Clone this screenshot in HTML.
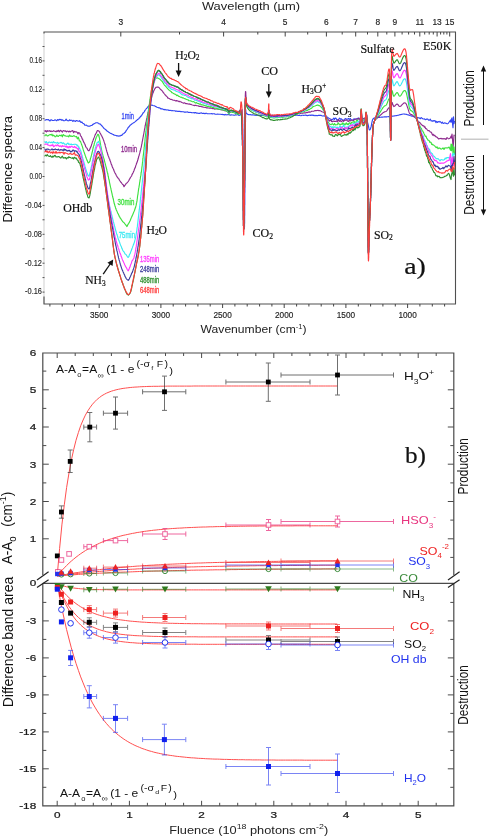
<!DOCTYPE html>
<html><head><meta charset="utf-8"><title>Figure</title>
<style>html,body{margin:0;padding:0;background:#fff;width:490px;height:837px;overflow:hidden}</style>
</head><body>
<svg width="490" height="837" viewBox="0 0 490 837" style="display:block;filter:blur(0.4px)">
<rect width="490" height="837" fill="#fff"/>
<g fill="none" stroke-width="1.15" stroke-linejoin="round">
<path d="M44 120L44.9 120.2L45.7 119.9L46.5 119.5L47.4 119.8L48.2 119.5L49.1 120.2L50 121L50.8 119.9L51.6 119.9L52.5 120.5L53.4 120.5L54.2 120.4L55 119.8L55.9 120.3L56.8 120.8L57.6 119.6L58.5 120.2L59.3 119.3L60.1 119.7L61 119.4L61.9 120.4L62.7 119.8L63.5 120.7L64.4 120.7L65.2 120.5L66.1 119.1L67 120.4L67.8 120.7L68.7 120.8L69.5 119.8L70.3 120.5L71.2 120.2L72 120.3L72.9 121.5L73.8 120.4L74.6 120.9L75.5 121.4L76.3 120.5L77.2 120.8L78 121.1L78.8 121.2L79.6 120.7L80.4 121.8L81.2 122.5L82 122.1L82.7 123.2L83.4 123.5L84.1 123.9L84.8 125.1L85.5 125.2L86.4 125.1L87.2 125.8L88.1 126.2L88.9 126.1L89.7 126.2L90.5 125.7L91.2 125.5L92 125.4L92.8 124.4L93.5 124.2L94.3 123.5L95 123.3L96 122.7L96.9 122.7L97.9 122.9L98.6 123.4L99.4 123.9L100.2 124L101 124.8L101.5 125.6L102 125.7L102.6 126.6L103.2 127.3L103.8 128.2L104.4 128.7L105 129.1L105.7 129.7L106.4 130.3L107.1 131.2L107.8 131.4L108.5 132L109.3 132.6L110 133L110.8 133.4L111.7 133.7L112.5 134.3L113.4 134.5L114.2 135.2L115 135.3L116 135.5L116.9 135.9L117.9 135.8L118.8 136.2L119.7 135.9L120.4 135.9L121.1 135.3L121.8 135.3L122.5 134.4L123.2 133.8L124 133.4L124.5 132.8L124.9 132.4L125.4 132.2L126 130.9L126.5 130.1L127 129.5L127.5 128.8L128 127.9L128.5 127.2L129 126.8L129.5 126.2L130.2 125.2L130.8 124.8L131.5 124.3L132.1 123.7L132.7 123.5L133.3 122.8L134 122.7L134.6 122.1L135.3 121.6L135.9 121L136.6 120.6L137.2 119.7L137.9 119.3L138.6 119L139.3 117.8L139.8 117.8L140.3 116.6L140.9 116.4L141.4 115.3L142 114.9L142.5 114L143.1 112.9L143.6 112.7L144.1 112L144.6 111.1L145 110.4L145.7 109.5L146.4 108.5L146.9 108.2L147.5 107.2L148 106.8L148.5 106.1L149.4 105.4L150.2 104.9L151 105.3L151.9 105L152.8 105.5L154 105.8L154.7 105.9L155.4 106.4L156.2 106.7L157 107.2L157.9 107.5L159 107.9L159.7 107.9L160.3 108.3L161 109L161.7 108.7L162.4 108.9L163.2 109.3L164.1 109.8L165.1 109.4L166.2 109.9L167.5 110L168.1 109.8L168.7 110.4L169.4 110.4L170.1 110.5L170.8 110.4L171.6 110.7L172.4 110.6L173.2 110.8L174 110.7L174.8 110.7L175.7 111.3L176.5 111L177.4 111.3L178.3 111.3L179.1 111.3L180 111.4L180.9 111.7L181.8 111.6L182.6 111.7L183.5 111.8L184.3 112.1L185.2 112.1L186 112.1L186.8 112L187.6 111.9L188.4 112.4L189.2 112.5L190 112.3L190.8 112.5L191.6 112.6L192.4 112.7L193.2 112.8L194 112.6L194.8 113.1L195.6 112.6L196.4 113.1L197.3 113L198.1 113.2L198.9 113.4L199.7 113.4L200.6 113L201.5 112.9L202.3 113.5L203.2 113.2L204.1 113.4L205 113.7L205.8 113.2L206.5 113.2L207.3 113.7L208.2 113.7L209 113.7L209.9 113.8L210.7 113.7L211.6 113.6L212.5 113.9L213.4 113.8L214.3 113.7L215.2 114.2L216 114.2L216.9 114.3L217.8 114.1L218.7 114.2L219.6 114.2L220.4 114.2L221.3 114.5L222.1 114.3L222.9 114.6L223.7 114.6L224.5 115L225.3 114.4L226 114.9L226.7 114.7L227.4 114.8L228 114.5L229.1 114.8L230.2 115.1L231.3 114.9L232.2 115L233.2 115L234 115.3L234.9 115.1L235.7 114.7L236.4 115L237.1 114.8L237.8 114.5L238.4 115.1L239 115.5L239.5 115.3L240 115.1L241.6 112.4L242.1 109.6L242.5 116L242.5 116.4L242.5 116.8L242.6 117.3L242.6 117.8L242.6 118.3L242.6 118.8L242.6 119.3L242.6 119.8L242.7 120.4L242.7 121L242.7 121.6L242.7 122.2L242.7 122.8L242.7 123.5L242.8 124.1L242.8 124.8L242.8 125.5L242.8 126.2L242.8 126.9L242.8 127.7L242.8 128.4L242.9 129.2L242.9 129.9L242.9 130.7L242.9 131.5L242.9 132.3L242.9 133.1L242.9 133.9L243 134.8L243 135.6L243 136.5L243 137.3L243 138.2L243 139.1L243 140L243.1 140.9L243.1 141.8L243.1 142.7L243.1 143.6L243.1 144.5L243.1 145.5L243.1 146.4L243.1 147.3L243.2 148.3L243.2 149.2L243.2 150.2L243.2 151.1L243.2 152.1L243.2 153L243.2 154L243.2 155L243.3 155.9L243.3 156.9L243.3 157.9L243.3 158.8L243.3 159.8L243.3 160.8L243.3 161.8L243.3 162.7L243.3 163.7L243.4 164.7L243.4 165.6L243.4 166.6L243.4 167.5L243.4 168.5L243.4 169.4L243.4 170.4L243.4 171.3L243.4 172.3L243.5 173.2L243.5 174.1L243.5 175.1L243.5 176L243.5 176.9L243.5 177.8L243.5 178.7L243.5 179.6L243.5 180.5L243.5 181.3L243.6 182.2L243.6 183.1L243.6 183.9L243.6 184.8L243.6 185.6L243.6 186.4L243.6 187.2L243.6 188L243.6 188.8L243.6 189.6L243.7 190.3L243.7 191.1L243.7 191.8L243.7 192.5L243.7 193.2L243.7 193.9L243.7 194.6L243.7 195.3L243.7 195.9L243.7 196.5L243.8 197.2L243.8 197.8L243.8 198.3L243.8 198.9L243.8 199.5L243.8 200L243.8 201.7L243.9 203.4L243.9 205.1L243.9 206.7L243.9 208.3L244 209.9L244 211.5L244 213L244 214.4L244.1 215.8L244.1 217.2L244.1 218.5L244.1 219.7L244.1 220.9L244.2 222L244.2 223L244.2 223.9L244.2 224.8L244.2 225.6L244.3 226.3L244.3 226.9L244.3 227.4L244.3 227.7L244.3 228L244.4 228.2L244.4 228.3L244.4 228.2L244.4 228L244.4 227.7L244.5 227.3L244.5 226.7L244.5 226L244.5 225.7L244.5 225.4L244.5 225.1L244.5 224.7L244.5 224.4L244.5 224L244.6 223.5L244.6 223.1L244.6 222.6L244.6 222.1L244.6 221.6L244.6 221.1L244.6 220.5L244.6 219.9L244.6 219.3L244.6 218.7L244.6 218.1L244.6 217.4L244.6 216.7L244.6 216L244.7 215.3L244.7 214.6L244.7 213.8L244.7 213.1L244.7 212.3L244.7 211.5L244.7 210.7L244.7 209.9L244.7 209.1L244.7 208.2L244.7 207.4L244.7 206.5L244.7 205.6L244.8 204.8L244.8 203.9L244.8 203L244.8 202L244.8 201.1L244.8 200.2L244.8 199.2L244.8 198.3L244.8 197.3L244.8 196.4L244.8 195.4L244.8 194.4L244.8 193.5L244.9 192.5L244.9 191.5L244.9 190.5L244.9 189.5L244.9 188.5L244.9 187.5L244.9 186.5L244.9 185.6L244.9 184.6L244.9 183.6L244.9 182.6L244.9 181.6L244.9 180.6L244.9 179.6L245 178.6L245 177.6L245 176.6L245 175.6L245 174.7L245 173.7L245 172.7L245 171.8L245 170.8L245 169.9L245 169L245 168L245 167.1L245.1 166.2L245.1 165.3L245.1 164.4L245.1 163.5L245.1 162.6L245.1 161.8L245.1 160.9L245.1 160.1L245.1 159.3L245.1 158.5L245.1 157.7L245.1 156.9L245.1 156.1L245.1 155.4L245.2 154.7L245.2 153.9L245.2 153.2L245.2 152.6L245.2 151.9L245.2 151.2L245.2 150.6L245.2 150L245.2 148.8L245.2 147.6L245.2 146.4L245.2 145.3L245.3 144.1L245.3 143L245.3 141.9L245.3 140.8L245.3 139.7L245.3 138.7L245.3 137.6L245.3 136.6L245.3 135.6L245.3 134.6L245.3 133.7L245.4 132.7L245.4 131.8L245.4 130.8L245.4 129.9L245.4 129.1L245.4 128.2L245.4 127.3L245.4 126.5L245.4 125.7L245.4 124.9L245.4 124.1L245.4 123.4L245.4 122.6L245.5 121.9L245.5 121.2L245.5 120.5L245.5 119.8L245.5 119.2L245.5 118.5L245.5 117.9L245.6 117.3L245.6 116.7L245.6 116.2L245.6 115.6L245.6 115.1L245.6 114.6L245.7 114.1L245.7 113.7L245.7 113.2L245.7 112.8L245.8 112.4L245.8 112L245.8 109.8L245.7 110.8L246.2 113.1L248 114.5L248.5 114.6L249.1 114.6L249.7 114.7L250.4 114.6L251.2 115L252 114.9L252.9 114.9L253.8 115L254.7 115.1L255.6 115.3L256.6 115.3L257.6 115.2L258.6 115L259.6 115.4L260.5 115.2L261.5 115.5L262.4 115.1L263.3 115.3L264.1 115.3L264.9 115.1L265.7 115.7L266.4 115.6L267 115.2L267.5 115.4L268 115.3L269.6 114L269.6 113.5L269.1 112.4L268.8 112L268.5 112.2L268 113.4L268 114.5L269.6 115.5L270 115.4L270.5 115.4L271.1 115.8L271.7 115.4L272.3 115.4L273 115.2L273.7 115.9L274.4 115.8L275.2 115.8L276 115.7L276.9 115.6L277.7 115.6L278.6 115.5L279.5 115.5L280.4 115.5L281.4 115.8L282.3 115.6L283.3 115.5L284.2 115.3L285.2 115.3L286.2 115.7L287.1 115.5L288.1 115.4L289 115.3L290 115.2L290.7 115.4L291.5 115.6L292.3 115.3L293.1 115.4L293.9 115.4L294.8 115.4L295.6 115.1L296.5 115.3L297.4 115.2L298.3 115.5L299.2 115.2L300.1 115.5L301 115.7L301.9 115.3L302.8 115.2L303.8 115.4L304.7 115.3L305.6 115.1L306.5 115.4L307.4 115.7L308.2 115.3L309.1 115.3L309.9 115.1L310.8 115.4L311.6 115.1L312.3 115.1L313.1 115.6L313.8 115.2L314.5 115.6L315.2 115.7L315.8 115.4L316.4 115.5L317 115.8L318.5 115.4L319.8 115.4L320.9 115.3L321.8 115.7L322.5 116L323.2 116L323.8 115.8L324.3 115.9L324.9 116.1L325.4 116.4L326 116.5L327 116.9L327.6 117.4L328.2 117.7L328.8 118.3L329.7 118.7L331 119.3L331.6 120.4L332.2 119.6L332.9 119.2L333.7 118.1L334.4 119.6L335.2 118L336.1 118.4L336.9 120L337.8 119.9L338.7 119.3L339.6 118.2L340.5 119.1L341.4 118.9L342.4 119.9L343.3 121L344.1 119.6L345 118.9L345.8 118.6L346.7 119.3L347.5 119.2L348.4 118.5L349.3 119.4L350.3 118.5L351.2 120L352.1 120L353 120L353.9 118.8L354.8 119.5L355.6 119L356.5 118.8L357.3 118.8L358 118.1L358.7 118L359.4 119.6L360 118.9L361.4 119.1L362.5 119L363.4 118.9L364.2 119L364.8 119L365.4 119.2L366 119.5L366.6 120L367 120.6L367.3 121.4L367.5 122.2L367.7 123.1L368 124L368.2 124.9L368.4 125.9L368.6 126.9L368.8 128L369 128.9L369.2 129.6L369.4 130L369.8 130L370.2 129.4L370.6 128.3L371 127L371.2 126.4L371.3 125.6L371.5 124.8L371.6 123.8L371.8 122.9L372 122L372.2 121.1L372.4 120.3L372.7 119.6L373 119L373.6 118.4L374.2 118L374.9 117.8L375.7 117.7L376.7 117.6L378 117.5L378.6 117.4L379.3 117.3L380 117.3L380.8 117.2L381.7 117.1L382.5 117.1L383.4 117L384.3 116.9L385.2 116.9L386.1 116.8L387 116.8L387.8 116.7L388.6 116.6L389.3 116.6L390 116.5L391.1 116.4L392.1 116.3L393 116.1L393.8 116L394.6 115.9L395.4 115.8L396.2 115.6L397 115.5L397.9 115.3L398.8 115.1L399.6 114.8L400.5 114.6L401.4 114.4L402.2 114.2L403.1 114L403.9 114L404.8 114.1L405.7 114.2L406.5 114.4L407.4 114.7L408.2 114.9L409.1 115.2L410 115.5L410.7 115.7L411.3 115.9L412 116.1L412.6 116.3L413.3 116.5L414 116.7L414.9 117L415.9 117.2L417 117.5L417.6 117.6L418.2 117.8L418.9 117.9L419.6 118.1L420.4 118.7L421.1 117.5L421.9 118.1L422.7 118.8L423.5 119L424.4 118.8L425.2 119.7L426.1 119.4L426.9 118.9L427.8 119.2L428.6 120.2L429.5 120.2L430.3 119.2L431.2 121L432 120.8L432.8 121.3L433.6 120.6L434.3 120.9L435.1 120.6L435.9 122.6L436.7 121.4L437.5 122.5L438.3 121.5L439.1 122.1L439.9 121.4L440.7 122.2L441.6 123.1L442.4 122.1L443.2 123.5L444 123.3L444.8 122.8L445.6 123.2L446.4 123.4L447.2 123.8L448 123.7" stroke="#3346f2"/>
<path d="M448 123.7L450.5 120L451 122.4L451.5 119.1L452 117.9L452.5 123.5L453 127.7L453.5 116.8L454 123.7L454.5 120.8" stroke="#3346f2"/>
<path d="M44 130.4L44.8 131.5L45.6 130.7L46.4 132L47.2 130.6L48 131.3L48.8 131L49.6 130.7L50.4 131.5L51.2 131.1L52 131.6L52.8 131.2L53.6 130.6L54.4 131.2L55.2 131.3L56 131.9L56.8 130.8L57.6 131.3L58.4 130.3L59.2 131.8L60 130.8L60.8 130.3L61.6 131.4L62.4 132.1L63.2 130.6L64 130.8L64.8 131.1L65.6 130.9L66.4 131.8L67.2 131.1L68 131.2L68.8 132L69.6 131.2L70.4 131.9L71.2 131.1L72 131L72.8 130.6L73.6 132.7L74.4 131.4L75.2 131.8L76 131.8L76.7 132.1L77.3 132.4L78 133.9L78.7 132.6L79.3 132.9L80 133.7L80.4 135.4L80.7 136L81.1 136.3L81.5 136.9L81.9 138L82.2 139.2L82.6 139L83 140.6L83.3 141L83.7 142.3L84 142.4L84.4 143.5L84.8 144.1L85.2 145L85.6 146.4L86 147.1L86.3 147.5L86.7 148L87 148.2L87.7 149.8L88.4 150.6L89 150.6L89.4 150.2L89.8 149.2L90.1 148.6L90.5 147.5L91 146.6L91.2 146.1L91.5 144.9L91.8 144L92 143.4L92.3 142.4L92.6 141.5L92.9 140.9L93.2 139.8L93.5 139.4L93.7 138.5L94 137.9L94.4 136.9L94.8 135.8L95.1 134.9L95.5 134.4L95.8 133.6L96.2 133.2L96.5 132.6L97.1 131L97.7 130.6L98.6 130.7L98.9 131.2L99.3 131.7L99.6 131.8L100 133L100.5 133.7L100.9 134.4L101.3 135.2L101.8 136.1L102.2 136.9L102.7 138L103.1 138.9L103.5 140L103.7 140.4L104 141.4L104.2 142L104.4 142.7L104.7 143.4L104.9 144.3L105.1 144.7L105.3 145.9L105.5 146.7L105.8 147.5L106 148.3L106.2 149L106.4 149.9L106.7 150.9L106.9 151.7L107.2 152.5L107.4 153L107.7 154.3L108 155.2L108.3 155.9L108.5 156.5L108.8 157L109.1 158.3L109.4 158.8L109.7 159.2L110 160.6L110.3 161.1L110.6 161.9L110.9 162.9L111.2 164.1L111.6 164.6L111.9 165.5L112.2 166.6L112.5 167.4L112.8 167.8L113.1 168.5L113.4 169L113.7 169.8L114 170.7L114.2 171.3L114.5 171.8L115 173L115.4 173.6L115.9 174.6L116.3 175.5L116.7 176.1L117.1 176.9L117.5 177.3L117.8 177.7L118.2 178.4L118.6 178.7L119 179.2L119.6 180.5L120.2 181.2L120.7 182.1L121.3 182.5L121.9 183.5L122.4 184.1L122.8 184.6L123.2 184.8L123.8 186.3L124 186.7L124.2 186.4L124.8 185.3L125.2 185L125.6 184.6L126.1 183.4L126.6 183.3L127.2 182.7L127.8 182L128.4 181.3L129 180.2L129.3 179.5L129.7 178.9L130 178.4L130.4 177.5L130.8 177L131.2 176.5L131.6 176L131.9 174.8L132.3 174.1L132.7 173.4L133.1 172.8L133.5 171.6L133.9 171L134.3 169.6L134.7 168.8L134.9 168.1L135.2 167.7L135.4 167.1L135.7 165.9L135.9 165.4L136.1 164.9L136.4 164L136.6 163.1L136.9 162.9L137.1 162.1L137.4 161.3L137.6 160.4L137.9 159.9L138.1 158.8L138.3 158.3L138.6 157L138.8 156.2L139.1 155.6L139.3 154.5L139.5 153.9L139.8 152.9L140 151.7L140.3 151L140.5 149.9L140.7 149.5L140.8 148.5L141 147.8L141.2 147.4L141.3 146.8L141.5 146L141.6 144.8L141.8 144.1L142 143.5L142.1 142.4L142.3 141.3L142.5 140.7L142.6 139.9L142.8 138.8L143 137.8L143.1 137L143.3 136.5L143.4 135.4L143.6 134.6L143.8 133.8L143.9 133L144.1 132L144.2 131.3L144.4 130.2L144.5 129.5L144.7 128.5L144.9 128.1L145 127.1L145.1 126.2L145.3 125.5L145.4 124.8L145.6 124.2L145.7 123L145.9 122.5L146 121.9L146.2 121.5L146.4 120.2L146.6 119.1L146.8 118.3L147 117.7L147.2 116.4L147.4 115.5L147.5 115L147.7 114L147.9 113.2L148.1 112.2L148.2 111.9L148.4 111.1L148.6 110.2L148.7 109.5L148.9 108.2L149.1 108.1L149.2 107.2L149.4 106.7L149.5 106.1L149.7 105.2L149.8 104.3L150 104.1L150.2 102.8L150.5 101.9L150.7 101L150.9 100.1L151.1 98.9L151.3 98.8L151.5 97.8L151.7 97.2L151.9 96.7L152.1 95.6L152.3 94.5L152.6 94.1L152.8 93.4L153 92.9L153.4 92L153.8 90.6L154.2 90.2L154.6 89L155 88.6L155.5 87.9L155.9 87.4L156.4 87.2L157.1 87L157.9 87.1L158.7 87.3L159.5 88.1L160.3 89.1L161 89.8L161.5 90.2L162 90.7L162.5 91.1L163 92.2L163.5 92.6L163.9 93.3L164.5 94L165 94.7L165.6 95.2L166.1 95.9L166.7 96.3L167.3 97L167.9 98.1L168.5 98.1L169.2 98.6L170 99.1L170.7 99.5L171.5 99.4L172.3 99.8L173.1 100.2L174 100.3L174.9 100.4L175.8 100.9L176.7 100.6L177.6 101L178.3 101.1L179.1 101.7L179.7 101.3L180.4 101.8L181.2 102L181.9 102.5L182.7 102.7L183.6 103.2L184.6 102.8L185.6 103.6L186.8 103.6L187.4 103.7L188.1 104.1L188.7 104L189.4 103.9L190.2 104.4L190.9 104.3L191.7 104.7L192.5 105L193.3 105.2L194.1 105.6L195 105.4L195.8 105.3L196.7 105.7L197.5 105.8L198.4 105.9L199.2 106.4L200.1 106.4L200.9 106.2L201.8 106.9L202.6 106.9L203.5 107.2L204.3 107.3L205.1 107.5L205.9 107.5L206.7 107.9L207.6 107.9L208.5 108L209.4 108.2L210.3 107.9L211.2 108.3L212.1 108.4L213 108.6L213.9 108.4L214.8 109.2L215.6 109L216.5 108.8L217.3 108.8L218.2 109.2L219 109.4L219.7 109.4L220.5 109.6L221.2 109.6L221.8 109.9L222.4 109.8L223 110L223.5 110.3L225.3 111L226.3 110.5L226.8 110.9L227.1 111.1L227.5 111.8L228.2 112.3L228.6 113.5L229 114.1L229.3 113.5L229.6 112.6L230.5 112L231.1 111.6L231.8 111.6L232.7 111.7L233.6 111.8L234.6 111.7L235.6 111.4L236.5 111.7L237.3 112L238 112L239 111.4L239.8 110.2L240.5 109.8L241 110.6L241.5 113.9L241.5 114.3L241.6 114.8L241.6 115.3L241.7 115.7L241.7 116.3L241.7 116.8L241.8 117.3L241.8 117.9L241.8 118.5L241.9 119.1L241.9 119.7L241.9 120.3L242 121L242 121.6L242 122.3L242 123L242.1 123.7L242.1 124.5L242.1 125.2L242.1 125.9L242.2 126.7L242.2 127.5L242.2 128.3L242.2 129.1L242.2 129.9L242.3 130.7L242.3 131.6L242.3 132.4L242.3 133.3L242.3 134.1L242.4 135L242.4 135.9L242.4 136.8L242.4 137.7L242.4 138.6L242.5 139.5L242.5 140.4L242.5 141.4L242.5 142.3L242.5 143.3L242.5 144.2L242.5 145.2L242.6 146.1L242.6 147.1L242.6 148.1L242.6 149.1L242.6 150L242.6 151L242.7 152L242.7 153L242.7 154L242.7 155L242.7 156L242.7 157L242.8 158L242.8 159L242.8 160L242.8 160.7L242.8 161.4L242.8 162.1L242.8 162.8L242.9 163.6L242.9 164.4L242.9 165.1L242.9 165.9L242.9 166.8L242.9 167.6L242.9 168.4L242.9 169.3L243 170.2L243 171.1L243 171.9L243 172.9L243 173.8L243 174.7L243 175.6L243 176.6L243 177.5L243 178.5L243.1 179.4L243.1 180.4L243.1 181.4L243.1 182.4L243.1 183.4L243.1 184.3L243.1 185.3L243.1 186.3L243.1 187.3L243.1 188.3L243.2 189.3L243.2 190.3L243.2 191.3L243.2 192.3L243.2 193.3L243.2 194.3L243.2 195.3L243.2 196.3L243.2 197.3L243.2 198.3L243.2 199.2L243.3 200.2L243.3 201.2L243.3 202.1L243.3 203.1L243.3 204L243.3 205L243.3 205.9L243.3 206.8L243.3 207.7L243.3 208.6L243.3 209.5L243.3 210.4L243.4 211.2L243.4 212.1L243.4 212.9L243.4 213.7L243.4 214.5L243.4 215.3L243.4 216.1L243.4 216.8L243.4 217.6L243.4 218.3L243.4 219L243.4 219.7L243.5 220.3L243.5 221L243.5 221.6L243.5 222.2L243.5 222.8L243.5 223.3L243.5 223.8L243.5 224.4L243.5 224.8L243.5 225.3L243.5 225.7L243.5 226.1L243.6 226.5L243.6 226.9L243.6 227.2L243.6 227.5L243.6 227.8L243.6 228L243.6 228.4L243.6 228.8L243.7 229L243.7 229.1L243.7 229L243.7 228.9L243.7 228.7L243.8 228.4L243.8 227.9L243.8 227.4L243.8 226.8L243.8 226.2L243.9 225.4L243.9 224.6L243.9 223.7L243.9 222.8L243.9 221.8L244 220.8L244 219.7L244 218.6L244 217.4L244 216.2L244 215L244.1 213.8L244.1 212.5L244.1 211.3L244.1 210L244.1 208.7L244.2 207.5L244.2 206.2L244.2 205L244.2 203.7L244.2 202.5L244.2 201.3L244.3 200.2L244.3 199.1L244.3 198L244.3 197.3L244.3 196.7L244.3 196L244.3 195.3L244.4 194.7L244.4 194L244.4 193.3L244.4 192.6L244.4 191.9L244.4 191.1L244.4 190.4L244.4 189.7L244.4 189L244.4 188.2L244.5 187.5L244.5 186.7L244.5 186L244.5 185.2L244.5 184.4L244.5 183.7L244.5 182.9L244.5 182.1L244.5 181.3L244.6 180.5L244.6 179.7L244.6 178.9L244.6 178.1L244.6 177.3L244.6 176.5L244.6 175.7L244.6 174.8L244.6 174L244.6 173.2L244.7 172.4L244.7 171.5L244.7 170.7L244.7 169.8L244.7 169L244.7 168.2L244.7 167.3L244.7 166.5L244.7 165.6L244.7 164.7L244.7 163.9L244.8 163L244.8 162.2L244.8 161.3L244.8 160.4L244.8 159.6L244.8 158.7L244.8 157.8L244.8 157L244.8 156.1L244.8 155.2L244.9 154.4L244.9 153.5L244.9 152.6L244.9 151.7L244.9 150.9L244.9 150L244.9 149.2L244.9 148.5L244.9 147.7L244.9 146.9L244.9 146.1L244.9 145.2L244.9 144.4L245 143.5L245 142.7L245 141.8L245 140.9L245 140L245 139.1L245 138.1L245 137.2L245 136.3L245 135.3L245 134.4L245 133.4L245 132.5L245 131.5L245 130.5L245 129.6L245 128.6L245 127.6L245 126.7L245 125.7L245.1 124.7L245.1 123.7L245.1 122.8L245.1 121.8L245.1 120.8L245.1 119.9L245.1 118.9L245.1 118L245.1 117L245.1 116.1L245.1 115.2L245.1 114.3L245.1 113.3L245.1 112.4L245.1 111.5L245.1 110.7L245.1 109.8L245.1 108.9L245.2 108.1L245.2 107.3L245.2 106.4L245.2 105.6L245.2 104.9L245.2 104.1L245.2 103.3L245.2 102.6L245.2 101.9L245.2 101.2L245.2 100.5L245.2 99.8L245.3 99.2L245.3 98.6L245.3 98L245.3 97.4L245.3 96.9L245.3 96.3L245.3 95.8L245.3 95.4L245.3 94.9L245.4 94.5L245.4 94.1L245.4 93.7L245.4 93.4L245.5 92.1L245.5 91.5L245.6 91.5L245.7 91.9L245.8 92.8L245.8 94L245.9 95.4L246 96.9L246.1 98.5L246.3 100.2L246.4 101.7L246.6 103L246.8 104.1L247 104.9L247.4 105.8L247.9 106.5L248.5 107L249.1 107.5L249.8 107.8L250.5 108.3L251.2 108.5L252 108.8L252.7 109.2L253.4 110L254.2 110.2L255 110.7L255.8 110.7L256.7 111.4L257.5 111.4L258.4 111.8L259.2 112.7L260 112.7L260.8 112.7L261.6 113.2L262.5 113.7L263.3 114.3L264.2 114.3L265 114.4L265.7 115L266.4 115.3L267 115.4L267.5 115.6L268.1 114.9L268.4 114L268.5 112.4L268.6 111.6L268.7 111L268.8 110.4L268.9 110.6L268.9 111.3L268.9 112.6L268.9 113.1L269 114.3L269.4 115.4L270 116L270.5 116L271.2 116.3L271.9 116.3L272.7 116.4L273.5 116.4L274.4 116.2L275.4 116.4L276.3 116.5L277.3 116.1L278.2 116.2L279.1 116.3L280 115.9L280.8 116.1L281.7 115.8L282.5 116.2L283.3 116.3L284.2 116.2L285 115.6L285.8 115.7L286.7 115.5L287.5 115.4L288.3 115.5L289.2 114.8L290 115.2L290.8 114.9L291.7 115L292.6 114.7L293.5 114.4L294.4 114.4L295.3 114.3L296.2 114.1L297 114L297.9 113.7L298.6 113.2L299.3 113.7L300 113.6L301.1 113.3L302 113.2L302.8 113.3L303.5 113L304.2 112.8L305 112.8L305.8 112.9L306.7 112.3L307.6 112.6L308.4 112.1L309.2 111.9L310 112.2L310.9 111.7L311.7 111.2L312.5 111.2L313.3 111.3L314 111.1L315.1 110.6L316.2 110.6L317.1 110.5L317.9 110.3L318.7 110.6L319.5 110.6L320.3 110.8L321.2 111.2L322 111.7L322.8 112L323.7 112.3L324.5 113.1L324.9 114L325.2 114.5L325.6 115.5L326 116.4L326.3 117L326.7 118.1L327 118.1L327.7 119.3L328.4 119.7L329 120.6L329.2 121.1L331 119.9L331.5 121.5L332.2 121.6L332.9 121.6L333.7 121L334.5 121.4L335.4 121.5L336.4 121L337.3 121.8L338.3 119.5L339.3 121.5L340.2 120.4L341.2 121.7L342.1 120.9L342.9 120.4L343.7 121.3L344.4 120.4L345 120.4L346.3 119.8L347.3 120.9L347.9 121.1L348.5 121.4L349.2 120.4L350 121.1L350.8 120.3L351.7 120L352.7 120.3L353.6 120.5L354.6 119.3L355.5 119.2L356.3 119.1L357 119.2L358.4 118.4L359.3 119.7L360 118.2L360.4 118.1L360.6 116.1L360.8 115.8L361 114.9L361.2 113.9L361.4 116L361.6 115.7L361.7 117.8L362 118.3L362.3 118.2L363.1 118.6L364.2 118.4L365 118L365.4 117.3L365.6 116.3L365.8 115.4L366 115L366.3 114.6L366.5 114.3L366.8 115.1L367 118L367 118.4L367 118.9L367 119.3L367.1 119.7L367.1 120.1L367.1 120.6L367.1 121L367.1 121.5L367.1 121.9L367.1 122.4L367.1 122.8L367.1 123.3L367.2 123.8L367.2 124.4L367.2 124.9L367.2 125.5L367.2 126L367.2 126.6L367.2 127.3L367.2 127.9L367.2 128.6L367.2 129.4L367.2 130.1L367.2 130.9L367.2 131.7L367.2 132.6L367.3 133.5L367.3 134.5L367.3 135.5L367.3 136.5L367.3 137.6L367.3 138.8L367.3 140L367.3 141.2L367.3 142.5L367.3 143.9L367.4 145.3L367.4 146.8L367.4 148.4L367.4 150L367.4 150.5L367.4 151.1L367.4 151.7L367.4 152.2L367.4 152.8L367.4 153.5L367.4 154.1L367.4 154.7L367.4 155.4L367.5 156.1L367.5 156.8L367.5 157.5L367.5 158.2L367.5 158.9L367.5 159.6L367.5 160.4L367.5 161.1L367.5 161.9L367.5 162.7L367.5 163.5L367.5 164.3L367.5 165.1L367.5 166L367.5 166.8L367.5 167.6L367.6 168.5L367.6 169.4L367.6 170.2L367.6 171.1L367.6 172L367.6 172.9L367.6 173.8L367.6 174.7L367.6 175.7L367.6 176.6L367.6 177.5L367.6 178.5L367.6 179.4L367.6 180.4L367.6 181.3L367.7 182.3L367.7 183.2L367.7 184.2L367.7 185.2L367.7 186.2L367.7 187.2L367.7 188.1L367.7 189.1L367.7 190.1L367.7 191.1L367.7 192.1L367.7 193.1L367.7 194.1L367.7 195.1L367.8 196.1L367.8 197.1L367.8 198.1L367.8 199.1L367.8 200.1L367.8 201.1L367.8 202.1L367.8 203.1L367.8 204.1L367.8 205L367.8 206L367.8 207L367.8 208L367.9 209L367.9 210L367.9 210.9L367.9 211.9L367.9 212.9L367.9 213.8L367.9 214.8L367.9 215.7L367.9 216.7L367.9 217.6L367.9 218.6L367.9 219.5L367.9 220.4L368 221.3L368 222.2L368 223.1L368 224L368 224.9L368 225.8L368 226.6L368 227.5L368 228.3L368 229.2L368 230L368 230.8L368.1 231.6L368.1 232.4L368.1 233.2L368.1 233.9L368.1 234.7L368.1 235.5L368.1 236.2L368.1 236.9L368.1 237.6L368.1 238.3L368.1 239L368.1 239.7L368.1 240.3L368.2 241L368.2 241.6L368.2 242.2L368.2 242.8L368.2 243.4L368.2 243.9L368.2 244.5L368.2 245L368.2 245.5L368.2 246L368.2 246.5L368.2 247L368.2 247.4L368.3 247.8L368.3 248.3L368.3 248.6L368.3 249L368.3 249.4L368.3 249.7L368.3 250L368.3 251.1L368.4 251.9L368.4 252.5L368.4 252.9L368.5 253.1L368.5 253L368.5 252.8L368.5 252.4L368.6 251.9L368.6 251.2L368.6 250.4L368.7 249.4L368.7 248.4L368.7 247.2L368.8 246L368.8 244.6L368.8 243.3L368.9 241.9L368.9 240.4L368.9 238.9L369 237.5L369 236L369 234.5L369.1 233.1L369.1 231.7L369.1 230.4L369.2 229.1L369.2 227.9L369.2 226.9L369.3 225.9L369.3 225L369.3 224.2L369.4 223.4L369.4 222.7L369.4 221.9L369.5 221.2L369.5 220.5L369.6 219.7L369.6 219L369.6 218.3L369.7 217.6L369.7 216.9L369.7 216.2L369.8 215.5L369.8 214.8L369.9 214.1L369.9 213.4L369.9 212.6L370 211.9L370 211.1L370.1 210.3L370.1 209.5L370.1 208.7L370.2 207.9L370.2 207L370.3 206.1L370.3 205.2L370.3 204.2L370.4 203.2L370.4 202.2L370.5 201.1L370.5 200L370.5 199.4L370.5 198.7L370.6 198L370.6 197.4L370.6 196.7L370.6 195.9L370.7 195.2L370.7 194.5L370.7 193.7L370.7 192.9L370.8 192.2L370.8 191.4L370.8 190.5L370.8 189.7L370.8 188.9L370.9 188.1L370.9 187.2L370.9 186.4L370.9 185.5L371 184.7L371 183.8L371 182.9L371 182L371.1 181.2L371.1 180.3L371.1 179.4L371.1 178.5L371.2 177.6L371.2 176.7L371.2 175.8L371.2 175L371.2 174.1L371.3 173.2L371.3 172.3L371.3 171.4L371.3 170.6L371.4 169.7L371.4 168.8L371.4 168L371.4 167.1L371.5 166.3L371.5 165.5L371.5 164.6L371.5 163.8L371.5 163L371.6 162.2L371.6 161.4L371.6 160.7L371.6 159.9L371.7 159.2L371.7 158.4L371.7 157.7L371.7 157L371.8 156.3L371.8 155.7L371.8 155L371.8 153.9L371.9 152.8L371.9 151.8L371.9 150.8L372 149.7L372 148.7L372.1 147.7L372.1 146.8L372.1 145.8L372.2 144.9L372.2 143.9L372.2 143L372.3 142.1L372.3 141.2L372.3 140.4L372.4 139.5L372.4 138.7L372.4 137.9L372.5 137.1L372.5 136.3L372.5 135.6L372.6 134.9L372.6 134.1L372.7 133.4L372.7 132.8L372.7 132.1L372.8 131.4L372.8 130.8L372.8 130.2L372.9 129.6L372.9 129.1L373 128.5L373 128L373.2 126.1L373.3 124.7L373.5 123.7L373.7 123L373.8 122.4L374 122L374.3 121.5L374.5 121L375 120.1L375.6 119.5L376.3 118.9L377.2 118.1L377.7 117.7L378.3 117.1L378.9 116.5L379.6 115.9L380.3 115.2L381 114.6L381.7 114L382.3 113.4L382.9 112.9L383.4 112.5L384.4 111.9L385.1 111.7L385.8 111.5L386.4 111.2L387 110.5L387.5 109.6L388 108.8L388.5 108.1L388.9 107.8L389.4 107.3L389.6 107.5L389.9 110.7L389.9 111.1L389.9 111.7L390 112.4L390 113.1L390 113.9L390 114.8L390.1 115.7L390.1 116.6L390.1 117.7L390.1 118.7L390.2 119.8L390.2 120.9L390.2 122L390.2 123.1L390.2 124.3L390.3 125.4L390.3 126.6L390.3 127.7L390.3 128.9L390.3 130L390.4 131L390.4 132.1L390.4 133.1L390.4 134.1L390.5 135L390.5 135.8L390.5 136.6L390.5 137.3L390.5 138L390.6 138.6L390.6 139.1L390.6 139.4L390.6 139.7L390.7 139.9L390.7 140L390.7 140L390.7 139.9L390.7 139.7L390.8 139.4L390.8 139.1L390.8 138.6L390.8 138.1L390.8 137.6L390.8 137L390.9 136.3L390.9 135.6L390.9 134.8L390.9 133.9L390.9 133.1L390.9 132.2L390.9 131.2L391 130.2L391 129.2L391 128.2L391 127.1L391 126.1L391 125L391.1 123.9L391.1 122.8L391.1 121.7L391.1 120.5L391.1 119.4L391.2 118.3L391.2 117.3L391.2 116.2L391.2 115.1L391.2 114.1L391.3 113.1L391.3 112.1L391.3 111.2L391.3 110.3L391.4 109.4L391.4 108.6L391.4 107.8L391.4 107.1L391.5 106.4L391.5 105.8L391.5 105.3L391.6 104.8L391.6 104.4L392.2 102.5L392.9 104.8L393.8 106.6L394.4 106.3L395.1 105.7L395.8 104.9L396.5 104.3L397.1 104L397.8 104.4L398.5 105.3L399.1 106.2L399.9 106.5L400.5 106.3L401.2 105.7L401.9 104.9L402.7 104.1L403.3 103.4L403.9 103L405.1 102.8L406 103.7L406.4 104.3L406.7 105.1L407.1 106.1L407.4 107.1L407.8 108.1L408.1 108.9L408.3 109.7L408.6 110.6L408.8 111.4L409.1 112.3L409.4 113L409.7 113.5L410.5 114.3L411.4 114.6L412.1 114.9L412.7 115.2L413.3 115.8L413.8 116.3L414.5 117L415.2 117.7L415.9 118.4L416.4 119L416.8 119.5L417.1 120L417.6 120.5L418.2 121.2L418.9 121.8L419.5 122.5L420.1 122.8L420.7 123.5L421.3 124.6L422 125L422.6 125.6L423.2 126L423.8 125.8L424.4 127.2L425 126.8L425.6 128.6L426.2 128.6L426.8 129.2L427.4 130L428 130.7L428.8 130.5L429.5 131L430.2 132L431 132.1L431.8 133.2L432.5 135.1L433.2 134.3L434 135.7L434.8 135.2L435.5 136.6L436.2 136.7L437 137.3L437.8 138L438.5 139L439.2 138.5L440 138.7L441 138.3L442 139L443 138.6L444 139.1L445 138.6L446 139.5L447 137.6L448 138.4L449 138.9" stroke="#8e2a8e"/>
<path d="M449 138.9L450.5 137.7L451 136.1L451.5 138L452 134.1L452.5 139.3L453 147.5L453.5 142.9L454 135L454.5 135.9" stroke="#8e2a8e"/>
<path d="M44 135L44.8 135.8L45.6 134.8L46.4 134.9L47.2 135.9L48 135.9L48.8 135.2L49.6 134.8L50.4 134.5L51.2 135.1L52 134.2L52.8 136L53.6 135.2L54.4 135.9L55.2 136.8L56 136.4L56.8 135L57.6 136.3L58.4 136.5L59.2 135.4L60 135.3L60.8 135.8L61.6 135L62.4 136.8L63.2 134.5L64 135.3L64.8 135.9L65.6 135.9L66.4 136.2L67.2 136.3L68 136L68.8 136.9L69.6 135L70.4 136.3L71.2 135.9L72 136.4L72.8 136.4L73.6 135.7L74.4 135.8L75.2 136.7L76 136.7L76.6 136.4L77.1 138.4L77.7 138.9L78.3 137.2L78.9 138.9L79.4 141L80 141L80.3 141L80.5 141.5L80.8 142.3L81.1 142.9L81.4 144L81.6 144.5L81.9 145.3L82.2 146L82.5 147.1L82.7 147.7L83 148.8L83.3 149.9L83.5 150.5L83.8 151.3L84 151.9L84.3 152.7L84.6 153.6L84.9 154.4L85.2 155.5L85.5 155.9L85.8 157.3L86 157.7L86.3 158.3L86.5 159L86.8 159.6L87 160.3L87.6 161.4L88.1 162.8L88.5 162.8L89 162.3L89.2 162.4L89.5 161.6L89.7 161.5L89.9 161L90.2 160L90.4 158.6L90.7 157.7L91 157.2L91.2 156.2L91.4 155.4L91.5 154.9L91.7 154.5L91.9 153.4L92.2 152.2L92.4 151.4L92.6 150.6L92.8 149.4L93 148.4L93.2 147.8L93.4 146.7L93.6 146.2L93.8 145.5L94 145.4L94.3 143.5L94.6 142.7L94.9 141.7L95.2 140.9L95.4 140.2L95.7 139.1L96 138.3L96.2 137.4L96.5 137L97.2 135.6L97.8 134.3L98.6 134.7L98.7 135.3L98.9 135.9L99 136.6L99.2 136.9L99.3 137.8L99.5 138.1L99.6 139.1L99.8 140.7L100 140.7L100.1 142.1L100.3 143.1L100.5 144L100.6 144.8L100.8 145.9L101 146.8L101.1 147.7L101.3 148.1L101.4 149.3L101.6 149.8L101.8 150.8L102 151.8L102.2 152.7L102.4 153.6L102.6 154.1L102.9 155.2L103.1 156L103.3 156.7L103.5 157.5L103.7 157.9L103.9 158.7L104.1 159.6L104.3 160L104.5 161L104.7 161.6L104.9 162.4L105.1 162.8L105.2 163.6L105.4 164.4L105.6 165.2L105.8 165.9L105.9 166.3L106.1 167.1L106.3 167.7L106.5 168.8L106.8 169.7L107 170.9L107.3 172.4L107.4 172.6L107.6 172.9L107.7 173.7L107.9 174.3L108 175.1L108.2 176.3L108.4 176.9L108.5 177.3L108.7 178.6L108.9 179.5L109.1 180L109.3 180.8L109.4 181.8L109.6 182.8L109.8 183.7L110 184.7L110.2 185.6L110.4 186.5L110.6 187.4L110.8 188.1L110.9 188.5L111.1 189.7L111.3 190.6L111.5 191.3L111.7 192.3L111.8 192.8L112 193.5L112.2 194.6L112.3 195.2L112.5 195.7L112.6 196.5L112.9 197.6L113.1 198.5L113.3 198.9L113.5 200.2L113.7 201.1L113.9 201.8L114.1 202.8L114.3 203.8L114.5 204.2L114.7 204.7L114.9 206L115.1 206.2L115.3 206.7L115.5 207.7L115.7 208.4L116 208.9L116.3 210L116.7 210.6L117 211.4L117.4 212.4L117.8 213.4L118.2 213.9L118.6 214.9L119 215.5L119.4 216.9L119.8 216.9L120.2 218L120.6 218.4L121 219L121.5 219.9L122.1 220.7L122.7 221.6L123.2 222.1L123.8 222.5L124.4 223.2L124.9 223.9L125.4 224.5L125.8 225.1L126.1 225.3L126.8 226.4L126.9 226.6L127.1 226.3L127.7 224.9L127.9 224.5L128.2 223.9L128.6 223.9L128.9 222.8L129.3 222.4L129.7 221.5L130.1 220.8L130.5 219.7L131 218.5L131.3 217.8L131.6 217.3L131.9 216.6L132.2 215.8L132.5 215.1L132.8 214.7L133.2 213.3L133.5 212.9L133.8 211.8L134.2 211.2L134.5 210.5L134.8 209.5L135.1 208.8L135.4 207.5L135.7 207.1L135.9 205.9L136.1 205.4L136.3 204.6L136.4 203.3L136.6 202.9L136.7 202.4L136.8 201.9L137 200.9L137.1 200.1L137.2 199L137.3 198.8L137.4 198L137.5 196.9L137.6 196L137.8 194.9L137.9 194.5L138 194.1L138.1 192.8L138.2 192L138.4 191L138.5 189.8L138.6 189.5L138.7 188.3L138.9 187.7L139 187.1L139.1 186.4L139.2 185.6L139.4 184.8L139.5 183.7L139.6 182.8L139.7 182.3L139.9 181.3L140 180.4L140.1 179.6L140.3 178.9L140.4 177.8L140.5 177.1L140.6 176.2L140.8 175.7L140.9 175L141 174.5L141.1 172.9L141.3 172.3L141.4 171.8L141.5 170.8L141.6 169.9L141.7 169.6L141.8 168.4L141.9 167.4L142 166.7L142.1 166.3L142.2 165.5L142.3 164.5L142.3 163.8L142.4 163.4L142.5 162.7L142.6 161.7L142.7 161.2L142.8 160.5L142.8 159.3L142.9 158.8L143 158.2L143.1 157.2L143.2 156L143.3 155.6L143.4 154.9L143.5 154.2L143.6 152.5L143.7 152.5L143.8 150.8L143.9 150.2L144 149.6L144.1 148.9L144.1 148L144.2 147L144.3 146.7L144.4 145.7L144.4 144.6L144.5 144.9L144.6 143.7L144.7 143.1L144.8 141.8L144.9 141.4L145 140.7L145 139.8L145.1 138.7L145.2 137.6L145.3 137L145.4 135.8L145.5 135L145.6 134.5L145.7 133.5L145.8 132.8L145.9 131.9L146 131.5L146.1 130.5L146.2 129.4L146.3 128.8L146.3 127.5L146.4 126.8L146.5 126.2L146.6 124.9L146.7 124.3L146.8 123.2L146.9 122.7L147 122.2L147.1 120.9L147.2 120.3L147.3 119.3L147.4 118.5L147.5 117.8L147.6 117.4L147.7 116.7L147.8 115.5L147.9 114.4L148.1 113.8L148.2 112.7L148.3 112L148.4 111L148.5 110.1L148.6 109.3L148.8 108.2L148.9 107.3L149 106.2L149.1 105.6L149.2 104.5L149.4 103.9L149.5 102.9L149.6 102.2L149.7 101.5L149.8 100.2L150 99.5L150.1 98.7L150.2 98.3L150.3 97.7L150.4 96.7L150.5 95.8L150.6 95.4L150.8 94.1L150.9 94L151 92.9L151.1 91.8L151.2 92.3L151.3 91.5L151.4 90.3L151.5 90L151.8 88.6L152 87.4L152.3 86L152.5 85.2L152.7 84.6L153 83.8L153.2 83.3L153.4 82.5L153.6 82.4L153.9 81.2L154.1 81L154.3 80.1L154.5 79.7L155.1 79.1L155.7 78L156.3 78.1L157 78L157.7 77.9L158.5 78.4L159.3 78.8L160.2 79.4L161 80.4L161.5 80.8L162 81.2L162.5 81.8L162.9 82.7L163.4 83.3L163.9 84.3L164.5 85.3L165 85.6L165.5 86.1L166 86.7L166.5 87.1L167 87.8L167.5 88.4L168.1 89.1L168.7 89.7L169.3 90.5L170 90.8L170.6 91.3L171.2 91.6L171.8 92.6L172.5 92.7L173.2 93.4L173.9 93.6L174.6 94.1L175.3 94.2L176.1 94.8L176.8 95.6L177.6 95.2L178.3 96L178.9 96.4L179.6 96.5L180.2 96.9L180.9 97.3L181.5 97.2L182.2 97.8L183 97.8L183.8 98.2L184.7 98.6L185.7 99.1L186.8 99.5L187.4 99.8L188 99.7L188.7 100.6L189.3 100.7L190 100.8L190.7 100.9L191.5 101.2L192.2 101.6L193 101.8L193.8 101.6L194.6 102.4L195.4 103.1L196.2 102.4L197 103.3L197.8 103.4L198.7 103.6L199.5 104.2L200.3 103.9L201.1 104.4L201.9 105L202.7 104.9L203.5 105.1L204.3 105.4L205.1 105.5L205.9 106.1L206.7 105.9L207.6 106.5L208.5 106.2L209.4 106.9L210.3 106.9L211.2 106.6L212.1 107.4L213 107.4L213.9 107.7L214.8 108.3L215.6 108L216.5 108.2L217.3 108.9L218.2 108.8L219 109.2L219.7 109.2L220.5 109.1L221.2 109.4L221.8 109.8L222.4 109.9L223 109.9L223.5 110L225.3 110.4L226.3 110.6L226.8 111.4L227.1 111.2L227.5 111.3L228.2 112.3L228.6 113.6L229 114.1L229.3 113.5L229.6 112.4L230.5 112L231.1 111.7L231.8 111.9L232.7 112.5L233.6 112.5L234.6 113L235.6 113.4L236.5 113.6L237.3 113.8L238 114.4L239 113.9L239.8 112.7L240.5 112.2L241 112.9L241.5 116L241.5 116.4L241.6 116.9L241.6 117.3L241.7 117.8L241.7 118.3L241.7 118.9L241.8 119.4L241.8 120L241.8 120.5L241.9 121.1L241.9 121.7L241.9 122.4L242 123L242 123.6L242 124.3L242.1 125L242.1 125.7L242.1 126.4L242.1 127.2L242.2 127.9L242.2 128.7L242.2 129.4L242.2 130.2L242.2 131L242.3 131.8L242.3 132.6L242.3 133.5L242.3 134.3L242.3 135.1L242.4 136L242.4 136.9L242.4 137.8L242.4 138.7L242.4 139.6L242.5 140.5L242.5 141.4L242.5 142.3L242.5 143.2L242.5 144.2L242.5 145.1L242.6 146.1L242.6 147.1L242.6 148L242.6 149L242.6 150L242.6 151L242.7 151.9L242.7 152.9L242.7 153.9L242.7 154.9L242.7 155.9L242.7 157L242.8 158L242.8 159L242.8 160L242.8 160.7L242.8 161.4L242.8 162.1L242.8 162.8L242.9 163.5L242.9 164.3L242.9 165.1L242.9 165.9L242.9 166.7L242.9 167.5L242.9 168.3L242.9 169.2L243 170.1L243 170.9L243 171.8L243 172.7L243 173.6L243 174.6L243 175.5L243 176.4L243 177.4L243 178.3L243.1 179.3L243.1 180.3L243.1 181.2L243.1 182.2L243.1 183.2L243.1 184.2L243.1 185.2L243.1 186.2L243.1 187.2L243.1 188.2L243.2 189.2L243.2 190.2L243.2 191.2L243.2 192.2L243.2 193.2L243.2 194.2L243.2 195.2L243.2 196.2L243.2 197.2L243.2 198.1L243.2 199.1L243.3 200.1L243.3 201.1L243.3 202L243.3 203L243.3 203.9L243.3 204.9L243.3 205.8L243.3 206.7L243.3 207.6L243.3 208.5L243.3 209.4L243.3 210.3L243.4 211.1L243.4 212L243.4 212.8L243.4 213.6L243.4 214.4L243.4 215.2L243.4 216L243.4 216.8L243.4 217.5L243.4 218.2L243.4 218.9L243.4 219.6L243.5 220.3L243.5 220.9L243.5 221.6L243.5 222.2L243.5 222.7L243.5 223.3L243.5 223.8L243.5 224.3L243.5 224.8L243.5 225.3L243.5 225.7L243.5 226.1L243.6 226.5L243.6 226.9L243.6 227.2L243.6 227.5L243.6 227.8L243.6 228L243.6 228.4L243.6 228.8L243.7 229L243.7 229.1L243.7 229L243.7 228.9L243.7 228.7L243.8 228.4L243.8 227.9L243.8 227.4L243.8 226.8L243.8 226.2L243.9 225.4L243.9 224.6L243.9 223.7L243.9 222.8L243.9 221.8L244 220.8L244 219.7L244 218.6L244 217.4L244 216.2L244 215L244.1 213.8L244.1 212.5L244.1 211.3L244.1 210L244.1 208.7L244.2 207.5L244.2 206.2L244.2 205L244.2 203.7L244.2 202.5L244.2 201.3L244.3 200.2L244.3 199.1L244.3 198L244.3 197.3L244.3 196.7L244.3 196L244.3 195.3L244.4 194.6L244.4 193.9L244.4 193.2L244.4 192.5L244.4 191.8L244.4 191.1L244.4 190.3L244.4 189.6L244.4 188.8L244.4 188.1L244.5 187.3L244.5 186.5L244.5 185.8L244.5 185L244.5 184.2L244.5 183.4L244.5 182.6L244.5 181.8L244.5 181L244.6 180.2L244.6 179.4L244.6 178.6L244.6 177.7L244.6 176.9L244.6 176.1L244.6 175.2L244.6 174.4L244.6 173.6L244.6 172.7L244.7 171.9L244.7 171.1L244.7 170.2L244.7 169.4L244.7 168.5L244.7 167.7L244.7 166.8L244.7 166L244.7 165.1L244.7 164.3L244.7 163.4L244.8 162.6L244.8 161.7L244.8 160.9L244.8 160L244.8 159.2L244.8 158.3L244.8 157.5L244.8 156.6L244.8 155.8L244.8 155L244.9 154.1L244.9 153.3L244.9 152.5L244.9 151.6L244.9 150.8L244.9 150L244.9 149.2L244.9 148.4L244.9 147.6L244.9 146.7L244.9 145.9L244.9 145L245 144.1L245 143.2L245 142.3L245 141.4L245 140.5L245 139.6L245 138.7L245 137.7L245 136.8L245 135.9L245 134.9L245 134L245 133L245 132.1L245 131.1L245 130.1L245 129.2L245.1 128.2L245.1 127.3L245.1 126.3L245.1 125.4L245.1 124.4L245.1 123.5L245.1 122.6L245.1 121.6L245.1 120.7L245.1 119.8L245.1 118.9L245.1 118L245.1 117.1L245.1 116.3L245.1 115.4L245.1 114.5L245.1 113.7L245.2 112.9L245.2 112.1L245.2 111.3L245.2 110.5L245.2 109.7L245.2 109L245.2 108.3L245.2 107.6L245.2 106.9L245.2 106.2L245.2 105.6L245.3 104.9L245.3 104.3L245.3 103.7L245.3 103.2L245.3 102.6L245.3 102.1L245.3 101.7L245.4 101.2L245.4 100.8L245.4 100.4L245.4 100L245.5 97.9L245.7 97.6L245.8 98.6L246 100.4L246.3 102.5L246.6 104.4L247 105.7L247.4 106.3L247.9 106.9L248.5 107.5L249.1 108.1L249.8 108.7L250.5 109.4L251.2 109.9L252 110.1L252.7 110.7L253.4 111L254.2 111.1L255 111.8L255.8 112.1L256.7 112.4L257.5 112.5L258.4 113.1L259.2 113.5L260 113.8L260.8 113.9L261.6 114.7L262.5 114.7L263.3 115.3L264.2 116L265 116L265.7 116.3L266.4 116.8L267 116.6L267.5 116.5L268 116.2L268.3 115.5L268.5 113.7L268.6 112.8L268.6 111.7L268.7 110.9L268.8 110.7L268.9 111L268.9 111.8L268.9 112.5L268.9 113.7L268.9 114.8L269.1 115.6L269.4 116.6L270 117.5L270.5 117.5L271.2 117.5L271.9 117.7L272.7 117.6L273.5 117.9L274.4 118L275.4 117.6L276.3 117.6L277.3 117.8L278.2 117.4L279.1 117.5L280 117.2L280.8 117.2L281.7 117.2L282.5 117.7L283.3 117.1L284.2 116.9L285 116.8L285.8 116.8L286.7 116.8L287.5 116.6L288.3 116.8L289.2 116.3L290 116.3L290.8 115.9L291.6 115.7L292.4 115.1L293.2 115.1L294.1 114.8L294.9 114.5L295.7 113.8L296.5 114.1L297.3 113.6L298 113.3L298.7 113.1L299.4 112.9L300 112.8L301.1 112.1L302 111.9L302.8 111.9L303.5 111.7L304.2 111.4L305 111.1L305.8 110.7L306.7 110.5L307.6 110.4L308.4 109.5L309.2 109.7L310 109.1L310.9 108.4L311.7 108.1L312.5 107.1L313.3 106.6L314 106.3L314.9 106L315.6 105.7L316.4 105.3L317.1 105.3L317.9 104.9L318.7 105.6L319.5 105.6L320.1 106.2L320.7 106.8L321.4 107.4L322 108.1L322.5 108.7L323 109.6L323.5 110.4L324 111.2L324.5 111.9L324.8 112.6L325 113.3L325.3 114.3L325.5 114.7L325.8 116.2L326 116.7L326.3 117.5L326.5 118.5L326.8 119.3L327 119.8L327.5 121.1L328 121.8L328.5 122.7L329 123.3L329.2 123.9L331 124.7L331.5 124.4L332.2 123.7L332.9 124.2L333.7 125L334.5 123.5L335.4 124.9L336.4 124.7L337.3 124.6L338.3 122.9L339.3 124.4L340.2 124.9L341.2 123.9L342.1 124.5L342.9 122.7L343.7 124.8L344.4 123.9L345 124.9L346.3 122.9L347.3 124.6L347.9 123.8L348.5 124.3L349.2 122.9L350 122.9L350.7 124.7L351.5 122.3L352.3 122.1L353.2 122.2L354.1 121.4L354.9 122.7L355.7 122.8L356.4 120.8L357 119.9L358.4 121.8L359.3 121.7L360 120.7L360.2 120.3L360.4 117.9L360.6 117.2L360.7 115.2L360.8 114L360.9 114.7L361.1 112.9L361.2 114.7L361.3 113.3L361.4 113.5L361.5 115.4L361.7 117.2L361.8 117.5L361.9 117.4L362.1 119.1L362.3 119.7L363.1 120.3L364.2 120.1L365 119.3L365.3 118.6L365.5 117.6L365.6 116.4L365.7 115.4L365.9 114.6L366 114.3L366.2 114.2L366.4 114.2L366.5 114.6L366.7 115.4L366.9 116.9L367 119.3L367 119.8L367 120.2L367.1 120.7L367.1 121.1L367.1 121.6L367.1 122L367.1 122.4L367.1 122.9L367.1 123.3L367.1 123.8L367.1 124.3L367.2 124.7L367.2 125.3L367.2 125.8L367.2 126.3L367.2 126.9L367.2 127.5L367.2 128.1L367.2 128.7L367.2 129.4L367.2 130.1L367.2 130.9L367.2 131.7L367.2 132.5L367.2 133.4L367.3 134.3L367.3 135.3L367.3 136.3L367.3 137.4L367.3 138.5L367.3 139.7L367.3 141L367.3 142.3L367.3 143.7L367.4 145.2L367.4 146.7L367.4 148.3L367.4 150L367.4 150.5L367.4 151.1L367.4 151.6L367.4 152.2L367.4 152.8L367.4 153.4L367.4 154.1L367.4 154.7L367.4 155.4L367.5 156L367.5 156.7L367.5 157.4L367.5 158.1L367.5 158.8L367.5 159.6L367.5 160.3L367.5 161.1L367.5 161.9L367.5 162.6L367.5 163.4L367.5 164.2L367.5 165.1L367.5 165.9L367.5 166.7L367.5 167.6L367.6 168.4L367.6 169.3L367.6 170.2L367.6 171L367.6 171.9L367.6 172.8L367.6 173.7L367.6 174.6L367.6 175.6L367.6 176.5L367.6 177.4L367.6 178.4L367.6 179.3L367.6 180.3L367.6 181.2L367.7 182.2L367.7 183.2L367.7 184.1L367.7 185.1L367.7 186.1L367.7 187.1L367.7 188L367.7 189L367.7 190L367.7 191L367.7 192L367.7 193L367.7 194L367.7 195L367.8 196L367.8 197L367.8 198L367.8 199L367.8 200L367.8 201L367.8 202L367.8 203L367.8 204L367.8 205L367.8 206L367.8 206.9L367.8 207.9L367.9 208.9L367.9 209.9L367.9 210.9L367.9 211.8L367.9 212.8L367.9 213.8L367.9 214.7L367.9 215.7L367.9 216.6L367.9 217.6L367.9 218.5L367.9 219.4L367.9 220.3L368 221.3L368 222.2L368 223.1L368 224L368 224.8L368 225.7L368 226.6L368 227.4L368 228.3L368 229.1L368 229.9L368 230.8L368.1 231.6L368.1 232.4L368.1 233.1L368.1 233.9L368.1 234.7L368.1 235.4L368.1 236.2L368.1 236.9L368.1 237.6L368.1 238.3L368.1 239L368.1 239.7L368.1 240.3L368.2 241L368.2 241.6L368.2 242.2L368.2 242.8L368.2 243.4L368.2 243.9L368.2 244.5L368.2 245L368.2 245.5L368.2 246L368.2 246.5L368.2 247L368.2 247.4L368.3 247.8L368.3 248.3L368.3 248.6L368.3 249L368.3 249.4L368.3 249.7L368.3 250L368.3 251.1L368.4 251.9L368.4 252.5L368.4 252.9L368.5 253.1L368.5 253L368.5 252.8L368.5 252.4L368.6 251.9L368.6 251.2L368.6 250.4L368.7 249.4L368.7 248.4L368.7 247.2L368.8 246L368.8 244.6L368.8 243.3L368.9 241.9L368.9 240.4L368.9 238.9L369 237.5L369 236L369 234.5L369.1 233.1L369.1 231.7L369.1 230.4L369.2 229.1L369.2 227.9L369.2 226.9L369.3 225.9L369.3 225L369.3 224.2L369.4 223.4L369.4 222.7L369.4 221.9L369.5 221.2L369.5 220.5L369.6 219.7L369.6 219L369.6 218.3L369.7 217.6L369.7 216.9L369.7 216.2L369.8 215.5L369.8 214.8L369.9 214.1L369.9 213.4L369.9 212.6L370 211.9L370 211.1L370.1 210.3L370.1 209.5L370.1 208.7L370.2 207.9L370.2 207L370.3 206.1L370.3 205.2L370.3 204.2L370.4 203.2L370.4 202.2L370.5 201.1L370.5 200L370.5 199.4L370.5 198.7L370.6 198L370.6 197.4L370.6 196.7L370.6 195.9L370.7 195.2L370.7 194.5L370.7 193.7L370.7 192.9L370.8 192.2L370.8 191.4L370.8 190.5L370.8 189.7L370.8 188.9L370.9 188.1L370.9 187.2L370.9 186.4L370.9 185.5L371 184.7L371 183.8L371 182.9L371 182L371.1 181.2L371.1 180.3L371.1 179.4L371.1 178.5L371.2 177.6L371.2 176.7L371.2 175.8L371.2 175L371.2 174.1L371.3 173.2L371.3 172.3L371.3 171.4L371.3 170.6L371.4 169.7L371.4 168.8L371.4 168L371.4 167.1L371.5 166.3L371.5 165.5L371.5 164.6L371.5 163.8L371.5 163L371.6 162.2L371.6 161.4L371.6 160.7L371.6 159.9L371.7 159.2L371.7 158.4L371.7 157.7L371.7 157L371.8 156.3L371.8 155.7L371.8 155L371.8 153.9L371.9 152.8L371.9 151.8L371.9 150.8L372 149.7L372 148.7L372.1 147.7L372.1 146.8L372.1 145.8L372.2 144.9L372.2 143.9L372.2 143L372.3 142.1L372.3 141.2L372.3 140.4L372.4 139.5L372.4 138.7L372.4 137.9L372.5 137.1L372.5 136.3L372.5 135.6L372.6 134.9L372.6 134.1L372.7 133.4L372.7 132.8L372.7 132.1L372.8 131.4L372.8 130.8L372.8 130.2L372.9 129.6L372.9 129.1L373 128.5L373 128L373.2 126.1L373.3 124.8L373.5 123.8L373.7 123.1L373.8 122.5L374 122.1L374.3 121.6L374.5 121L374.8 120.2L375.2 119.6L375.6 119.1L376 118.5L376.5 117.8L377.2 116.8L377.5 116.2L377.9 115.6L378.4 115L378.8 114.2L379.3 113.4L379.8 112.7L380.3 111.9L380.8 111.1L381.3 110.3L381.8 109.5L382.2 108.8L382.7 108.2L383 107.6L383.4 107.2L384.4 106.1L385.1 105.7L385.8 105.5L386.4 104.8L386.8 104.1L387.2 103.1L387.6 102L388 100.9L388.3 100L388.6 99.3L388.9 99L389.2 98.8L389.4 98.7L389.5 98.8L389.6 99.6L389.8 101.2L389.9 103.9L389.9 104.4L389.9 105L390 105.6L390 106.3L390 107L390 107.8L390 108.7L390.1 109.6L390.1 110.5L390.1 111.5L390.1 112.5L390.1 113.5L390.1 114.5L390.2 115.6L390.2 116.7L390.2 117.8L390.2 119L390.2 120.1L390.2 121.2L390.3 122.4L390.3 123.5L390.3 124.6L390.3 125.8L390.3 126.9L390.3 128L390.4 129L390.4 130.1L390.4 131.1L390.4 132L390.4 133L390.5 133.9L390.5 134.7L390.5 135.5L390.5 136.3L390.5 137L390.5 137.6L390.6 138.2L390.6 138.7L390.6 139.1L390.6 139.5L390.6 139.7L390.6 139.9L390.7 140.1L390.7 140.1L390.7 140L390.7 139.9L390.7 139.7L390.7 139.4L390.8 139.1L390.8 138.8L390.8 138.4L390.8 137.9L390.8 137.4L390.8 136.8L390.8 136.2L390.8 135.5L390.9 134.9L390.9 134.1L390.9 133.3L390.9 132.5L390.9 131.7L390.9 130.8L390.9 129.9L390.9 129L391 128L391 127L391 126L391 125L391 124L391 122.9L391 121.9L391 120.8L391 119.7L391.1 118.6L391.1 117.5L391.1 116.4L391.1 115.3L391.1 114.2L391.1 113.1L391.1 112L391.2 111L391.2 109.9L391.2 108.8L391.2 107.8L391.2 106.7L391.2 105.7L391.3 104.7L391.3 103.8L391.3 102.8L391.3 101.9L391.3 101L391.3 100.1L391.4 99.3L391.4 98.5L391.4 97.7L391.4 97L391.5 96.3L391.5 95.7L391.5 95.1L391.5 94.5L391.5 94L391.6 93.5L391.6 93.1L392 90.6L392.6 92L393.1 94.8L393.8 96.3L394.3 96L394.8 95.3L395.4 94.4L396 93.5L396.6 92.8L397.1 92.6L397.7 93L398.2 93.9L398.7 95.1L399.3 96L399.9 96.2L400.4 96L400.9 95.4L401.4 94.6L401.9 93.7L402.5 92.8L403 91.9L403.5 91.2L403.9 90.8L404.8 90.5L405.4 90.9L406 92L406.2 92.5L406.4 93.2L406.6 94L406.8 94.8L407 95.7L407.2 96.7L407.4 97.6L407.6 98.6L407.8 99.6L408 100.4L408.1 101.2L408.3 102.2L408.5 103.1L408.6 104.1L408.8 105L409 105.9L409.1 106.8L409.3 107.6L409.5 108.3L409.7 108.9L410.3 110L410.9 110.6L411.6 110.9L412.1 111.2L412.7 111.8L413.3 112.7L413.7 113.3L414.1 114.1L414.6 115L415.1 115.9L415.6 116.8L416.1 117.6L416.4 118.2L416.8 119.1L417.1 120L417.4 120.6L417.7 121.2L418 122L418.4 122.8L418.8 123.6L419.1 124.4L419.5 125.2L419.9 126L420.3 127L420.7 128.3L421.1 128.2L421.6 128.8L422 130.6L422.4 130.9L422.8 131L423.3 132.1L423.7 132.7L424.1 134L424.6 134.6L425 135.8L425.5 136.4L426 136L426.5 137.8L427 138.7L427.5 139.2L428 140.2L428.6 140.2L429.2 140.7L429.8 142.4L430.4 142.1L431 142.2L431.6 144.4L432.2 144.1L432.8 144.9L433.4 144.9L434 145.4L434.8 146L435.5 146.9L436.2 147.7L437 146.8L438 148.7L439 147.9L440 148.2L441 149.1L442 148.8L443 147.9L444 149.4L445 147.7L446 148L447 147.7L448 148L449 146.8" stroke="#3ee03e"/>
<path d="M449 146.8L450.5 150.3L451 144.2L451.5 150.7L452 144.1L452.5 145.5L453 153.4L453.5 147.9L454 147.1L454.5 154.6" stroke="#3ee03e"/>
<path d="M44 142.3L44.8 141.7L45.6 142.7L46.4 141.6L47.2 143L48 143.1L48.8 142.1L49.6 142.1L50.4 142.6L51.2 142.6L52 142.1L52.8 143L53.6 141.5L54.4 142.6L55.2 142.6L56 142.8L56.8 143.2L57.6 142.3L58.4 143.4L59.2 143L60 142.8L60.8 142.4L61.6 142.6L62.4 143.6L63.2 142.8L64 143.5L64.8 144.2L65.6 144.2L66.4 144.6L67.2 143.5L68 143.1L68.8 144.4L69.6 144L70.4 144.6L71.2 144L72 144.7L72.8 144.5L73.6 144.4L74.4 144.2L75.2 144.2L76 144.4L76.6 144.8L77.1 145.7L77.7 145.2L78.3 147.2L78.9 146.8L79.4 148.5L80 148.9L80.2 150.1L80.5 150.2L80.7 150.6L81 151.5L81.2 152.4L81.5 153.9L81.7 154.2L81.9 155.3L82.2 155.7L82.4 156.9L82.7 157.9L82.9 159.1L83.1 159.3L83.4 160.5L83.6 161.2L83.8 161.6L84 162.6L84.3 163.5L84.5 163.9L84.8 165.5L85 166.4L85.3 167L85.5 167.6L85.7 169.1L86 169.6L86.2 170.5L86.4 171.3L86.6 171.5L86.8 172.4L87 172.7L87.6 174.3L88.1 175.4L88.5 176L89 176.2L89.2 175.6L89.4 175L89.6 174.4L89.8 173.8L90 172.6L90.3 171.7L90.5 170.7L90.7 169.5L91 168.4L91.1 167.6L91.3 167.6L91.4 166.6L91.6 165.6L91.8 164.7L91.9 164.4L92.1 163L92.3 162.1L92.5 161.2L92.6 160.3L92.8 159.7L93 158.5L93.2 158.1L93.3 156.5L93.5 156.1L93.7 154.9L93.8 154.9L94 153.7L94.2 152.7L94.5 151.9L94.7 151L95 149.4L95.2 148.7L95.4 147.6L95.6 147.2L95.9 146.4L96.1 145.6L96.3 144.9L96.5 144.4L97 142.9L97.6 142.2L98.1 141.9L98.6 141.3L98.8 142.1L99 142.4L99.3 143.2L99.5 143.5L99.7 144.4L100 145.1L100.2 146.5L100.5 147.4L100.7 148.6L101 150.1L101.1 150.5L101.2 150.9L101.3 151.9L101.4 152.5L101.6 153.1L101.7 154L101.8 154.7L101.9 155L102 155.8L102.1 157L102.3 157.7L102.4 158.1L102.5 158.8L102.6 159.7L102.7 160.6L102.9 161.3L103 162.5L103.1 163.1L103.3 164L103.4 165.4L103.5 166L103.7 167L103.8 168.2L104 169.2L104.1 169.9L104.2 170.7L104.3 171.2L104.4 172.4L104.5 172.9L104.6 173.3L104.7 174.3L104.8 175.2L104.9 175.9L105 177L105.1 177.7L105.2 178.1L105.3 179L105.4 179.5L105.5 180.7L105.6 181.5L105.7 182.8L105.8 183.1L105.9 183.5L106 184.7L106.2 185.7L106.3 186.3L106.4 187.2L106.5 188.1L106.6 189.1L106.7 189.9L106.9 190.6L107 191.8L107.1 192.4L107.3 193.2L107.4 193.9L107.5 194.9L107.7 196L107.8 196.4L107.9 197.5L108.1 198.5L108.2 199.1L108.4 200L108.6 200.6L108.7 201.9L108.9 202.6L109 203.3L109.2 203.7L109.4 204.6L109.6 205.9L109.7 206.8L109.9 207.4L110.1 208.4L110.3 208.9L110.5 209.8L110.7 210.7L110.9 211.6L111.1 212L111.3 213.4L111.5 214.3L111.7 214.6L111.9 215.4L112.1 216.6L112.3 217.2L112.5 217.6L112.7 219.1L112.9 219.7L113.1 220.4L113.3 221.7L113.5 222.1L113.7 222.7L113.9 223.6L114.1 224.1L114.3 224.9L114.5 225.9L114.7 226.4L114.9 227.1L115.1 228.3L115.2 228.8L115.4 229.4L115.6 230L115.9 231L116.2 232.2L116.4 232.8L116.7 234.2L117 234.5L117.3 235.5L117.6 236.2L117.8 237.3L118.1 238.3L118.4 239.3L118.6 239.7L118.9 240.6L119.2 241.3L119.5 241.9L119.7 242.6L120 243.5L120.2 243.9L120.5 244.9L120.8 245.5L121 246L121.3 246.6L121.5 247.1L121.8 248.3L122 248.2L122.5 249.9L123.1 250.8L123.6 251.5L124.2 252.1L124.7 253.3L125.3 254.1L125.8 254.2L126.2 254.8L126.6 255.6L127 255.9L127.3 256.6L128 257.2L128.1 257.5L128.4 257.1L128.9 256.6L129.1 255.6L129.4 254.7L129.6 254.5L129.9 253.8L130.3 253.4L130.6 252.2L130.9 251.4L131.3 250.6L131.6 249.8L132 248.5L132.2 248.1L132.5 247.4L132.7 246.6L132.9 246.1L133.2 245.4L133.4 244.6L133.7 244.4L133.9 243.2L134.2 243L134.4 242.2L134.7 241.1L134.9 240.1L135.2 239.2L135.4 238.3L135.7 237.3L135.9 236L136 235.5L136.1 234.6L136.2 234.1L136.3 233.1L136.4 232.9L136.5 232L136.6 231.2L136.8 230.8L136.9 230L137 228.5L137.1 228.3L137.2 227.2L137.3 226.9L137.4 226.3L137.5 224.9L137.6 224.2L137.7 223.3L137.8 222.6L137.9 221.8L138 221L138.1 219.7L138.2 219.3L138.3 218L138.4 217.3L138.5 216.7L138.6 215.7L138.7 214.5L138.8 213.7L138.9 212.9L139 212.1L139.1 211.5L139.2 210.2L139.3 209.7L139.4 208.9L139.5 208.1L139.6 207.3L139.7 206.7L139.8 205.7L139.9 204.9L140 204L140.1 203.5L140.2 201.9L140.2 201.7L140.3 200.6L140.4 199.7L140.5 198.7L140.6 197.7L140.7 197.2L140.8 196.3L140.9 195.7L141 194.5L141.1 194.2L141.1 193.1L141.2 192.2L141.3 191.3L141.4 190.5L141.5 189.6L141.6 188.9L141.7 188.2L141.7 187.4L141.8 186.4L141.9 185.8L142 184.9L142.1 184.4L142.1 184L142.2 183L142.3 182.1L142.4 181.1L142.4 180.4L142.5 179.7L142.6 179.2L142.7 178L142.8 177.3L142.9 176.4L142.9 175.7L143 175.3L143.1 174.1L143.2 173.5L143.3 172.7L143.3 172.3L143.4 171.3L143.5 170.6L143.5 169.8L143.6 169.1L143.7 168.8L143.7 168.5L143.8 167L143.9 166.7L144 165.7L144.1 164.6L144.1 163.9L144.2 163L144.3 161.9L144.4 161.5L144.5 159.6L144.6 159.4L144.6 158.7L144.7 157.9L144.7 157.3L144.8 156.8L144.9 155.9L144.9 155.2L145 154.5L145.1 153.1L145.1 153.1L145.2 152.4L145.3 151.3L145.3 150.5L145.4 149.2L145.5 148.6L145.5 147.7L145.6 146.8L145.7 146.3L145.7 145.1L145.8 144.3L145.9 143.1L145.9 142.6L146 141.8L146.1 140.7L146.2 139.8L146.2 139.5L146.3 138L146.4 137.1L146.5 136.3L146.5 135.9L146.6 135.2L146.7 134L146.7 132.9L146.8 132.1L146.9 131.6L147 130.3L147 130L147.1 129.2L147.2 128.1L147.3 127.4L147.3 126.7L147.4 126.1L147.5 124.8L147.6 124.3L147.7 123.1L147.8 122.2L147.9 121.5L148 120.5L148 119.5L148.1 118.5L148.2 117.7L148.3 117.3L148.4 116.5L148.5 115.4L148.6 114.6L148.7 113.4L148.8 112.7L148.9 111.9L149 110.8L149.1 109.9L149.2 109.3L149.3 108.4L149.4 107.5L149.5 106.9L149.6 106L149.7 105.5L149.8 104.5L149.9 103.6L150 103L150.1 102.2L150.2 101.3L150.3 100.6L150.4 100.2L150.5 99.4L150.6 98.9L150.7 97.6L150.8 97.2L150.9 96.5L151 96L151.2 94.8L151.4 93.7L151.6 92.9L151.8 91.8L152 90.6L152.2 90.2L152.4 89.2L152.6 88L152.8 87.5L153 86.4L153.2 86L153.4 84.9L153.6 84.1L153.8 83.5L154 82.8L154.2 82.3L154.4 81.7L154.6 81.1L154.8 80.4L155 79.3L155.5 78.7L156 77.2L156.5 76.7L157 76.2L157.4 75.6L157.9 75.1L158.3 74.9L159 74.9L159.6 75.3L160.2 76.1L161 77L161.4 78L161.9 78.4L162.4 79.3L162.9 79.8L163.4 80.6L163.9 81.3L164.4 82.2L165 83L165.5 83.4L166 83.9L166.5 84.5L167 85.6L167.5 85.8L168.1 86.4L168.7 87.3L169.3 87.8L170 88.2L170.6 88.4L171.3 89.4L172 89.4L172.8 89.8L173.5 89.9L174.3 90L175.1 90.4L175.9 91.1L176.8 91.5L177.6 91.8L178.3 91.9L178.9 92.2L179.6 92.8L180.2 92.9L180.9 93.7L181.5 94.2L182.2 94.9L183 94.9L183.8 95L184.7 95.4L185.7 95.3L186.8 96.4L187.4 96.7L188 97.2L188.7 97.4L189.3 97.7L190 97.9L190.7 98.3L191.5 98.8L192.2 98.6L193 99L193.8 99.1L194.6 100.1L195.4 100.3L196.2 100.5L197 100.5L197.8 101.1L198.7 101.3L199.5 101.7L200.3 101.9L201.1 102.4L201.9 102.5L202.7 103L203.5 103.2L204.3 103.4L205.1 103.7L205.9 103.9L206.7 104.4L207.6 104.5L208.5 104.8L209.4 105L210.3 105L211.2 105.8L212.1 105.6L213 106.2L213.9 106.4L214.8 106.3L215.6 106.6L216.5 107L217.3 107.1L218.2 107.3L219 107.9L219.7 107.9L220.5 108.2L221.2 108.2L221.8 108.6L222.4 108.5L223 108.8L223.5 109.1L225.3 109.5L226.3 109.7L226.8 109.8L227.1 110.2L227.5 110.6L228.2 111.4L228.6 112.3L229 113.1L229.3 113L229.6 111.5L230.5 111.1L231.1 111.1L231.8 110.7L232.7 111.4L233.6 111.5L234.6 112.2L235.6 112.1L236.5 112.3L237.3 112.7L238 113L239 112.6L239.8 111.7L240.5 111.1L241 111.8L241.5 115L241.5 115.4L241.6 115.9L241.6 116.3L241.7 116.8L241.7 117.3L241.7 117.9L241.8 118.4L241.8 119L241.8 119.5L241.9 120.1L241.9 120.8L241.9 121.4L242 122L242 122.7L242 123.4L242 124.1L242.1 124.8L242.1 125.5L242.1 126.2L242.1 127L242.2 127.7L242.2 128.5L242.2 129.3L242.2 130.1L242.3 130.9L242.3 131.7L242.3 132.5L242.3 133.4L242.3 134.2L242.4 135.1L242.4 136L242.4 136.8L242.4 137.7L242.4 138.6L242.4 139.6L242.5 140.5L242.5 141.4L242.5 142.3L242.5 143.3L242.5 144.2L242.5 145.2L242.6 146.1L242.6 147.1L242.6 148.1L242.6 149L242.6 150L242.6 151L242.7 152L242.7 153L242.7 154L242.7 155L242.7 156L242.7 157L242.8 158L242.8 159L242.8 160L242.8 160.7L242.8 161.4L242.8 162.1L242.8 162.8L242.9 163.6L242.9 164.3L242.9 165.1L242.9 165.9L242.9 166.7L242.9 167.5L242.9 168.4L242.9 169.2L243 170.1L243 171L243 171.9L243 172.8L243 173.7L243 174.6L243 175.6L243 176.5L243 177.4L243 178.4L243.1 179.4L243.1 180.3L243.1 181.3L243.1 182.3L243.1 183.3L243.1 184.3L243.1 185.3L243.1 186.3L243.1 187.2L243.1 188.2L243.2 189.2L243.2 190.2L243.2 191.2L243.2 192.2L243.2 193.2L243.2 194.2L243.2 195.2L243.2 196.2L243.2 197.2L243.2 198.2L243.2 199.2L243.3 200.1L243.3 201.1L243.3 202.1L243.3 203L243.3 204L243.3 204.9L243.3 205.8L243.3 206.8L243.3 207.7L243.3 208.6L243.3 209.4L243.3 210.3L243.4 211.2L243.4 212L243.4 212.9L243.4 213.7L243.4 214.5L243.4 215.3L243.4 216L243.4 216.8L243.4 217.5L243.4 218.3L243.4 219L243.4 219.6L243.5 220.3L243.5 220.9L243.5 221.6L243.5 222.2L243.5 222.7L243.5 223.3L243.5 223.8L243.5 224.3L243.5 224.8L243.5 225.3L243.5 225.7L243.5 226.1L243.6 226.5L243.6 226.9L243.6 227.2L243.6 227.5L243.6 227.8L243.6 228L243.6 228.4L243.6 228.8L243.7 229L243.7 229.1L243.7 229L243.7 228.9L243.7 228.7L243.8 228.4L243.8 227.9L243.8 227.4L243.8 226.8L243.8 226.2L243.9 225.4L243.9 224.6L243.9 223.7L243.9 222.8L243.9 221.8L244 220.8L244 219.7L244 218.6L244 217.4L244 216.2L244 215L244.1 213.8L244.1 212.5L244.1 211.3L244.1 210L244.1 208.7L244.2 207.5L244.2 206.2L244.2 205L244.2 203.7L244.2 202.5L244.2 201.3L244.3 200.2L244.3 199.1L244.3 198L244.3 197.3L244.3 196.7L244.3 196L244.3 195.3L244.4 194.6L244.4 193.9L244.4 193.2L244.4 192.5L244.4 191.8L244.4 191.1L244.4 190.3L244.4 189.6L244.4 188.8L244.4 188.1L244.5 187.3L244.5 186.5L244.5 185.8L244.5 185L244.5 184.2L244.5 183.4L244.5 182.6L244.5 181.8L244.5 181L244.6 180.2L244.6 179.4L244.6 178.6L244.6 177.7L244.6 176.9L244.6 176.1L244.6 175.2L244.6 174.4L244.6 173.6L244.6 172.7L244.7 171.9L244.7 171.1L244.7 170.2L244.7 169.4L244.7 168.5L244.7 167.7L244.7 166.8L244.7 166L244.7 165.1L244.7 164.3L244.7 163.4L244.8 162.6L244.8 161.7L244.8 160.9L244.8 160L244.8 159.2L244.8 158.3L244.8 157.5L244.8 156.6L244.8 155.8L244.8 155L244.9 154.1L244.9 153.3L244.9 152.5L244.9 151.6L244.9 150.8L244.9 150L244.9 149.2L244.9 148.4L244.9 147.6L244.9 146.7L244.9 145.9L244.9 145L245 144.1L245 143.2L245 142.3L245 141.4L245 140.5L245 139.6L245 138.7L245 137.8L245 136.8L245 135.9L245 134.9L245 134L245 133L245 132.1L245 131.1L245 130.2L245 129.2L245.1 128.3L245.1 127.3L245.1 126.3L245.1 125.4L245.1 124.5L245.1 123.5L245.1 122.6L245.1 121.7L245.1 120.7L245.1 119.8L245.1 118.9L245.1 118L245.1 117.2L245.1 116.3L245.1 115.4L245.1 114.6L245.1 113.7L245.2 112.9L245.2 112.1L245.2 111.3L245.2 110.5L245.2 109.8L245.2 109L245.2 108.3L245.2 107.6L245.2 106.9L245.2 106.2L245.2 105.6L245.3 104.9L245.3 104.3L245.3 103.8L245.3 103.2L245.3 102.7L245.3 102.2L245.3 101.7L245.4 101.2L245.4 100.8L245.4 100.4L245.4 100L245.6 97.7L245.7 97.7L245.9 99.3L246.2 101.6L246.5 103.8L247 105.3L247.4 105.9L247.9 106.5L248.5 107.1L249.1 107.6L249.8 108.2L250.5 108.4L251.2 109.2L252 109.9L252.7 110.5L253.4 110.6L254.2 110.9L255 111.4L255.8 111.8L256.7 112.2L257.5 112.4L258.4 112.5L259.2 112.9L260 113.2L260.8 113.6L261.6 114L262.5 114.2L263.3 114.3L264.2 115L265 115.1L265.7 115.8L266.4 116L267 115.7L267.5 116.1L268.1 115.6L268.4 114.4L268.5 113.4L268.6 112.2L268.7 110.7L268.8 110.8L268.9 111L268.9 111.7L268.9 112.9L268.9 113.7L269 114.9L269.4 115.8L270 116.4L270.5 116.8L271.2 116.7L271.9 116.9L272.7 117.3L273.5 117.2L274.4 117.2L275.4 116.7L276.3 116.9L277.3 116.9L278.2 116.9L279.1 116.7L280 117L280.8 116.7L281.7 116.7L282.5 116.6L283.3 116.7L284.2 116.4L285 116.6L285.8 116.4L286.7 116.2L287.5 116.1L288.3 116L289.2 115.9L290 115.7L290.8 115.4L291.6 115.3L292.4 114.9L293.2 114.9L294.1 114.3L294.9 113.6L295.7 114L296.5 113.5L297.3 112.9L298 112.9L298.7 112.5L299.4 112.8L300 112.3L301.1 111.4L302 111.5L302.8 111L303.5 111.2L304.2 110.3L305 109.6L305.7 109.7L306.5 109.2L307.2 108.7L307.9 107.9L308.6 107.9L309.3 107.7L310 106.5L310.7 106.5L311.4 105.6L312.1 105.5L312.8 104.5L313.4 103.9L314 103.6L314.9 102.9L315.6 102.2L316.4 102.1L317.1 101.6L317.9 101.3L318.7 102.4L319.5 102.5L320 102.9L320.5 103.7L321 104.1L321.5 104.9L322 105.9L322.4 106.5L322.7 107.3L323.1 108.1L323.4 108.5L323.8 109.5L324.1 110.4L324.5 111.1L324.7 112L324.9 112.5L325.1 113.7L325.4 114.4L325.6 115.2L325.8 115.8L326 117L326.2 117.7L326.4 118.8L326.6 119.5L326.8 120L327 121L327.4 122.2L327.8 122.9L328.2 124.1L328.6 124.4L329 125L329.2 125.9L329.4 126.2L331 126.5L331.5 127.8L332.2 127.8L332.9 126.6L333.7 128L334.5 126.8L335.4 127.1L336.4 127.5L337.3 127.1L338.3 128.6L339.3 127L340.2 126L341.2 127.8L342.1 126.5L342.9 126.6L343.7 124.7L344.4 127.4L345 127.3L346.3 127.1L347.3 127.1L347.9 127.4L348.5 126L349.2 126.4L350 124.9L350.7 124.9L351.5 125.6L352.3 124.8L353.2 123.3L354.1 124.1L354.9 123.4L355.7 122.6L356.4 123.2L357 122.4L358.1 121.3L358.9 121.6L359.5 123.4L360 120.3L360.2 120.9L360.3 120.4L360.5 119.4L360.6 117L360.7 116.5L360.8 115.7L360.8 115.1L360.9 113.2L361 112.1L361.1 113.1L361.2 113L361.3 112.7L361.4 112.5L361.5 114.1L361.6 114.9L361.7 116.6L361.7 116.3L361.9 118.4L362 119.3L362.1 120.2L362.3 120.8L363.1 121.5L364.2 121.2L365 120.3L365.2 119.7L365.4 118.8L365.5 117.7L365.6 116.6L365.7 115.5L365.8 114.6L365.9 114L366 113.8L366.1 113.8L366.3 113.9L366.4 114.2L366.5 114.8L366.7 115.6L366.8 116.7L366.9 118.3L367 120.3L367 120.8L367 121.2L367.1 121.7L367.1 122.1L367.1 122.6L367.1 123L367.1 123.4L367.1 123.9L367.1 124.3L367.1 124.8L367.1 125.2L367.2 125.7L367.2 126.2L367.2 126.7L367.2 127.2L367.2 127.8L367.2 128.4L367.2 129L367.2 129.6L367.2 130.3L367.2 131L367.2 131.8L367.2 132.6L367.2 133.4L367.3 134.3L367.3 135.3L367.3 136.3L367.3 137.4L367.3 138.5L367.3 139.7L367.3 140.9L367.3 142.2L367.3 143.6L367.4 145.1L367.4 146.7L367.4 148.3L367.4 150L367.4 150.5L367.4 151.1L367.4 151.6L367.4 152.2L367.4 152.8L367.4 153.4L367.4 154L367.4 154.7L367.4 155.3L367.5 156L367.5 156.7L367.5 157.4L367.5 158.1L367.5 158.8L367.5 159.5L367.5 160.3L367.5 161L367.5 161.8L367.5 162.6L367.5 163.4L367.5 164.2L367.5 165L367.5 165.8L367.5 166.7L367.5 167.5L367.6 168.4L367.6 169.2L367.6 170.1L367.6 171L367.6 171.9L367.6 172.8L367.6 173.7L367.6 174.6L367.6 175.5L367.6 176.4L367.6 177.4L367.6 178.3L367.6 179.2L367.6 180.2L367.6 181.2L367.7 182.1L367.7 183.1L367.7 184L367.7 185L367.7 186L367.7 187L367.7 188L367.7 189L367.7 189.9L367.7 190.9L367.7 191.9L367.7 192.9L367.7 193.9L367.7 194.9L367.8 195.9L367.8 196.9L367.8 197.9L367.8 198.9L367.8 199.9L367.8 200.9L367.8 201.9L367.8 202.9L367.8 203.9L367.8 204.9L367.8 205.9L367.8 206.9L367.8 207.9L367.9 208.9L367.9 209.8L367.9 210.8L367.9 211.8L367.9 212.8L367.9 213.7L367.9 214.7L367.9 215.6L367.9 216.6L367.9 217.5L367.9 218.5L367.9 219.4L367.9 220.3L368 221.2L368 222.1L368 223L368 223.9L368 224.8L368 225.7L368 226.5L368 227.4L368 228.2L368 229.1L368 229.9L368 230.7L368.1 231.5L368.1 232.3L368.1 233.1L368.1 233.9L368.1 234.7L368.1 235.4L368.1 236.2L368.1 236.9L368.1 237.6L368.1 238.3L368.1 239L368.1 239.6L368.1 240.3L368.2 240.9L368.2 241.6L368.2 242.2L368.2 242.8L368.2 243.4L368.2 243.9L368.2 244.5L368.2 245L368.2 245.5L368.2 246L368.2 246.5L368.2 247L368.2 247.4L368.3 247.8L368.3 248.3L368.3 248.6L368.3 249L368.3 249.4L368.3 249.7L368.3 250L368.3 251.1L368.4 251.9L368.4 252.5L368.4 252.9L368.5 253.1L368.5 253L368.5 252.8L368.5 252.4L368.6 251.9L368.6 251.2L368.6 250.4L368.7 249.4L368.7 248.4L368.7 247.2L368.8 246L368.8 244.6L368.8 243.3L368.9 241.9L368.9 240.4L368.9 238.9L369 237.5L369 236L369 234.5L369.1 233.1L369.1 231.7L369.1 230.4L369.2 229.1L369.2 227.9L369.2 226.9L369.3 225.9L369.3 225L369.3 224.2L369.4 223.4L369.4 222.7L369.4 221.9L369.5 221.2L369.5 220.5L369.6 219.7L369.6 219L369.6 218.3L369.7 217.6L369.7 216.9L369.7 216.2L369.8 215.5L369.8 214.8L369.9 214.1L369.9 213.4L369.9 212.6L370 211.9L370 211.1L370.1 210.3L370.1 209.5L370.1 208.7L370.2 207.9L370.2 207L370.3 206.1L370.3 205.2L370.3 204.2L370.4 203.2L370.4 202.2L370.5 201.1L370.5 200L370.5 199.4L370.5 198.7L370.6 198L370.6 197.4L370.6 196.7L370.6 195.9L370.7 195.2L370.7 194.5L370.7 193.7L370.7 192.9L370.8 192.2L370.8 191.4L370.8 190.5L370.8 189.7L370.8 188.9L370.9 188.1L370.9 187.2L370.9 186.4L370.9 185.5L371 184.7L371 183.8L371 182.9L371 182L371.1 181.2L371.1 180.3L371.1 179.4L371.1 178.5L371.2 177.6L371.2 176.7L371.2 175.8L371.2 175L371.2 174.1L371.3 173.2L371.3 172.3L371.3 171.4L371.3 170.6L371.4 169.7L371.4 168.8L371.4 168L371.4 167.1L371.5 166.3L371.5 165.5L371.5 164.6L371.5 163.8L371.5 163L371.6 162.2L371.6 161.4L371.6 160.7L371.6 159.9L371.7 159.2L371.7 158.4L371.7 157.7L371.7 157L371.8 156.3L371.8 155.7L371.8 155L371.8 153.9L371.9 152.8L371.9 151.8L371.9 150.8L372 149.7L372 148.7L372.1 147.7L372.1 146.8L372.1 145.8L372.2 144.9L372.2 143.9L372.2 143L372.3 142.1L372.3 141.2L372.3 140.4L372.4 139.5L372.4 138.7L372.4 137.9L372.5 137.1L372.5 136.3L372.5 135.6L372.6 134.9L372.6 134.1L372.7 133.4L372.7 132.8L372.7 132.1L372.8 131.4L372.8 130.8L372.8 130.2L372.9 129.6L372.9 129.1L373 128.5L373 128L373.2 126.2L373.3 124.8L373.5 123.8L373.7 123.2L373.8 122.6L374 122.2L374.3 121.7L374.5 121L374.8 120.2L375.1 119.6L375.4 119L375.7 118.3L376.1 117.6L376.6 116.7L377.2 115.5L377.5 114.9L377.8 114.3L378.1 113.6L378.4 112.9L378.8 112.1L379.1 111.2L379.5 110.4L379.9 109.5L380.3 108.6L380.7 107.8L381.1 106.9L381.4 106.1L381.8 105.3L382.2 104.5L382.5 103.8L382.8 103.1L383.1 102.6L383.4 102L384.2 100.8L384.9 100.2L385.4 100L385.9 99.6L386.4 98.8L386.7 98.1L387 97.2L387.2 96.2L387.5 95.1L387.8 94.1L388 93L388.3 92.1L388.5 91.4L388.7 90.9L388.9 90.6L389.1 90.5L389.3 90.5L389.4 90.6L389.5 90.9L389.6 91.7L389.7 93L389.8 94.9L389.9 97.6L389.9 98.1L389.9 98.6L390 99.2L390 99.9L390 100.6L390 101.4L390 102.2L390 103L390 103.9L390.1 104.8L390.1 105.8L390.1 106.7L390.1 107.8L390.1 108.8L390.1 109.9L390.2 110.9L390.2 112L390.2 113.2L390.2 114.3L390.2 115.4L390.2 116.6L390.2 117.7L390.3 118.8L390.3 120L390.3 121.1L390.3 122.2L390.3 123.4L390.3 124.5L390.3 125.6L390.4 126.6L390.4 127.7L390.4 128.7L390.4 129.7L390.4 130.7L390.4 131.6L390.4 132.5L390.5 133.4L390.5 134.2L390.5 135L390.5 135.8L390.5 136.5L390.5 137.1L390.5 137.7L390.6 138.2L390.6 138.7L390.6 139.1L390.6 139.4L390.6 139.7L390.6 139.9L390.7 140.1L390.7 140.1L390.7 140.1L390.7 140L390.7 139.9L390.7 139.7L390.7 139.5L390.7 139.2L390.8 138.8L390.8 138.5L390.8 138.1L390.8 137.6L390.8 137.1L390.8 136.6L390.8 136L390.8 135.4L390.8 134.7L390.9 134.1L390.9 133.3L390.9 132.6L390.9 131.8L390.9 131L390.9 130.2L390.9 129.3L390.9 128.4L390.9 127.5L390.9 126.6L390.9 125.7L391 124.7L391 123.7L391 122.7L391 121.7L391 120.6L391 119.6L391 118.5L391 117.5L391 116.4L391 115.3L391.1 114.2L391.1 113.1L391.1 112L391.1 110.9L391.1 109.8L391.1 108.7L391.1 107.6L391.1 106.5L391.1 105.5L391.2 104.4L391.2 103.3L391.2 102.2L391.2 101.2L391.2 100.1L391.2 99.1L391.2 98.1L391.2 97.1L391.3 96.1L391.3 95.1L391.3 94.2L391.3 93.3L391.3 92.4L391.3 91.5L391.4 90.6L391.4 89.8L391.4 89L391.4 88.3L391.4 87.5L391.4 86.8L391.5 86.1L391.5 85.5L391.5 84.9L391.5 84.3L391.5 83.8L391.6 83.3L391.6 82.9L391.6 82.5L391.9 79.4L392.3 79.8L392.8 82.1L393.3 84.7L393.8 85.9L394.3 85.5L394.8 84.7L395.4 83.7L396 82.7L396.6 81.9L397.1 81.6L397.6 82L398 82.9L398.5 83.9L398.9 85L399.4 85.8L399.9 85.9L400.3 85.6L400.7 85L401.2 84.2L401.7 83.2L402.2 82.2L402.7 81.2L403.1 80.3L403.5 79.6L403.9 79.2L404.8 78.8L405.4 79.3L406 80.8L406.1 81.3L406.3 81.9L406.4 82.6L406.6 83.4L406.7 84.1L406.8 85L407 85.9L407.1 86.8L407.2 87.7L407.4 88.6L407.5 89.6L407.7 90.5L407.8 91.4L407.9 92.2L408 93L408.1 93.9L408.3 94.8L408.4 95.7L408.5 96.6L408.6 97.5L408.7 98.4L408.8 99.3L408.9 100.2L409.1 101.1L409.2 101.9L409.3 102.6L409.4 103.3L409.6 103.9L409.7 104.5L410.2 105.8L410.7 106.6L411.2 107L411.7 107.3L412.1 107.8L412.7 108.5L413.3 109.8L413.5 110.4L413.8 111.1L414.2 111.9L414.5 112.7L414.9 113.7L415.2 114.6L415.6 115.4L415.9 116.2L416.2 117L416.4 117.6L416.7 118.6L416.8 119L417.1 120L417.3 120.6L417.5 121.3L417.8 122L418 122.9L418.3 123.7L418.6 124.6L418.9 125.5L419.2 126.3L419.5 127.1L419.8 127.9L420 128.1L420.3 129.5L420.6 130.2L420.8 130.7L421.1 131.8L421.4 131.7L421.7 133.1L422 134.1L422.3 134.8L422.6 136L423 135.7L423.3 136.4L423.6 138.1L424 139L424.3 140.6L424.7 140.6L425 140.6L425.4 142.3L425.8 142.3L426.1 142.8L426.5 145.6L426.9 145.2L427.2 146.1L427.6 146.8L428 148.1L428.4 148.1L428.9 149.4L429.3 149L429.7 149.5L430.1 151.6L430.6 152.3L431 152.5L431.5 153.1L432 153.7L432.5 153.9L433 155.7L433.5 155.8L434 156.3L434.8 157L435.5 158L436.2 158.4L437 159L438 158.5L439 159.7L440 160.8L441 159.6L442 159.8L443 160.1L443.8 160L444.5 159.5L445.2 158L446 158.8L446.8 157.6L447.5 157.5L448.2 157.9L449 157.2" stroke="#3be8f2"/>
<path d="M449 157.2L450.5 160L451 168.2L451.5 159.9L452 159.7L452.5 154L453 154.9L453.5 153.4L454 155.3L454.5 153.3" stroke="#3be8f2"/>
<path d="M44 144.2L44.8 144.5L45.6 144.1L46.4 144L47.2 144.1L48 145.2L48.8 145.1L49.6 145.7L50.4 145.8L51.2 145L52 145.7L52.8 144.5L53.6 146.8L54.4 146.3L55.2 145.5L56 145L56.8 146L57.6 144.7L58.4 145.4L59.2 146.4L60 146.1L60.8 145.8L61.6 146.8L62.4 145.6L63.2 146.5L64 146.1L64.8 146L65.6 146.8L66.4 146L67.2 147.8L68 146.4L68.8 148L69.6 146.3L70.4 147.4L71.2 146.3L72 146.3L72.8 147.2L73.6 147.5L74.4 146.3L75.2 147.8L76 147L76.6 148L77.1 148.5L77.7 149.2L78.3 148.3L78.9 151.2L79.4 151.5L80 151.9L80.2 152.5L80.4 153.2L80.7 154.4L80.9 154.9L81.1 155.4L81.4 156.4L81.6 157.7L81.8 158.1L82.1 158.9L82.3 160.2L82.5 160.9L82.7 161.6L83 162.3L83.2 162.9L83.4 163.8L83.6 164.8L83.8 165.6L84 166.4L84.3 167.4L84.5 168.3L84.8 169.2L85 169.8L85.3 170.4L85.5 171.7L85.7 172.4L86 173.3L86.2 174.1L86.4 174.6L86.6 175.3L86.8 176.2L87 176.8L87.6 178.2L88.1 179.6L88.5 180.1L89 179.7L89.2 179.7L89.4 179.6L89.6 178.3L89.8 178L90 177.2L90.3 176.2L90.5 174.5L90.7 174L91 172.3L91.1 171.6L91.3 170.9L91.4 170.4L91.6 169.5L91.7 168.6L91.9 168.2L92.1 166.8L92.2 165.9L92.4 165.5L92.6 164.6L92.7 163.8L92.9 162.4L93.1 162.1L93.2 161.1L93.4 160.6L93.5 159L93.7 158.6L93.9 157.8L94 156.8L94.2 156L94.5 155.5L94.7 154.1L94.9 153.2L95.1 152.7L95.3 151.9L95.5 151.1L95.7 150L95.9 149.5L96.1 149.1L96.3 148.1L96.5 147.5L97 146.5L97.5 145.5L98 144.3L98.6 144.3L98.8 144.9L99.1 145.5L99.3 146.3L99.6 147.2L99.9 147.8L100.1 148.6L100.4 149.7L100.7 150.5L101 151.8L101.2 152.7L101.5 154.5L101.6 154.8L101.8 155.1L101.9 155.7L102.1 156.4L102.2 156.9L102.4 157.7L102.5 158.4L102.6 159.4L102.8 159.9L102.9 160.5L103.1 161.2L103.2 162L103.4 163.1L103.5 163.9L103.7 165.1L103.8 165.7L104 167L104.2 167.9L104.3 168.9L104.5 169.6L104.6 170.4L104.7 171.4L104.8 172.2L104.9 172.7L105 173.5L105.1 173.9L105.1 174.6L105.2 175.3L105.3 176.4L105.4 177L105.5 177.7L105.6 178.4L105.7 179.4L105.8 180.1L105.9 180.7L106 182L106.1 182.6L106.2 183.3L106.3 184.5L106.4 185.2L106.5 185.8L106.6 186.8L106.7 187.4L106.8 188.3L106.9 188.9L107 190.4L107.1 190.7L107.2 192.1L107.4 192.7L107.5 193.6L107.6 194.6L107.7 195.6L107.9 196.5L108 197.7L108.1 198.3L108.3 199.3L108.4 199.9L108.5 200.9L108.6 201.5L108.8 202.2L108.9 203L109 203.8L109.1 204.6L109.3 205.5L109.4 206.1L109.5 206.9L109.7 208L109.8 208.3L110 209.4L110.1 210.7L110.2 210.7L110.4 211.9L110.5 213L110.7 213.4L110.8 215.1L111 215L111.1 216.6L111.3 217.5L111.4 218.2L111.6 218.9L111.7 219.8L111.9 220.4L112 221.6L112.2 222.1L112.4 223.1L112.5 224.2L112.7 224.6L112.8 225.5L113 226.4L113.1 226.9L113.3 228.2L113.5 228.9L113.6 229.3L113.8 230.3L113.9 230.9L114.1 231.7L114.2 232.6L114.4 233.1L114.5 234.2L114.7 234.5L114.8 235.5L115 236L115.2 237.2L115.5 237.9L115.7 238.8L116 239.7L116.2 240.9L116.5 241.9L116.7 243L116.9 243.8L117.2 244.4L117.5 245.2L117.7 246.1L118 246.8L118.2 247.9L118.5 248.6L118.7 249L119 249.8L119.2 251L119.5 251.5L119.7 252.1L119.9 253.1L120.2 253.4L120.4 254.1L120.7 254.7L120.9 255.1L121.1 256.3L121.3 256.5L121.6 257.2L121.8 257.8L122 258.6L122.4 259.6L122.8 260.6L123.2 261.2L123.7 262.5L124.1 263.1L124.5 264.2L124.8 265L125.2 265.6L125.6 266.7L125.9 267L126.3 267.6L126.6 268.1L126.8 268.5L127.1 269.2L127.3 269.6L128 270.5L128.1 270.8L128.4 270.7L128.9 269.6L129.1 269L129.4 268L129.7 267.2L130 267L130.3 265.8L130.7 264.6L131 264L131.4 263L131.7 261.9L132 261L132.4 260.4L132.7 260.2L133 259.6L133.3 259L133.7 258.5L134 257.7L134.3 256.1L134.7 254.9L134.8 254.3L134.9 253.6L135.1 253.2L135.2 252.6L135.3 251.9L135.4 251L135.5 250.5L135.7 250.3L135.8 248.9L135.9 248L136 247.6L136.2 246.9L136.3 246L136.4 244.8L136.6 244.4L136.7 243.2L136.8 242.2L136.9 241.4L137.1 240.6L137.2 239.8L137.3 238.9L137.5 237.8L137.6 237.1L137.7 235.9L137.9 235.1L138 233.7L138.1 233L138.2 232.8L138.3 231.6L138.4 231.1L138.5 230.4L138.6 229.6L138.7 228.9L138.8 228.5L138.9 226.9L139 226.9L139.1 226.4L139.2 225.2L139.3 224.4L139.4 223.7L139.5 223.2L139.6 221.8L139.7 221.2L139.8 220.3L139.9 219.7L140 218.8L140.1 218L140.2 217L140.3 216.3L140.4 215.3L140.5 214.4L140.6 213.7L140.7 212.8L140.8 211.8L140.9 211.5L141 210.2L141.1 209.1L141.2 208.7L141.3 207.5L141.4 206.9L141.5 205.9L141.6 205.1L141.7 204.3L141.8 203.4L141.8 202.8L141.9 202.4L142 200.8L142.1 200.5L142.2 199.8L142.3 198.7L142.3 197.8L142.4 197.8L142.5 196.5L142.6 196.2L142.7 195.1L142.7 194.2L142.8 193.4L142.9 192.7L143 192L143.1 191L143.1 190.1L143.2 189.3L143.3 188.7L143.4 187.8L143.5 186.6L143.5 185.9L143.6 185.2L143.7 184.2L143.8 183.4L143.9 182.5L143.9 181.8L144 181.1L144.1 180.4L144.2 179.3L144.2 178.9L144.3 177.6L144.4 177.4L144.5 176.1L144.5 175.2L144.6 174.1L144.7 172.8L144.8 172.5L144.9 171.7L144.9 171.2L145 169.7L145.1 169.6L145.1 168.4L145.2 167.8L145.3 166.4L145.3 166.1L145.4 165.2L145.5 164.6L145.5 163.7L145.6 162.7L145.7 162.3L145.7 161.4L145.8 160.6L145.8 159.9L145.9 159.1L146 158L146 156.9L146.1 156.1L146.2 155.8L146.2 154.9L146.3 154L146.3 153L146.4 152.3L146.5 151.5L146.5 150.6L146.6 149.7L146.6 149.4L146.7 148.2L146.8 147.2L146.8 146.3L146.9 145.6L147 145L147 144.2L147.1 143.2L147.1 142.5L147.2 141.6L147.3 140.6L147.3 140.3L147.4 139.3L147.5 138.9L147.5 137.4L147.6 136.7L147.7 136.1L147.7 135.1L147.8 134.1L147.9 133.4L147.9 132.8L148 132.1L148.1 131.2L148.1 130.5L148.2 129.7L148.3 128.7L148.4 127.8L148.4 126.9L148.5 126.2L148.6 125.4L148.7 124.4L148.7 123.6L148.8 122.6L148.9 121.5L149 120.7L149.1 120.2L149.1 119.2L149.2 118.6L149.3 117.4L149.4 116.7L149.4 115.9L149.5 115L149.6 113.8L149.7 113.1L149.8 112.3L149.8 111.2L149.9 110.7L150 110L150.1 108.8L150.2 108.5L150.2 107.3L150.3 106.5L150.4 105.7L150.5 104.8L150.6 104.3L150.6 103.4L150.7 103L150.8 102.1L150.9 101.3L151 100.5L151 99.6L151.1 99.1L151.2 98.3L151.3 98L151.3 97.2L151.4 96.9L151.5 96.1L151.7 94.9L151.8 93.6L152 92.5L152.2 91.5L152.3 90.6L152.5 89.3L152.7 88.6L152.8 88.1L153 86.8L153.2 85.9L153.3 85.1L153.5 84.2L153.7 84L153.8 83.1L154 82.5L154.2 82.2L154.3 81.7L154.5 80.5L154.7 80.3L154.8 79.7L155 79.1L155.4 77.8L155.9 76.6L156.3 76L156.7 75.1L157.1 74.5L157.5 74.2L157.9 73.8L158.3 73.5L159 73.4L159.6 74.2L160.2 74.8L161 75.7L161.4 76.1L161.9 76.8L162.4 77.4L162.9 78.3L163.4 79.1L163.9 79.4L164.4 80.6L165 81.4L165.5 81.9L166 82.3L166.5 83.4L167 83.6L167.5 84.1L168.1 84.7L168.7 85.4L169.3 86.2L170 86.7L170.6 86.9L171.3 87L172 87.4L172.8 87.7L173.5 88.2L174.3 88.1L175.1 88.8L175.9 89.3L176.8 89.5L177.6 90L178.2 90L178.8 90.3L179.4 90.8L180 91.5L180.6 91.8L181.2 91.9L181.9 92.6L182.5 92.7L183.2 93.5L184 93.7L184.9 94L185.8 94.7L186.8 94.8L187.4 95.1L188 95.3L188.7 95.9L189.3 96.2L190 96.5L190.7 96.7L191.5 97.4L192.2 97.4L193 97.7L193.8 98.4L194.6 98.8L195.4 98.9L196.2 98.9L197 99.4L197.8 100L198.7 100.3L199.5 100.9L200.3 100.7L201.1 101.4L201.9 101.5L202.7 102.2L203.5 102.2L204.3 102.7L205.1 102.7L205.9 102.8L206.7 103.1L207.5 103.5L208.3 103.7L209.2 104.4L210 104.7L210.9 104.8L211.8 104.8L212.6 105.3L213.5 105.4L214.3 106.1L215.2 106.1L216 106.4L216.8 106.4L217.7 106.4L218.4 106.8L219.2 107L219.9 107.5L220.6 107.6L221.3 107.7L221.9 107.9L222.5 108.5L223 108.2L223.5 108.3L225.3 109L226.3 109.2L226.8 109.4L227.1 109.8L227.5 110.3L228.2 110.6L228.6 112L229 112.5L229.3 112L229.6 111L230.5 110.4L231.1 110.8L231.8 110.7L232.7 111L233.6 111.3L234.6 111.7L235.6 112L236.5 112.6L237.3 112.7L238 113L239 112.7L239.8 111.6L240.5 111.1L241 111.9L241.5 115L241.5 115.4L241.6 115.9L241.6 116.3L241.7 116.8L241.7 117.3L241.7 117.9L241.8 118.4L241.8 119L241.8 119.5L241.9 120.1L241.9 120.8L241.9 121.4L242 122L242 122.7L242 123.4L242 124.1L242.1 124.8L242.1 125.5L242.1 126.2L242.1 127L242.2 127.7L242.2 128.5L242.2 129.3L242.2 130.1L242.3 130.9L242.3 131.7L242.3 132.5L242.3 133.4L242.3 134.2L242.4 135.1L242.4 136L242.4 136.8L242.4 137.7L242.4 138.6L242.4 139.6L242.5 140.5L242.5 141.4L242.5 142.3L242.5 143.3L242.5 144.2L242.5 145.2L242.6 146.1L242.6 147.1L242.6 148.1L242.6 149L242.6 150L242.6 151L242.7 152L242.7 153L242.7 154L242.7 155L242.7 156L242.7 157L242.8 158L242.8 159L242.8 160L242.8 160.7L242.8 161.4L242.8 162.1L242.8 162.8L242.9 163.6L242.9 164.3L242.9 165.1L242.9 165.9L242.9 166.7L242.9 167.5L242.9 168.4L242.9 169.2L243 170.1L243 171L243 171.9L243 172.8L243 173.7L243 174.6L243 175.6L243 176.5L243 177.4L243 178.4L243.1 179.4L243.1 180.3L243.1 181.3L243.1 182.3L243.1 183.3L243.1 184.3L243.1 185.3L243.1 186.3L243.1 187.2L243.1 188.2L243.2 189.2L243.2 190.2L243.2 191.2L243.2 192.2L243.2 193.2L243.2 194.2L243.2 195.2L243.2 196.2L243.2 197.2L243.2 198.2L243.2 199.2L243.3 200.1L243.3 201.1L243.3 202.1L243.3 203L243.3 204L243.3 204.9L243.3 205.8L243.3 206.8L243.3 207.7L243.3 208.6L243.3 209.4L243.3 210.3L243.4 211.2L243.4 212L243.4 212.9L243.4 213.7L243.4 214.5L243.4 215.3L243.4 216L243.4 216.8L243.4 217.5L243.4 218.3L243.4 219L243.4 219.6L243.5 220.3L243.5 220.9L243.5 221.6L243.5 222.2L243.5 222.7L243.5 223.3L243.5 223.8L243.5 224.3L243.5 224.8L243.5 225.3L243.5 225.7L243.5 226.1L243.6 226.5L243.6 226.9L243.6 227.2L243.6 227.5L243.6 227.8L243.6 228L243.6 228.4L243.6 228.8L243.7 229L243.7 229.1L243.7 229L243.7 228.9L243.7 228.7L243.8 228.4L243.8 227.9L243.8 227.4L243.8 226.8L243.8 226.2L243.9 225.4L243.9 224.6L243.9 223.7L243.9 222.8L243.9 221.8L244 220.8L244 219.7L244 218.6L244 217.4L244 216.2L244 215L244.1 213.8L244.1 212.5L244.1 211.3L244.1 210L244.1 208.7L244.2 207.5L244.2 206.2L244.2 205L244.2 203.7L244.2 202.5L244.2 201.3L244.3 200.2L244.3 199.1L244.3 198L244.3 197.3L244.3 196.7L244.3 196L244.3 195.3L244.4 194.6L244.4 193.9L244.4 193.2L244.4 192.5L244.4 191.8L244.4 191.1L244.4 190.3L244.4 189.6L244.4 188.8L244.4 188.1L244.5 187.3L244.5 186.5L244.5 185.8L244.5 185L244.5 184.2L244.5 183.4L244.5 182.6L244.5 181.8L244.5 181L244.6 180.2L244.6 179.4L244.6 178.6L244.6 177.7L244.6 176.9L244.6 176.1L244.6 175.2L244.6 174.4L244.6 173.6L244.6 172.7L244.7 171.9L244.7 171.1L244.7 170.2L244.7 169.4L244.7 168.5L244.7 167.7L244.7 166.8L244.7 166L244.7 165.1L244.7 164.3L244.7 163.4L244.8 162.6L244.8 161.7L244.8 160.9L244.8 160L244.8 159.2L244.8 158.3L244.8 157.5L244.8 156.6L244.8 155.8L244.8 155L244.9 154.1L244.9 153.3L244.9 152.5L244.9 151.6L244.9 150.8L244.9 150L244.9 149.2L244.9 148.4L244.9 147.6L244.9 146.7L244.9 145.9L244.9 145L245 144.1L245 143.2L245 142.4L245 141.4L245 140.5L245 139.6L245 138.7L245 137.8L245 136.8L245 135.9L245 134.9L245 134L245 133L245 132.1L245 131.1L245 130.2L245 129.2L245.1 128.3L245.1 127.3L245.1 126.4L245.1 125.4L245.1 124.5L245.1 123.5L245.1 122.6L245.1 121.7L245.1 120.8L245.1 119.9L245.1 119L245.1 118.1L245.1 117.2L245.1 116.3L245.1 115.5L245.1 114.6L245.1 113.8L245.2 112.9L245.2 112.1L245.2 111.3L245.2 110.6L245.2 109.8L245.2 109L245.2 108.3L245.2 107.6L245.2 106.9L245.2 106.2L245.2 105.6L245.3 105L245.3 104.4L245.3 103.8L245.3 103.2L245.3 102.7L245.3 102.2L245.3 101.7L245.4 101.2L245.4 100.8L245.4 100.4L245.4 100L245.6 97.7L245.7 97.6L245.9 99.1L246.2 101.3L246.5 103.5L247 105L247.4 105.5L247.9 106.1L248.5 106.6L249.1 107.1L249.8 107.6L250.5 108L251.2 108.4L252 109.1L252.7 109.3L253.4 109.6L254.2 110.3L255 110.7L255.8 110.6L256.7 111.6L257.5 111.6L258.4 111.9L259.2 112.5L260 112.6L260.8 112.8L261.6 113.8L262.5 113.5L263.3 114.1L264.2 114.7L265 114.7L265.7 115.1L266.4 115.4L267 115.9L267.5 115.2L268.1 114.9L268.4 114L268.5 112.7L268.6 111.3L268.7 110.7L268.8 110.3L268.9 110.7L268.9 111.5L268.9 112.5L268.9 113.5L269 114.5L269.4 115.2L270 116L270.5 116.3L271.2 116.3L271.9 116.5L272.7 116.4L273.5 116.8L274.4 117L275.4 116.4L276.3 116.5L277.3 116.3L278.2 116.6L279.1 116.3L280 116.2L280.8 116.1L281.7 116.1L282.5 115.9L283.3 116.1L284.2 115.8L285 116L285.8 115.8L286.7 115.9L287.5 115.5L288.3 115.6L289.2 115.1L290 115.2L290.8 114.9L291.6 114.7L292.4 114.5L293.2 114.4L294.1 113.6L294.9 113.8L295.7 113.2L296.5 113.4L297.3 112.5L298 112.5L298.7 112.1L299.4 112.5L300 111.7L301.1 111.6L302 111.1L302.8 110.5L303.5 110.4L304.2 110.3L305 109.6L305.7 109.4L306.5 108.7L307.2 108.3L307.9 107.7L308.6 107.3L309.3 107.1L310 106.2L310.7 105.6L311.4 104.7L312.1 104L312.8 103.8L313.4 102.7L314 102.2L314.9 101.7L315.6 101.1L316.4 101.1L317.1 100L317.9 100.6L318.7 101L319.5 101.2L320 101.9L320.5 102.7L321 103.8L321.5 104.1L322 104.9L322.4 106.1L322.7 106.9L323.1 107.3L323.4 107.7L323.8 109.3L324.1 109.9L324.5 111.3L324.7 111.7L324.9 112.4L325.1 113.2L325.3 114.4L325.5 115.3L325.7 115.5L325.9 116.6L326.1 118.1L326.3 118.5L326.5 119.2L326.6 120.2L326.8 120.9L327 121.6L327.4 122.7L327.7 123.7L328 124.5L328.4 125.4L328.7 125.8L329 126.5L329.2 127.4L329.4 128.3L331 128.4L331.5 128.8L332.2 128.8L332.9 129.3L333.7 128.9L334.5 129.8L335.4 129.5L336.4 128.6L337.3 128.3L338.3 129.2L339.3 129L340.2 128.5L341.2 127.5L342.1 127.3L342.9 128.8L343.7 129L344.4 129L345 127.5L346.3 129L347.3 127.7L347.9 128.1L348.5 127.9L349.2 126.7L350 126.5L350.7 125.2L351.5 125.6L352.3 124.6L353.2 125.8L354.1 125.1L354.9 125.3L355.7 124.6L356.4 123.5L357 123.9L358.1 123.1L358.9 123.8L359.5 123.4L360 121.5L360.2 121.6L360.3 120.9L360.4 119.7L360.5 119.6L360.6 119.1L360.7 116.5L360.8 115.4L360.8 113L360.9 113.6L361 112.5L361 110.7L361.1 112L361.2 112L361.3 111.2L361.4 111.9L361.4 112.2L361.5 114.3L361.6 113.8L361.7 115.8L361.7 118.5L361.8 118.3L361.9 119.7L362 120.3L362.2 121.1L362.3 121.6L363.1 122.4L364.2 122.1L365 121L365.2 120.3L365.3 119.5L365.5 118.4L365.6 117.2L365.6 116.1L365.7 115.1L365.8 114.2L365.9 113.6L366 113.4L366.1 113.5L366.2 113.7L366.4 114L366.5 114.5L366.6 115.3L366.7 116.3L366.8 117.5L366.9 119.1L367 121L367 121.5L367 121.9L367.1 122.4L367.1 122.9L367.1 123.3L367.1 123.7L367.1 124.2L367.1 124.6L367.1 125L367.1 125.5L367.2 126L367.2 126.4L367.2 126.9L367.2 127.4L367.2 127.9L367.2 128.5L367.2 129.1L367.2 129.7L367.2 130.4L367.2 131L367.2 131.8L367.2 132.6L367.2 133.4L367.3 134.3L367.3 135.2L367.3 136.2L367.3 137.2L367.3 138.4L367.3 139.5L367.3 140.8L367.3 142.1L367.3 143.5L367.4 145L367.4 146.6L367.4 148.3L367.4 150L367.4 150.5L367.4 151.1L367.4 151.6L367.4 152.2L367.4 152.8L367.4 153.4L367.4 154L367.4 154.7L367.4 155.3L367.5 156L367.5 156.6L367.5 157.3L367.5 158L367.5 158.8L367.5 159.5L367.5 160.2L367.5 161L367.5 161.8L367.5 162.5L367.5 163.3L367.5 164.1L367.5 165L367.5 165.8L367.5 166.6L367.5 167.5L367.6 168.3L367.6 169.2L367.6 170L367.6 170.9L367.6 171.8L367.6 172.7L367.6 173.6L367.6 174.5L367.6 175.5L367.6 176.4L367.6 177.3L367.6 178.3L367.6 179.2L367.6 180.1L367.6 181.1L367.7 182.1L367.7 183L367.7 184L367.7 185L367.7 186L367.7 186.9L367.7 187.9L367.7 188.9L367.7 189.9L367.7 190.9L367.7 191.9L367.7 192.9L367.7 193.9L367.7 194.9L367.8 195.9L367.8 196.9L367.8 197.9L367.8 198.9L367.8 199.9L367.8 200.9L367.8 201.9L367.8 202.9L367.8 203.9L367.8 204.9L367.8 205.9L367.8 206.9L367.8 207.8L367.9 208.8L367.9 209.8L367.9 210.8L367.9 211.7L367.9 212.7L367.9 213.7L367.9 214.6L367.9 215.6L367.9 216.5L367.9 217.5L367.9 218.4L367.9 219.4L367.9 220.3L368 221.2L368 222.1L368 223L368 223.9L368 224.8L368 225.7L368 226.5L368 227.4L368 228.2L368 229.1L368 229.9L368 230.7L368.1 231.5L368.1 232.3L368.1 233.1L368.1 233.9L368.1 234.6L368.1 235.4L368.1 236.1L368.1 236.9L368.1 237.6L368.1 238.3L368.1 239L368.1 239.6L368.1 240.3L368.2 240.9L368.2 241.6L368.2 242.2L368.2 242.8L368.2 243.4L368.2 243.9L368.2 244.5L368.2 245L368.2 245.5L368.2 246L368.2 246.5L368.2 247L368.2 247.4L368.3 247.8L368.3 248.2L368.3 248.6L368.3 249L368.3 249.4L368.3 249.7L368.3 250L368.3 251.1L368.4 251.9L368.4 252.5L368.4 252.9L368.5 253.1L368.5 253L368.5 252.8L368.5 252.4L368.6 251.9L368.6 251.2L368.6 250.4L368.7 249.4L368.7 248.4L368.7 247.2L368.8 246L368.8 244.6L368.8 243.3L368.9 241.9L368.9 240.4L368.9 238.9L369 237.5L369 236L369 234.5L369.1 233.1L369.1 231.7L369.1 230.4L369.2 229.1L369.2 227.9L369.2 226.9L369.3 225.9L369.3 225L369.3 224.2L369.4 223.4L369.4 222.7L369.4 221.9L369.5 221.2L369.5 220.5L369.6 219.7L369.6 219L369.6 218.3L369.7 217.6L369.7 216.9L369.7 216.2L369.8 215.5L369.8 214.8L369.9 214.1L369.9 213.4L369.9 212.6L370 211.9L370 211.1L370.1 210.3L370.1 209.5L370.1 208.7L370.2 207.9L370.2 207L370.3 206.1L370.3 205.2L370.3 204.2L370.4 203.2L370.4 202.2L370.5 201.1L370.5 200L370.5 199.4L370.5 198.7L370.6 198L370.6 197.4L370.6 196.7L370.6 195.9L370.7 195.2L370.7 194.5L370.7 193.7L370.7 192.9L370.8 192.2L370.8 191.4L370.8 190.5L370.8 189.7L370.8 188.9L370.9 188.1L370.9 187.2L370.9 186.4L370.9 185.5L371 184.7L371 183.8L371 182.9L371 182L371.1 181.2L371.1 180.3L371.1 179.4L371.1 178.5L371.2 177.6L371.2 176.7L371.2 175.8L371.2 175L371.2 174.1L371.3 173.2L371.3 172.3L371.3 171.4L371.3 170.6L371.4 169.7L371.4 168.8L371.4 168L371.4 167.1L371.5 166.3L371.5 165.5L371.5 164.6L371.5 163.8L371.5 163L371.6 162.2L371.6 161.4L371.6 160.7L371.6 159.9L371.7 159.2L371.7 158.4L371.7 157.7L371.7 157L371.8 156.3L371.8 155.7L371.8 155L371.8 153.9L371.9 152.8L371.9 151.8L371.9 150.8L372 149.7L372 148.7L372.1 147.7L372.1 146.8L372.1 145.8L372.2 144.9L372.2 143.9L372.2 143L372.3 142.1L372.3 141.2L372.3 140.4L372.4 139.5L372.4 138.7L372.4 137.9L372.5 137.1L372.5 136.3L372.5 135.6L372.6 134.9L372.6 134.1L372.7 133.4L372.7 132.8L372.7 132.1L372.8 131.4L372.8 130.8L372.8 130.2L372.9 129.6L372.9 129.1L373 128.5L373 128L373.2 126.2L373.3 124.8L373.5 123.9L373.7 123.2L373.8 122.7L374 122.2L374.3 121.7L374.5 121L374.8 120.2L375 119.6L375.3 119L375.6 118.4L375.9 117.7L376.3 116.9L376.7 115.8L377.2 114.6L377.4 114L377.7 113.3L377.9 112.6L378.2 111.9L378.5 111.1L378.8 110.3L379.1 109.4L379.5 108.5L379.8 107.6L380.1 106.7L380.4 105.8L380.8 104.9L381.1 104L381.4 103.1L381.8 102.3L382.1 101.5L382.4 100.7L382.7 100L382.9 99.4L383.2 98.8L383.4 98.3L384.1 97L384.7 96.3L385.1 95.9L385.6 95.6L386 95.2L386.4 94.3L386.6 93.6L386.9 92.8L387.1 91.8L387.3 90.8L387.6 89.7L387.8 88.6L388 87.6L388.2 86.6L388.4 85.8L388.6 85.1L388.7 84.6L388.9 84.4L389.1 84.4L389.2 84.3L389.3 84.4L389.4 84.6L389.5 85.1L389.6 85.8L389.7 86.9L389.7 88.4L389.8 90.3L389.9 92.8L389.9 93.3L389.9 93.9L389.9 94.5L390 95.2L390 95.9L390 96.6L390 97.4L390 98.3L390 99.1L390 100.1L390.1 101L390.1 102L390.1 103L390.1 104L390.1 105.1L390.1 106.1L390.1 107.2L390.2 108.3L390.2 109.5L390.2 110.6L390.2 111.8L390.2 112.9L390.2 114.1L390.2 115.2L390.3 116.4L390.3 117.6L390.3 118.7L390.3 119.9L390.3 121L390.3 122.2L390.3 123.3L390.3 124.4L390.4 125.5L390.4 126.5L390.4 127.6L390.4 128.6L390.4 129.6L390.4 130.6L390.4 131.5L390.5 132.4L390.5 133.2L390.5 134.1L390.5 134.8L390.5 135.6L390.5 136.3L390.5 136.9L390.5 137.5L390.6 138L390.6 138.5L390.6 138.9L390.6 139.3L390.6 139.6L390.6 139.9L390.6 140L390.7 140.1L390.7 140.2L390.7 140.1L390.7 140L390.7 139.9L390.7 139.7L390.7 139.5L390.7 139.2L390.8 138.9L390.8 138.6L390.8 138.2L390.8 137.8L390.8 137.3L390.8 136.8L390.8 136.3L390.8 135.7L390.8 135.1L390.8 134.5L390.8 133.8L390.9 133.2L390.9 132.4L390.9 131.7L390.9 130.9L390.9 130.1L390.9 129.3L390.9 128.5L390.9 127.6L390.9 126.7L390.9 125.8L390.9 124.9L390.9 124L391 123L391 122.1L391 121.1L391 120.1L391 119L391 118L391 117L391 115.9L391 114.9L391 113.8L391 112.7L391 111.6L391.1 110.6L391.1 109.5L391.1 108.4L391.1 107.3L391.1 106.2L391.1 105.1L391.1 104L391.1 102.9L391.1 101.8L391.1 100.8L391.2 99.7L391.2 98.6L391.2 97.6L391.2 96.5L391.2 95.5L391.2 94.4L391.2 93.4L391.2 92.4L391.2 91.4L391.3 90.4L391.3 89.4L391.3 88.5L391.3 87.6L391.3 86.6L391.3 85.7L391.3 84.9L391.4 84L391.4 83.2L391.4 82.4L391.4 81.6L391.4 80.9L391.4 80.1L391.4 79.4L391.5 78.8L391.5 78.1L391.5 77.5L391.5 76.9L391.5 76.4L391.5 75.9L391.6 75.4L391.6 75L391.6 74.6L392 70.7L392.6 72.3L393.1 75.9L393.8 77.8L394.3 77.4L394.8 76.6L395.4 75.6L396 74.6L396.6 73.9L397.1 73.6L397.6 73.9L398 74.8L398.5 76L398.9 77.1L399.4 77.8L399.9 78L400.3 77.7L400.7 77.1L401.1 76.3L401.5 75.4L401.9 74.4L402.4 73.4L402.8 72.5L403.2 71.7L403.6 71L403.9 70.6L404.8 70.2L405.4 70.8L406 72.6L406.1 73.1L406.2 73.6L406.4 74.3L406.5 75L406.6 75.7L406.7 76.5L406.8 77.3L406.9 78.1L407 79L407.1 79.9L407.2 80.8L407.4 81.7L407.5 82.7L407.6 83.6L407.7 84.5L407.8 85.4L407.9 86.2L408 87L408.1 87.9L408.2 88.8L408.3 89.7L408.4 90.6L408.5 91.5L408.6 92.5L408.7 93.4L408.8 94.3L408.9 95.3L409 96.1L409.1 97L409.2 97.8L409.3 98.6L409.4 99.4L409.5 100L409.6 100.7L409.7 101.2L410.2 102.8L410.7 103.7L411.2 104.3L411.7 104.7L412.1 105.2L412.5 105.9L412.8 106.4L413.3 107.7L413.5 108.2L413.7 108.9L414 109.7L414.3 110.5L414.6 111.4L414.9 112.3L415.2 113.2L415.5 114.1L415.7 115L416 115.8L416.2 116.5L416.4 117L416.7 118.3L416.8 118.9L417.1 120L417.3 120.6L417.5 121.2L417.7 122L417.9 122.8L418.2 123.6L418.5 124.4L418.7 125.3L419 126.1L419.2 127L419.5 127.7L419.8 128.6L420 129.3L420.3 129.6L420.6 131L420.8 132L421.1 132.1L421.4 133.6L421.7 134.9L422 135.6L422.3 135L422.6 136.1L422.9 136.6L423.2 138.7L423.5 139.3L423.8 140.1L424.1 140.1L424.4 140.8L424.7 142.1L425 142.9L425.3 143.2L425.7 144.5L426 145.5L426.3 146L426.7 146.1L427 146.3L427.3 148L427.7 148.9L428 149.3L428.4 150.1L428.9 150.8L429.3 152.3L429.7 152.7L430.1 153.5L430.6 153.7L431 154.6L431.5 155.8L432 155.9L432.5 156.5L433 157.7L433.5 159.1L434 159.2L434.6 160.5L435.2 160.3L435.8 160.8L436.4 160.7L437 161.5L437.8 163L438.5 162.8L439.2 163.2L440 163.4L441 163.1L442 163L443 163.1L443.8 163.1L444.5 162.7L445.2 162.3L446 161.8L446.8 161L447.5 160.9L448.2 160.3L449 160.9" stroke="#ff3cff"/>
<path d="M449 160.9L450.5 153.6L451 160.2L451.5 169.3L452 159.7L452.5 157L453 160.9L453.5 165.4L454 160.4L454.5 163.1" stroke="#ff3cff"/>
<path d="M44 149.2L44.8 148.9L45.6 151.1L46.4 149.3L47.2 149L48 149.1L48.8 149.6L49.6 149.7L50.4 150L51.2 149.7L52 148.8L52.8 150L53.6 149.5L54.4 149.6L55.2 148.9L56 149.5L56.8 149.5L57.6 150L58.4 149.2L59.2 150.1L60 150.2L60.8 149.5L61.6 149.9L62.4 149.8L63.2 150.9L64 148.9L64.8 150.3L65.6 149.5L66.4 150.3L67.2 151.1L68 150.3L68.8 150.8L69.6 150.3L70.4 152L71.2 151.4L72 151.6L72.8 150.1L73.6 150.1L74.4 151.4L75.2 150.7L76 151L76.5 151.8L77 151.2L77.5 152.9L78 153L78.5 154L79 154.2L79.5 155.9L80 156.7L80.2 157.7L80.4 158.3L80.6 158.9L80.8 159.7L81 159.6L81.2 161.3L81.4 161.9L81.6 162.8L81.9 163.6L82.1 164.2L82.3 165.4L82.5 166.6L82.7 167.7L82.9 168.1L83.1 168.9L83.3 170.3L83.5 170.6L83.6 172.1L83.8 172.4L84 172.9L84.2 174.3L84.5 175.4L84.7 175.6L84.9 177.3L85.1 177.7L85.3 179L85.5 179.4L85.7 180L85.9 181.3L86.1 182.2L86.3 183.2L86.5 183.8L86.7 184.2L86.8 184.6L87 185.1L87.5 186.6L87.9 187.7L88.2 188.7L88.6 188.5L89 189L89.2 188.7L89.4 188.9L89.6 187.9L89.8 186.8L89.9 186.3L90.1 184.9L90.3 184L90.5 182.6L90.8 182.3L91 180.9L91.1 179.8L91.3 179.4L91.4 179L91.5 178.1L91.7 177.3L91.8 176.1L92 175.3L92.2 174.6L92.3 174L92.5 172.6L92.6 171.7L92.8 171.4L92.9 170L93.1 169.6L93.3 168.5L93.4 167.9L93.6 167.3L93.7 166.3L93.9 165.6L94 164.5L94.2 163.5L94.4 162.9L94.6 162.2L94.8 161.3L95 160.6L95.2 159.3L95.4 158.5L95.6 157.9L95.8 157L96 156.3L96.1 155.4L96.3 155.4L96.5 154.3L97 153.3L97.5 151.7L98 151.8L98.6 151.3L98.9 152.1L99.3 152L99.6 153L100 154.1L100.4 154.6L100.8 155.8L101.2 156.8L101.5 157.5L101.7 158.7L101.8 159.3L102 159.5L102.2 160.4L102.3 160.8L102.5 161.3L102.6 162.2L102.8 162.7L102.9 164.1L103.1 164.1L103.3 165.5L103.4 166.6L103.6 167.1L103.8 168.3L104 170.1L104.1 170.5L104.2 171.3L104.3 172L104.3 172.4L104.4 172.9L104.5 173.2L104.6 174.5L104.7 175L104.8 175.9L104.9 176.6L104.9 177.1L105 178.4L105.1 179.1L105.2 179.8L105.3 180.2L105.4 181.2L105.5 182L105.6 182.9L105.7 183.6L105.8 184.7L105.9 185.5L106 186.4L106.1 187.1L106.2 188.4L106.3 189.1L106.4 189.4L106.5 190.7L106.7 191.7L106.8 192.8L106.9 193.5L107 194.4L107.1 195.3L107.3 196.4L107.4 197.1L107.5 198L107.7 198.9L107.8 200.1L107.9 200.6L108 201.1L108.1 202.3L108.3 202.8L108.4 203.8L108.5 204.6L108.6 205.5L108.7 206.3L108.9 206.7L109 207.6L109.1 208.2L109.3 209.6L109.4 210.2L109.6 211.3L109.7 211.7L109.8 212.2L110 213.8L110.1 214.4L110.3 215.2L110.4 216.1L110.5 217L110.7 217.9L110.8 218.3L111 219.7L111.1 220.2L111.3 221.1L111.4 222.4L111.6 223.1L111.7 223.7L111.9 224.2L112 225.4L112.2 226.3L112.3 227L112.5 227.6L112.6 228.5L112.8 229.2L112.9 230.3L113 231.2L113.2 232L113.3 232.5L113.5 233.4L113.6 234.2L113.7 234.7L113.9 235.5L114 236.7L114.1 237L114.3 237.8L114.4 238.2L114.6 239.3L114.8 240L115 241.3L115.2 242.5L115.4 243.6L115.6 244.4L115.7 245.2L115.9 245.9L116.1 246.7L116.3 247.7L116.5 248.7L116.7 249.2L116.8 250.4L117 250.8L117.2 251.5L117.4 252.4L117.6 253.1L117.7 253.9L117.9 255.1L118.1 255.6L118.3 256.4L118.4 257.3L118.6 258L118.8 258.4L119 259.4L119.1 259.9L119.3 260.5L119.5 261.2L119.7 261.5L119.8 262.2L120 263L120.3 264.2L120.6 265L120.9 266.1L121.3 267.2L121.6 268.2L121.9 269L122.2 269.9L122.5 270.3L122.8 271.1L123.1 271.9L123.4 272.5L123.7 273.1L124 274.1L124.2 274.3L124.5 274.8L124.8 275.6L125 276.4L125.6 277.3L126.2 278.6L126.7 279.1L127.2 279.6L127.6 279.9L128.1 280.1L128.5 280.3L128.9 279.2L129.3 279.2L129.7 277.8L130.1 277.1L130.5 276.3L131 275.1L131.3 274.5L131.5 273.5L131.8 273.3L132.1 272.5L132.3 272.5L132.6 271.3L132.9 270.7L133.2 269.6L133.5 268.9L133.8 267.8L134.1 267.2L134.4 265.8L134.7 264.7L134.8 263.9L135 263.3L135.1 263.1L135.2 262L135.4 261.2L135.5 261L135.6 260L135.8 259.4L135.9 259L136.1 257.9L136.2 257.5L136.3 256.5L136.5 256.1L136.6 255.3L136.8 254.1L136.9 253.4L137.1 252.4L137.2 251.8L137.3 251.2L137.5 249.8L137.6 249.4L137.8 248.1L137.9 247.3L138.1 246.2L138.2 246.1L138.3 244.7L138.5 243.8L138.6 242.7L138.7 242.1L138.9 240.5L139 240L139.1 239.8L139.2 238.5L139.3 237.9L139.4 237.3L139.5 236.3L139.6 235.7L139.6 235.2L139.7 234.3L139.8 233.6L139.9 232.6L140 232L140.1 231.2L140.2 230.7L140.3 229.7L140.4 228.7L140.5 227.5L140.6 227.3L140.6 226.5L140.7 225.3L140.8 224.3L140.9 223.6L141 223.2L141.1 222L141.2 221.3L141.3 220.6L141.3 219.9L141.4 218.8L141.5 218L141.6 217.1L141.7 216.7L141.8 215.7L141.9 214.7L141.9 213.6L142 212.9L142.1 212.3L142.2 211.2L142.3 210.7L142.3 209.8L142.4 209L142.5 208.3L142.6 207.4L142.7 206.4L142.7 205.7L142.8 205.5L142.9 203.9L143 203.3L143 202.8L143.1 201.7L143.2 200.8L143.3 199.9L143.3 199.5L143.4 198.8L143.5 198.1L143.5 197L143.6 196.4L143.7 195.3L143.7 194.7L143.8 193.8L143.9 193.2L143.9 192.5L144 191.8L144 190.7L144.1 190.3L144.2 189.2L144.2 188.3L144.3 187.7L144.4 186.7L144.4 186.2L144.5 185.5L144.5 184.6L144.6 184L144.7 183L144.7 182.3L144.8 181.2L144.8 180.6L144.9 179.6L145 178.9L145 178.1L145.1 177.3L145.2 176.1L145.2 175.3L145.3 174.6L145.4 173.9L145.4 173L145.5 172.2L145.6 171.5L145.6 170.6L145.7 169.8L145.7 168.8L145.8 168.1L145.8 167.4L145.9 166.8L145.9 166L146 165.2L146.1 164.3L146.1 163.7L146.2 162.8L146.2 162L146.3 161.2L146.3 160.2L146.4 159.3L146.5 158.7L146.5 157.9L146.6 156.9L146.6 156.1L146.7 155.8L146.7 154.3L146.8 153.6L146.9 152.8L146.9 151.7L147 151.1L147 150.6L147.1 149.6L147.2 148.6L147.2 147.8L147.3 146.8L147.3 146.2L147.4 145.1L147.4 144.2L147.5 143.5L147.6 142.8L147.6 141.9L147.7 141.1L147.7 139.7L147.8 139.6L147.9 139L147.9 138L148 136.8L148 135.9L148.1 135.4L148.2 134.3L148.2 133.9L148.3 132.9L148.3 132.4L148.4 131.8L148.4 130.3L148.5 130.1L148.6 129L148.6 127.9L148.7 127.2L148.8 126.3L148.9 125.7L148.9 124.3L149 123.9L149.1 123.2L149.1 122L149.2 121.1L149.3 120.1L149.3 119L149.4 118.5L149.5 117.6L149.6 116.8L149.6 116.3L149.7 115.1L149.8 114.2L149.8 113.5L149.9 112.1L150 111.3L150 110.7L150.1 109.8L150.2 109.2L150.2 108.2L150.3 107.8L150.4 107L150.5 106.1L150.5 105.1L150.6 104.5L150.7 103.8L150.8 102.7L150.8 102.2L150.9 101.6L151 100.7L151 100.3L151.1 99.5L151.2 98.5L151.3 98L151.3 97.1L151.4 96.8L151.5 95.8L151.6 95.1L151.8 93.9L151.9 93L152.1 91.8L152.2 90.6L152.3 90.2L152.5 88.9L152.6 88.4L152.8 87.3L152.9 86.5L153.1 85.9L153.2 84.8L153.4 84.3L153.5 83L153.7 82.7L153.8 81.8L154 81.1L154.1 80.5L154.3 79.9L154.4 79.6L154.6 78.3L154.7 78.1L154.9 77.4L155 77.2L155.4 75.5L155.9 74.4L156.3 73.3L156.7 72.7L157.1 72.1L157.5 71.4L157.9 71.1L158.3 70.5L159 70.8L159.6 71.4L160.2 72L161 73.4L161.4 73.3L161.9 74L162.4 74.8L162.9 75.7L163.4 76.6L163.9 77.4L164.4 78.1L165 79L165.6 79.4L166.1 79.9L166.7 80.6L167.3 82L167.9 81.7L168.5 82.8L169.2 83.7L170 84.1L170.6 84.2L171.3 84.7L172 85.2L172.8 85.5L173.5 85.4L174.3 86L175.1 86.2L175.9 86.7L176.8 87.1L177.6 87.1L178.2 87.3L178.8 88L179.4 88.6L180 88.8L180.6 89.1L181.2 89.9L181.9 89.6L182.5 90.5L183.2 90.6L184 91.2L184.9 91.7L185.8 92.5L186.8 92.5L187.4 92.9L188 93L188.6 93.7L189.2 93.8L189.9 94.3L190.6 94.3L191.3 94.8L192 95.4L192.7 95.5L193.5 96L194.2 96.3L195 96.5L195.8 96.6L196.5 97.5L197.3 97.7L198.1 98.2L198.9 97.9L199.7 98.3L200.5 98.6L201.3 99.2L202.1 99.9L202.8 100.1L203.6 100.4L204.4 100.7L205.1 101.2L205.9 101.3L206.7 101.7L207.5 102L208.3 101.9L209.2 102.6L210 103.3L210.9 103.3L211.8 103.7L212.6 103.9L213.5 104.3L214.3 105L215.2 105L216 105.2L216.8 105.1L217.7 105.9L218.4 105.9L219.2 106.3L219.9 107.1L220.6 107.3L221.3 107L221.9 107.8L222.5 108L223 108L223.5 108.4L225.3 108.6L226.3 109L226.8 109.1L227.1 109.3L227.5 110L228.2 110.5L228.6 111.5L229 112.1L229.3 111.8L229.6 110.7L230.5 110.5L231.1 110.2L231.8 110.3L232.7 110.7L233.6 111.1L234.6 111.3L235.6 111.9L236.5 112.6L237.3 112.4L238 112.8L239 112.8L239.8 111.4L240.5 110.9L241 111.6L241.5 114.8L241.5 115.2L241.6 115.7L241.6 116.2L241.7 116.6L241.7 117.2L241.7 117.7L241.8 118.2L241.8 118.8L241.8 119.4L241.9 120L241.9 120.6L241.9 121.2L242 121.9L242 122.5L242 123.2L242 123.9L242.1 124.6L242.1 125.3L242.1 126.1L242.1 126.8L242.2 127.6L242.2 128.4L242.2 129.2L242.2 130L242.3 130.8L242.3 131.6L242.3 132.4L242.3 133.3L242.3 134.1L242.4 135L242.4 135.9L242.4 136.8L242.4 137.7L242.4 138.6L242.4 139.5L242.5 140.4L242.5 141.3L242.5 142.3L242.5 143.2L242.5 144.2L242.5 145.1L242.6 146.1L242.6 147.1L242.6 148L242.6 149L242.6 150L242.6 151L242.7 152L242.7 153L242.7 154L242.7 155L242.7 156L242.7 157L242.8 158L242.8 159L242.8 160L242.8 160.7L242.8 161.4L242.8 162.1L242.8 162.8L242.9 163.6L242.9 164.3L242.9 165.1L242.9 165.9L242.9 166.7L242.9 167.6L242.9 168.4L242.9 169.3L243 170.1L243 171L243 171.9L243 172.8L243 173.7L243 174.6L243 175.6L243 176.5L243 177.5L243 178.4L243.1 179.4L243.1 180.3L243.1 181.3L243.1 182.3L243.1 183.3L243.1 184.3L243.1 185.3L243.1 186.3L243.1 187.3L243.1 188.3L243.2 189.3L243.2 190.3L243.2 191.3L243.2 192.3L243.2 193.3L243.2 194.3L243.2 195.3L243.2 196.2L243.2 197.2L243.2 198.2L243.2 199.2L243.3 200.2L243.3 201.1L243.3 202.1L243.3 203L243.3 204L243.3 204.9L243.3 205.8L243.3 206.8L243.3 207.7L243.3 208.6L243.3 209.4L243.3 210.3L243.4 211.2L243.4 212L243.4 212.9L243.4 213.7L243.4 214.5L243.4 215.3L243.4 216L243.4 216.8L243.4 217.5L243.4 218.3L243.4 219L243.4 219.6L243.5 220.3L243.5 221L243.5 221.6L243.5 222.2L243.5 222.8L243.5 223.3L243.5 223.8L243.5 224.3L243.5 224.8L243.5 225.3L243.5 225.7L243.5 226.1L243.6 226.5L243.6 226.9L243.6 227.2L243.6 227.5L243.6 227.8L243.6 228L243.6 228.4L243.6 228.8L243.7 229L243.7 229.1L243.7 229L243.7 228.9L243.7 228.7L243.8 228.4L243.8 227.9L243.8 227.4L243.8 226.8L243.8 226.2L243.9 225.4L243.9 224.6L243.9 223.7L243.9 222.8L243.9 221.8L244 220.8L244 219.7L244 218.6L244 217.4L244 216.2L244 215L244.1 213.8L244.1 212.5L244.1 211.3L244.1 210L244.1 208.7L244.2 207.5L244.2 206.2L244.2 205L244.2 203.7L244.2 202.5L244.2 201.3L244.3 200.2L244.3 199.1L244.3 198L244.3 197.3L244.3 196.7L244.3 196L244.3 195.3L244.4 194.6L244.4 193.9L244.4 193.2L244.4 192.5L244.4 191.8L244.4 191.1L244.4 190.3L244.4 189.6L244.4 188.8L244.4 188.1L244.5 187.3L244.5 186.5L244.5 185.8L244.5 185L244.5 184.2L244.5 183.4L244.5 182.6L244.5 181.8L244.5 181L244.6 180.2L244.6 179.4L244.6 178.6L244.6 177.7L244.6 176.9L244.6 176.1L244.6 175.2L244.6 174.4L244.6 173.6L244.6 172.7L244.7 171.9L244.7 171.1L244.7 170.2L244.7 169.4L244.7 168.5L244.7 167.7L244.7 166.8L244.7 166L244.7 165.1L244.7 164.3L244.7 163.4L244.8 162.6L244.8 161.7L244.8 160.9L244.8 160L244.8 159.2L244.8 158.3L244.8 157.5L244.8 156.6L244.8 155.8L244.8 155L244.9 154.1L244.9 153.3L244.9 152.5L244.9 151.6L244.9 150.8L244.9 150L244.9 149.2L244.9 148.4L244.9 147.6L244.9 146.7L244.9 145.9L244.9 145L245 144.1L245 143.2L245 142.4L245 141.5L245 140.5L245 139.6L245 138.7L245 137.8L245 136.8L245 135.9L245 134.9L245 134L245 133L245 132.1L245 131.1L245 130.2L245 129.2L245.1 128.3L245.1 127.3L245.1 126.4L245.1 125.4L245.1 124.5L245.1 123.6L245.1 122.6L245.1 121.7L245.1 120.8L245.1 119.9L245.1 119L245.1 118.1L245.1 117.2L245.1 116.3L245.1 115.5L245.1 114.6L245.1 113.8L245.2 113L245.2 112.1L245.2 111.4L245.2 110.6L245.2 109.8L245.2 109.1L245.2 108.3L245.2 107.6L245.2 106.9L245.2 106.3L245.2 105.6L245.3 105L245.3 104.4L245.3 103.8L245.3 103.2L245.3 102.7L245.3 102.2L245.3 101.7L245.4 101.2L245.4 100.8L245.4 100.4L245.4 100L245.6 97.6L245.7 97.5L245.9 99L246.2 101.2L246.5 103.3L247 104.7L247.5 105.3L248.1 105.9L248.7 106.5L249.5 107.1L250.3 107.4L251.1 107.9L252 108.8L252.7 109.2L253.4 109.4L254.2 109.8L255 110.4L255.8 110.7L256.7 110.6L257.5 111.2L258.4 111.6L259.2 112L260 112.2L260.8 112.4L261.6 112.8L262.5 113L263.3 113.7L264.2 114L265 114.6L265.7 114.5L266.4 114.9L267 114.8L267.5 114.8L268.1 114.6L268.4 113.5L268.5 112.5L268.6 111L268.7 110.4L268.8 109.8L268.9 110.3L268.9 111L268.9 112.1L268.9 113.1L269 114.1L269.4 115.2L270 115.6L270.5 115.9L271.2 116.1L271.9 116L272.7 116L273.5 116.2L274.4 116L275.4 116.1L276.3 116.2L277.3 116.1L278.2 115.8L279.1 115.6L280 115.8L280.8 115.7L281.7 115.9L282.5 115.6L283.3 115.6L284.2 115.7L285 115.4L285.8 115.4L286.7 115.6L287.5 115.5L288.3 115.2L289.2 115L290 114.6L290.8 114.7L291.6 114.4L292.4 114.2L293.2 113.8L294.1 113.7L294.9 113.4L295.7 113.3L296.5 113.2L297.3 112.8L298 112.1L298.7 112L299.4 111.6L300 111.6L301 111.5L301.8 111.1L302.5 110.5L303.1 110.4L303.7 109.8L304.3 109.3L305 108.9L305.7 108.5L306.5 108.4L307.2 107.3L307.9 107.3L308.6 106.7L309.3 105.8L310 105.2L310.6 104.5L311.2 104L311.8 103.5L312.4 102.7L313 102.3L313.5 101.7L314 101.1L314.9 100.3L315.6 99.6L316.4 99.2L317.1 98.7L317.9 99L318.7 99.3L319.5 99.8L319.9 100.9L320.3 100.8L320.7 101.5L321.2 102.5L321.6 102.9L322 104L322.3 104.5L322.6 105.3L322.9 106.2L323.2 107L323.6 108L323.9 108.8L324.2 109.8L324.5 110.8L324.7 111.3L324.9 112.3L325 112.8L325.2 113.7L325.4 115L325.6 115.8L325.8 116.6L326 117.6L326.1 118.5L326.3 119L326.5 120.1L326.7 120.7L326.8 121.7L327 122.2L327.3 123.7L327.6 124.5L327.9 125.1L328.2 126L328.4 126.5L328.7 127.3L329 128L329.2 129L329.4 129.2L331 130.2L331.5 130.2L332.2 130.9L332.9 129.2L333.7 130.5L334.5 129.7L335.4 130.3L336.4 130.5L337.3 130.7L338.3 129.8L339.3 130.3L340.2 129.4L341.2 129.2L342.1 130.5L342.9 130L343.7 128.9L344.4 129.4L345 130L346.3 130.9L347.3 130.3L347.9 129.9L348.5 127.8L349.2 128.6L350 128.6L350.7 128.2L351.5 127.9L352.3 127L353.2 127.9L354.1 127.3L354.9 125.7L355.7 124.7L356.4 126.4L357 124.3L358.1 125.2L358.9 125.7L359.5 123.4L360 123.2L360.1 122.2L360.3 122.1L360.4 121.1L360.5 121.3L360.5 119.3L360.6 117.8L360.7 117.5L360.8 115.5L360.8 114.4L360.9 115.2L360.9 112.2L361 111.7L361.1 111.5L361.1 110.4L361.2 109.5L361.3 111.9L361.3 111L361.4 111.7L361.5 112.6L361.5 113.1L361.6 114.1L361.7 116L361.7 118.7L361.8 118.7L361.9 119.8L362 119.2L362.1 121.1L362.2 121.8L362.3 122.3L363.1 123.2L364.2 122.9L365 121.6L365.2 121L365.3 120.1L365.4 119.1L365.5 117.9L365.6 116.8L365.7 115.6L365.8 114.6L365.8 113.8L365.9 113.3L366 113.1L366.1 113.1L366.2 113.4L366.3 113.7L366.4 114.3L366.5 115L366.6 115.9L366.7 117L366.8 118.3L366.9 119.9L367 121.6L367 122.1L367 122.6L367.1 123.1L367.1 123.5L367.1 124L367.1 124.4L367.1 124.9L367.1 125.3L367.1 125.7L367.1 126.2L367.2 126.6L367.2 127.1L367.2 127.6L367.2 128.1L367.2 128.6L367.2 129.2L367.2 129.8L367.2 130.4L367.2 131.1L367.2 131.8L367.2 132.5L367.2 133.3L367.2 134.2L367.3 135.1L367.3 136.1L367.3 137.1L367.3 138.2L367.3 139.4L367.3 140.7L367.3 142L367.3 143.4L367.3 144.9L367.4 146.5L367.4 148.2L367.4 150L367.4 150.5L367.4 151.1L367.4 151.6L367.4 152.2L367.4 152.8L367.4 153.4L367.4 154L367.4 154.6L367.4 155.3L367.5 155.9L367.5 156.6L367.5 157.3L367.5 158L367.5 158.7L367.5 159.5L367.5 160.2L367.5 161L367.5 161.7L367.5 162.5L367.5 163.3L367.5 164.1L367.5 164.9L367.5 165.7L367.5 166.6L367.5 167.4L367.6 168.3L367.6 169.1L367.6 170L367.6 170.9L367.6 171.8L367.6 172.7L367.6 173.6L367.6 174.5L367.6 175.4L367.6 176.3L367.6 177.3L367.6 178.2L367.6 179.1L367.6 180.1L367.6 181.1L367.7 182L367.7 183L367.7 184L367.7 184.9L367.7 185.9L367.7 186.9L367.7 187.9L367.7 188.9L367.7 189.9L367.7 190.8L367.7 191.8L367.7 192.8L367.7 193.8L367.7 194.8L367.8 195.8L367.8 196.8L367.8 197.8L367.8 198.8L367.8 199.8L367.8 200.8L367.8 201.8L367.8 202.8L367.8 203.8L367.8 204.8L367.8 205.8L367.8 206.8L367.8 207.8L367.9 208.8L367.9 209.8L367.9 210.7L367.9 211.7L367.9 212.7L367.9 213.6L367.9 214.6L367.9 215.6L367.9 216.5L367.9 217.5L367.9 218.4L367.9 219.3L367.9 220.2L368 221.2L368 222.1L368 223L368 223.9L368 224.8L368 225.6L368 226.5L368 227.4L368 228.2L368 229.1L368 229.9L368 230.7L368.1 231.5L368.1 232.3L368.1 233.1L368.1 233.9L368.1 234.6L368.1 235.4L368.1 236.1L368.1 236.9L368.1 237.6L368.1 238.3L368.1 239L368.1 239.6L368.1 240.3L368.2 240.9L368.2 241.6L368.2 242.2L368.2 242.8L368.2 243.4L368.2 243.9L368.2 244.5L368.2 245L368.2 245.5L368.2 246L368.2 246.5L368.2 247L368.2 247.4L368.3 247.8L368.3 248.2L368.3 248.6L368.3 249L368.3 249.4L368.3 249.7L368.3 250L368.3 251.1L368.4 251.9L368.4 252.5L368.4 252.9L368.5 253.1L368.5 253L368.5 252.8L368.5 252.4L368.6 251.9L368.6 251.2L368.6 250.4L368.7 249.4L368.7 248.4L368.7 247.2L368.8 246L368.8 244.6L368.8 243.3L368.9 241.9L368.9 240.4L368.9 238.9L369 237.5L369 236L369 234.5L369.1 233.1L369.1 231.7L369.1 230.4L369.2 229.1L369.2 227.9L369.2 226.9L369.3 225.9L369.3 225L369.3 224.2L369.4 223.4L369.4 222.7L369.4 221.9L369.5 221.2L369.5 220.5L369.6 219.7L369.6 219L369.6 218.3L369.7 217.6L369.7 216.9L369.7 216.2L369.8 215.5L369.8 214.8L369.9 214.1L369.9 213.4L369.9 212.6L370 211.9L370 211.1L370.1 210.3L370.1 209.5L370.1 208.7L370.2 207.9L370.2 207L370.3 206.1L370.3 205.2L370.3 204.2L370.4 203.2L370.4 202.2L370.5 201.1L370.5 200L370.5 199.4L370.5 198.7L370.6 198L370.6 197.4L370.6 196.7L370.6 195.9L370.7 195.2L370.7 194.5L370.7 193.7L370.7 192.9L370.8 192.2L370.8 191.4L370.8 190.5L370.8 189.7L370.8 188.9L370.9 188.1L370.9 187.2L370.9 186.4L370.9 185.5L371 184.7L371 183.8L371 182.9L371 182L371.1 181.2L371.1 180.3L371.1 179.4L371.1 178.5L371.2 177.6L371.2 176.7L371.2 175.8L371.2 175L371.2 174.1L371.3 173.2L371.3 172.3L371.3 171.4L371.3 170.6L371.4 169.7L371.4 168.8L371.4 168L371.4 167.1L371.5 166.3L371.5 165.5L371.5 164.6L371.5 163.8L371.5 163L371.6 162.2L371.6 161.4L371.6 160.7L371.6 159.9L371.7 159.2L371.7 158.4L371.7 157.7L371.7 157L371.8 156.3L371.8 155.7L371.8 155L371.8 153.9L371.9 152.8L371.9 151.8L371.9 150.8L372 149.7L372 148.7L372.1 147.7L372.1 146.8L372.1 145.8L372.2 144.9L372.2 143.9L372.2 143L372.3 142.1L372.3 141.2L372.3 140.4L372.4 139.5L372.4 138.7L372.4 137.9L372.5 137.1L372.5 136.3L372.5 135.6L372.6 134.9L372.6 134.1L372.7 133.4L372.7 132.8L372.7 132.1L372.8 131.4L372.8 130.8L372.8 130.2L372.9 129.6L372.9 129.1L373 128.5L373 128L373.2 126.2L373.3 124.9L373.5 123.9L373.7 123.3L373.8 122.8L374 122.3L374.3 121.8L374.5 121L374.7 120.3L375 119.6L375.2 119L375.4 118.4L375.7 117.8L376 117L376.3 116.1L376.7 115L377.2 113.7L377.4 113.2L377.6 112.5L377.8 111.8L378.1 111.1L378.3 110.3L378.6 109.5L378.8 108.7L379.1 107.8L379.4 106.9L379.7 106L380 105.1L380.3 104.2L380.6 103.2L380.9 102.3L381.2 101.4L381.4 100.6L381.7 99.7L382 98.9L382.3 98.1L382.5 97.4L382.8 96.7L383 96L383.2 95.4L383.4 94.9L384.1 93.4L384.7 92.6L385.1 92.2L385.6 91.9L386 91.4L386.4 90.4L386.6 89.7L386.8 88.9L387 88L387.2 87L387.4 85.9L387.6 84.8L387.8 83.8L388 82.7L388.1 81.8L388.3 80.9L388.5 80.1L388.6 79.5L388.8 79.1L388.9 79L389 78.9L389.2 78.9L389.3 78.9L389.4 79.1L389.4 79.4L389.5 79.9L389.6 80.6L389.6 81.6L389.7 82.8L389.8 84.4L389.8 86.3L389.9 88.7L389.9 89.2L389.9 89.7L389.9 90.3L390 90.9L390 91.6L390 92.4L390 93.1L390 93.9L390 94.8L390 95.6L390 96.5L390.1 97.5L390.1 98.4L390.1 99.4L390.1 100.4L390.1 101.5L390.1 102.5L390.1 103.6L390.1 104.7L390.2 105.8L390.2 106.9L390.2 108L390.2 109.2L390.2 110.3L390.2 111.4L390.2 112.6L390.2 113.7L390.3 114.9L390.3 116L390.3 117.2L390.3 118.3L390.3 119.5L390.3 120.6L390.3 121.7L390.3 122.8L390.4 123.9L390.4 124.9L390.4 126L390.4 127L390.4 128L390.4 129L390.4 129.9L390.4 130.8L390.4 131.7L390.5 132.5L390.5 133.4L390.5 134.1L390.5 134.9L390.5 135.6L390.5 136.3L390.5 136.9L390.5 137.4L390.6 138L390.6 138.4L390.6 138.9L390.6 139.2L390.6 139.5L390.6 139.8L390.6 140L390.6 140.1L390.7 140.2L390.7 140.2L390.7 140.1L390.7 140L390.7 139.9L390.7 139.7L390.7 139.5L390.7 139.2L390.7 138.9L390.8 138.6L390.8 138.3L390.8 137.9L390.8 137.4L390.8 137L390.8 136.5L390.8 136L390.8 135.4L390.8 134.8L390.8 134.2L390.8 133.6L390.8 132.9L390.9 132.2L390.9 131.5L390.9 130.8L390.9 130L390.9 129.2L390.9 128.4L390.9 127.6L390.9 126.7L390.9 125.9L390.9 125L390.9 124.1L390.9 123.2L390.9 122.2L391 121.3L391 120.3L391 119.3L391 118.3L391 117.3L391 116.3L391 115.3L391 114.3L391 113.2L391 112.2L391 111.1L391 110L391 109L391.1 107.9L391.1 106.8L391.1 105.7L391.1 104.6L391.1 103.6L391.1 102.5L391.1 101.4L391.1 100.3L391.1 99.2L391.1 98.1L391.1 97.1L391.2 96L391.2 94.9L391.2 93.9L391.2 92.8L391.2 91.8L391.2 90.7L391.2 89.7L391.2 88.7L391.2 87.7L391.2 86.7L391.3 85.7L391.3 84.7L391.3 83.8L391.3 82.8L391.3 81.9L391.3 81L391.3 80.1L391.3 79.2L391.3 78.4L391.4 77.5L391.4 76.7L391.4 75.9L391.4 75.2L391.4 74.4L391.4 73.7L391.4 73L391.5 72.3L391.5 71.7L391.5 71.1L391.5 70.5L391.5 69.9L391.5 69.4L391.5 68.9L391.6 68.4L391.6 68L391.6 67.6L392 63.1L392.6 64.7L393.1 68.4L393.8 70.4L394.3 70L394.8 69.2L395.4 68.3L396 67.4L396.6 66.7L397.1 66.4L397.6 66.8L398 67.7L398.5 68.8L398.9 69.9L399.4 70.6L399.9 70.7L400.3 70.4L400.7 69.8L401.1 69L401.5 68L401.9 67L402.4 65.9L402.8 65L403.2 64.1L403.6 63.4L403.9 63L404.8 62.6L405.4 63.2L406 65.3L406.1 65.8L406.2 66.4L406.3 67L406.4 67.7L406.5 68.4L406.6 69.2L406.7 70L406.8 70.8L406.9 71.7L407 72.6L407.1 73.5L407.2 74.4L407.3 75.4L407.4 76.3L407.5 77.3L407.6 78.2L407.7 79.2L407.8 80.1L407.9 80.9L408 81.7L408 82.5L408.1 83.4L408.2 84.3L408.3 85.2L408.4 86.1L408.5 87.1L408.5 88L408.6 88.9L408.7 89.9L408.8 90.8L408.9 91.7L409 92.6L409.1 93.4L409.1 94.3L409.2 95.1L409.3 95.8L409.4 96.5L409.5 97.2L409.6 97.8L409.7 98.3L410.1 99.9L410.5 100.9L410.9 101.6L411.4 102L411.8 102.4L412.1 102.9L412.5 103.7L412.8 104.3L413.3 105.8L413.5 106.3L413.7 106.9L413.9 107.7L414.1 108.5L414.4 109.3L414.6 110.2L414.9 111.1L415.1 112L415.4 112.9L415.6 113.8L415.9 114.6L416.1 115.4L416.2 116L416.4 116.6L416.7 117.8L416.8 118.4L416.9 118.9L417.1 120L417.3 120.6L417.4 121.3L417.6 122L417.8 122.8L418.1 123.6L418.3 124.5L418.5 125.3L418.8 126.2L419 127.1L419.3 127.9L419.5 128.7L419.7 129.5L420 130.4L420.2 131.1L420.5 131.4L420.7 133.2L421 133.5L421.2 134.4L421.5 135.2L421.7 135.8L422 136.1L422.3 138L422.5 137.8L422.8 138.7L423.1 139.9L423.3 140.5L423.6 141.8L423.9 143L424.2 143.4L424.4 144.2L424.7 144.9L425 146.1L425.3 145.5L425.6 147.4L425.9 147.5L426.2 148.1L426.5 149.5L426.8 150.1L427.1 151.3L427.4 152.2L427.7 151.2L428 153L428.4 154.9L428.8 155.2L429.1 156.2L429.5 156.3L429.9 156.3L430.2 157.2L430.6 158.8L431 159.6L431.5 159.7L432 160.8L432.5 161.8L433 161.6L433.5 163L434 164.6L434.6 165.7L435.2 165.2L435.8 166.8L436.4 166.2L437 166.6L437.8 166.3L438.5 168.3L439.2 167.9L440 169.4L441 168.6L442 168.5L443 167.4L443.8 168.8L444.5 167.5L445.2 167.1L446 165.7L446.8 166.9L447.5 166.6L448.2 165.4L449 165.4" stroke="#3c3c9c"/>
<path d="M449 165.4L450.5 166.6L451 168.6L451.5 165.6L452 171.2L452.5 164.4L453 163.1L453.5 163.6L454 156.3L454.5 162.4" stroke="#3c3c9c"/>
<path d="M44 156.2L44.8 155.8L45.6 155.2L46.4 156L47.2 154.6L48 155.8L48.8 156.3L49.6 156.5L50.4 155.7L51.2 156.8L52 157.4L52.8 156.1L53.6 156.9L54.4 155.6L55.2 155.4L56 157L56.8 156.8L57.6 156.9L58.4 156.5L59.2 156.8L60 157.5L60.8 158.1L61.6 157L62.4 156.2L63.2 158.1L64 157.7L64.8 157.9L65.6 157.6L66.4 159L67.2 157.7L68 158.1L68.8 156.7L69.6 157.5L70.4 157.5L71.2 158L72 158.3L72.8 157.6L73.6 159L74.4 157.3L75.2 157.8L76 158.6L76.5 158.1L77 159.6L77.5 160.2L78 160.2L78.5 162.3L79 162.1L79.5 163.3L80 163.4L80.2 164.8L80.4 165.5L80.6 166.2L80.8 167.2L81 167.2L81.2 168.3L81.4 169L81.6 170.6L81.8 171L82 171.9L82.2 172.7L82.4 174.1L82.5 174.6L82.7 175.7L82.9 176L83.1 177.7L83.3 178.4L83.5 179.2L83.7 180.2L83.8 180.6L84 181.4L84.2 182.5L84.4 183.4L84.6 184.1L84.8 185.1L85 185.8L85.2 187L85.4 187.9L85.6 188.5L85.8 189.8L86 189.7L86.2 190.8L86.3 192L86.5 192.2L86.7 192.5L86.8 193.8L87 194.2L87.5 195.3L87.9 197.1L88.2 197.5L88.6 197.8L89 197.9L89.2 197.6L89.4 197L89.5 196.6L89.7 195.8L89.9 195.3L90 194.4L90.2 193.6L90.4 192.3L90.6 191L90.8 189.8L91 188.9L91.1 188.7L91.2 187.9L91.4 186.8L91.5 186.5L91.6 185.2L91.8 184.9L91.9 183.7L92 183.1L92.2 182.2L92.3 181.1L92.5 180.4L92.6 179.2L92.8 178.5L92.9 177.9L93 177.8L93.2 176.1L93.3 175.1L93.5 174.1L93.6 173.8L93.7 172.4L93.9 171.9L94 171.5L94.2 170.1L94.4 169.8L94.6 168.7L94.8 167.4L94.9 166.5L95.1 165.5L95.3 164.6L95.5 164.3L95.7 163.6L95.8 162.8L96 162.2L96.2 161.3L96.3 161L96.5 160L97 158.8L97.6 158L98.1 157.3L98.6 157L98.9 157.3L99.1 158.2L99.4 158.9L99.6 158.9L99.9 160L100.2 161.1L100.5 162.2L100.7 162.8L101 164.1L101.2 164.6L101.3 165.7L101.5 165.9L101.7 166.4L101.8 167L102 167.9L102.2 168.5L102.3 168.9L102.5 169.9L102.7 170.4L102.9 171.5L103.1 172.4L103.3 173.5L103.5 174.9L103.6 175.4L103.7 176.3L103.8 177L103.9 177.4L104 177.9L104.1 178.9L104.2 179.1L104.3 179.8L104.5 181L104.6 181.8L104.7 182.6L104.8 183.1L104.9 183.7L105 184.6L105.1 185.6L105.3 186.2L105.4 187L105.5 187.7L105.6 188.6L105.8 189.9L105.9 190.7L106 191.3L106.1 192.2L106.3 193.2L106.4 194.4L106.5 195L106.7 196.1L106.8 196.7L106.9 197.8L107.1 199.1L107.2 200.2L107.3 200.4L107.4 201.2L107.5 202.3L107.6 202.8L107.7 203.5L107.8 204.4L107.9 205.2L108 206.1L108.1 206.9L108.2 207.4L108.3 208.3L108.4 209.1L108.6 209.7L108.7 210.6L108.8 211.9L108.9 212.2L109 213.6L109.1 214.3L109.2 215.1L109.4 216.1L109.5 217L109.6 218L109.7 218.5L109.8 219.4L109.9 220.3L110 221.6L110.2 222.2L110.3 222.7L110.4 223.7L110.5 224.4L110.6 225.4L110.7 226.3L110.8 227.5L110.9 227.5L111 228.9L111.1 229.5L111.2 230.1L111.3 231L111.4 231.6L111.5 232.5L111.6 233.4L111.7 233.6L111.8 234.8L111.9 235.2L112 236.2L112.1 237L112.3 238.2L112.4 239L112.5 240.1L112.6 240.8L112.7 241.5L112.8 242.7L112.9 243.5L113 244.6L113.1 244.6L113.2 245.8L113.3 246.8L113.4 247.1L113.5 248L113.6 249.2L113.7 249.8L113.8 250L113.9 251.2L114 251.9L114.1 252.5L114.2 253.1L114.3 253.8L114.4 254.3L114.6 255.1L114.7 256.1L114.9 256.7L115 257.8L115.2 258.2L115.4 258.6L115.6 259.9L115.8 260.9L116 261.8L116.2 262.6L116.4 263.3L116.7 264.6L116.9 265L117.1 266.1L117.4 266.8L117.6 267.4L117.8 268.8L118.1 268.8L118.3 270L118.6 271L118.8 271.6L119 272.6L119.3 273.2L119.5 273.8L119.7 275.1L119.9 275.3L120.1 275.9L120.3 276.4L120.6 277.5L121 278.8L121.3 279.8L121.6 280.5L121.8 281.2L122.1 282.3L122.4 282.6L122.7 283.5L122.9 284.2L123.2 284.8L123.5 285.7L123.7 286.2L124 286.8L124.4 288.3L124.7 289L125.1 290L125.5 290.6L125.8 291.7L126.2 292.4L126.5 293.2L126.9 294.1L127.2 294.1L127.5 294.5L128.4 295.1L129.2 294.1L130 293.2L130.2 293L130.4 292.6L130.6 291.8L130.8 291.5L131 290.8L131.2 289.7L131.4 289.2L131.6 288.4L131.8 287.2L132 285.9L132.3 285.4L132.5 284L132.6 283.3L132.8 282.7L132.9 281.9L133.1 281.5L133.2 280.7L133.4 280L133.6 279.1L133.7 278L133.9 277.3L134 276.7L134.2 275.6L134.4 275.4L134.5 273.9L134.7 273L134.9 272.5L135.1 271.5L135.2 270.5L135.4 269.6L135.6 268.8L135.7 268L135.9 267.2L136 266.2L136.2 265.6L136.3 264.9L136.5 264.2L136.6 262.7L136.8 262.4L137 261.7L137.1 261.1L137.3 260.5L137.4 259.9L137.6 259.1L137.7 258.2L137.9 257.4L138 257L138.2 255.8L138.3 255.1L138.5 254.6L138.6 253.5L138.8 252.1L138.9 251.7L139.1 250.6L139.2 249.8L139.4 249L139.5 247.9L139.6 247.1L139.7 246.6L139.8 245.8L139.9 245L139.9 244.3L140 243.5L140.1 242.6L140.2 241.7L140.3 241L140.4 240L140.5 239.1L140.6 238.7L140.7 237.6L140.8 236.7L140.8 235.8L140.9 235L141 234.1L141.1 233.2L141.2 232.2L141.3 231.6L141.4 230.4L141.4 229.9L141.5 228.4L141.6 227.7L141.7 227.3L141.8 226.2L141.8 225.3L141.9 224.7L142 223.6L142.1 223L142.1 221.7L142.2 221.3L142.3 220.5L142.3 220.1L142.4 219.4L142.4 218.4L142.5 218.2L142.6 216.7L142.7 215.4L142.8 214.5L142.8 214.4L142.9 213.2L142.9 212.3L143 211.5L143 210.7L143.1 210.5L143.1 209.5L143.2 209.2L143.2 208.1L143.3 207L143.3 206.9L143.3 206L143.4 205.2L143.4 204.8L143.5 203.7L143.5 203.1L143.6 202L143.6 200.9L143.7 200.1L143.7 199.2L143.8 198.9L143.8 198.2L143.9 197.3L143.9 196.7L144 196L144 195.1L144.1 194.6L144.1 193.7L144.2 193.1L144.2 192.1L144.3 191.5L144.3 190.8L144.4 189.8L144.4 189.1L144.5 188.3L144.5 187.7L144.6 186.6L144.6 186.1L144.7 185.5L144.7 184.4L144.8 183.2L144.8 182.7L144.9 182L145 180.9L145 180.3L145.1 179.3L145.1 178.4L145.2 177.4L145.2 176.5L145.3 175.6L145.3 174.8L145.4 174L145.4 173L145.5 171.9L145.5 171.3L145.6 170.6L145.6 169.5L145.7 168.9L145.7 168.1L145.8 167.5L145.8 166.7L145.8 165.9L145.9 165L145.9 164.5L146 163.6L146 162.4L146.1 161.9L146.1 160.8L146.1 160.5L146.2 159.2L146.2 158.4L146.3 157.6L146.3 156.7L146.4 155.9L146.4 155.3L146.4 154.2L146.5 153.5L146.5 152.7L146.6 151.4L146.6 151.1L146.7 150L146.7 149.2L146.8 148L146.8 147.5L146.8 146.6L146.9 145.6L146.9 145.3L147 144.1L147 143.2L147.1 142.5L147.1 141.8L147.1 141.1L147.2 140.2L147.2 139.5L147.3 138.8L147.3 137.6L147.4 137L147.4 136.2L147.5 135.7L147.5 135.3L147.6 134.1L147.6 132.8L147.7 132L147.8 131.3L147.8 130.1L147.9 129.3L148 128.4L148 127.1L148.1 126.8L148.1 125.8L148.2 125L148.3 123.8L148.3 123.1L148.4 122.3L148.5 121.6L148.5 120.8L148.6 120L148.7 119.6L148.7 118.7L148.8 117.6L148.9 116.8L148.9 116.6L149 115.5L149 115.1L149.1 114.4L149.2 113.3L149.2 112.6L149.3 112L149.4 111.2L149.4 110.5L149.5 109.9L149.6 109.2L149.7 107.9L149.8 107.1L149.9 106.1L150 105.1L150.1 104.8L150.2 103.3L150.3 102.8L150.3 102.3L150.4 101.2L150.5 100.8L150.6 100.2L150.7 99.1L150.8 98.6L150.9 97.6L151 97.2L151.1 96.3L151.3 95.6L151.4 95.1L151.5 94.1L151.6 93.5L151.8 92.5L151.9 91.3L152 90.7L152.2 89.9L152.3 88.7L152.4 88.3L152.6 87.2L152.7 86.4L152.9 85.3L153 84.6L153.2 83.9L153.4 82.9L153.5 82.2L153.7 81L153.8 80.9L154 79.7L154.2 78.8L154.3 78.4L154.5 77.8L154.9 77L155.2 75.6L155.6 74.8L156 73.7L156.4 73.5L156.8 72.4L157.2 72.1L157.6 70.9L158 70.9L158.3 70.2L159 70.3L159.6 70.9L160.3 71.4L161 72.6L161.4 73.2L161.9 73.8L162.4 74.7L162.9 75.4L163.4 76.1L163.9 77.2L164.4 78.1L165 78.4L165.5 79.2L166 80L166.5 80.5L167 81.1L167.5 82L168.1 82.6L168.7 83.1L169.3 83.4L170 84.4L170.6 84.7L171.3 84.6L172 85L172.8 85.5L173.5 85.4L174.3 85.9L175.1 86.1L175.9 86.3L176.8 86.8L177.6 86.9L178.2 87.4L178.8 87.5L179.4 88.7L180 88.9L180.6 89.3L181.2 89.5L181.9 90L182.5 90.5L183.2 90.9L184 91.4L184.9 91.5L185.8 92.3L186.8 92.6L187.4 92.7L188 93L188.6 93.7L189.2 94.1L189.9 93.9L190.6 94.9L191.3 95.1L192 95.1L192.7 95.4L193.5 95.9L194.2 96.4L195 96.5L195.8 96.7L196.5 97.3L197.3 97.2L198.1 98L198.9 98.6L199.7 98.7L200.5 99.2L201.3 99.5L202.1 99.8L202.8 100.1L203.6 100.2L204.4 100.6L205.1 101L205.9 101.6L206.7 102L207.5 102.1L208.3 102.2L209.2 102.5L210 103L210.9 103.7L211.8 103.8L212.6 104.1L213.5 104.3L214.3 104.9L215.2 105.1L216 105.4L216.8 105.7L217.7 106.4L218.4 106.3L219.2 107L219.9 107.2L220.6 107.2L221.3 107.6L221.9 107.6L222.5 107.7L223 108.1L223.5 108.1L225.3 109.1L226.3 109.3L226.8 109.5L227.1 109.7L227.5 109.2L228.2 110.8L228.6 111.4L229 112.3L229.3 111.6L229.6 110.8L230.5 110.6L231.1 110L231.8 110.6L232.7 110.8L233.6 110.8L234.6 111.6L235.6 111.8L236.5 112.1L237.3 112.4L238 113.4L239 112.5L239.8 111.2L240.5 110.9L241 111.6L241.5 114.8L241.5 115.2L241.6 115.7L241.6 116.2L241.7 116.6L241.7 117.2L241.7 117.7L241.8 118.2L241.8 118.8L241.8 119.4L241.9 120L241.9 120.6L241.9 121.2L242 121.9L242 122.5L242 123.2L242 123.9L242.1 124.6L242.1 125.3L242.1 126.1L242.1 126.8L242.2 127.6L242.2 128.4L242.2 129.2L242.2 130L242.3 130.8L242.3 131.6L242.3 132.4L242.3 133.3L242.3 134.1L242.4 135L242.4 135.9L242.4 136.8L242.4 137.7L242.4 138.6L242.4 139.5L242.5 140.4L242.5 141.3L242.5 142.3L242.5 143.2L242.5 144.2L242.5 145.1L242.6 146.1L242.6 147.1L242.6 148L242.6 149L242.6 150L242.6 151L242.7 152L242.7 153L242.7 154L242.7 155L242.7 156L242.7 157L242.8 158L242.8 159L242.8 160L242.8 160.7L242.8 161.4L242.8 162.1L242.8 162.8L242.9 163.6L242.9 164.3L242.9 165.1L242.9 165.9L242.9 166.7L242.9 167.6L242.9 168.4L242.9 169.3L243 170.1L243 171L243 171.9L243 172.8L243 173.7L243 174.6L243 175.6L243 176.5L243 177.5L243 178.4L243.1 179.4L243.1 180.3L243.1 181.3L243.1 182.3L243.1 183.3L243.1 184.3L243.1 185.3L243.1 186.3L243.1 187.3L243.1 188.3L243.2 189.3L243.2 190.3L243.2 191.3L243.2 192.3L243.2 193.3L243.2 194.3L243.2 195.3L243.2 196.2L243.2 197.2L243.2 198.2L243.2 199.2L243.3 200.2L243.3 201.1L243.3 202.1L243.3 203L243.3 204L243.3 204.9L243.3 205.8L243.3 206.8L243.3 207.7L243.3 208.6L243.3 209.4L243.3 210.3L243.4 211.2L243.4 212L243.4 212.9L243.4 213.7L243.4 214.5L243.4 215.3L243.4 216L243.4 216.8L243.4 217.5L243.4 218.3L243.4 219L243.4 219.6L243.5 220.3L243.5 221L243.5 221.6L243.5 222.2L243.5 222.8L243.5 223.3L243.5 223.8L243.5 224.3L243.5 224.8L243.5 225.3L243.5 225.7L243.5 226.1L243.6 226.5L243.6 226.9L243.6 227.2L243.6 227.5L243.6 227.8L243.6 228L243.6 228.4L243.6 228.8L243.7 229L243.7 229.1L243.7 229L243.7 228.9L243.7 228.7L243.8 228.4L243.8 227.9L243.8 227.4L243.8 226.8L243.8 226.2L243.9 225.4L243.9 224.6L243.9 223.7L243.9 222.8L243.9 221.8L244 220.8L244 219.7L244 218.6L244 217.4L244 216.2L244 215L244.1 213.8L244.1 212.5L244.1 211.3L244.1 210L244.1 208.7L244.2 207.5L244.2 206.2L244.2 205L244.2 203.7L244.2 202.5L244.2 201.3L244.3 200.2L244.3 199.1L244.3 198L244.3 197.3L244.3 196.7L244.3 196L244.3 195.3L244.4 194.6L244.4 193.9L244.4 193.2L244.4 192.5L244.4 191.8L244.4 191.1L244.4 190.3L244.4 189.6L244.4 188.8L244.4 188.1L244.5 187.3L244.5 186.5L244.5 185.8L244.5 185L244.5 184.2L244.5 183.4L244.5 182.6L244.5 181.8L244.5 181L244.6 180.2L244.6 179.4L244.6 178.6L244.6 177.7L244.6 176.9L244.6 176.1L244.6 175.2L244.6 174.4L244.6 173.6L244.6 172.7L244.7 171.9L244.7 171.1L244.7 170.2L244.7 169.4L244.7 168.5L244.7 167.7L244.7 166.8L244.7 166L244.7 165.1L244.7 164.3L244.7 163.4L244.8 162.6L244.8 161.7L244.8 160.9L244.8 160L244.8 159.2L244.8 158.3L244.8 157.5L244.8 156.6L244.8 155.8L244.8 155L244.9 154.1L244.9 153.3L244.9 152.5L244.9 151.6L244.9 150.8L244.9 150L244.9 149.2L244.9 148.4L244.9 147.6L244.9 146.7L244.9 145.9L244.9 145L245 144.1L245 143.2L245 142.3L245 141.4L245 140.5L245 139.6L245 138.7L245 137.7L245 136.8L245 135.8L245 134.9L245 133.9L245 133L245 132L245 131.1L245 130.1L245 129.1L245.1 128.2L245.1 127.2L245.1 126.3L245.1 125.3L245.1 124.4L245.1 123.4L245.1 122.5L245.1 121.6L245.1 120.6L245.1 119.7L245.1 118.8L245.1 117.9L245.1 117L245.1 116.2L245.1 115.3L245.1 114.5L245.1 113.6L245.2 112.8L245.2 112L245.2 111.2L245.2 110.4L245.2 109.6L245.2 108.9L245.2 108.2L245.2 107.5L245.2 106.8L245.2 106.1L245.2 105.5L245.3 104.9L245.3 104.3L245.3 103.7L245.3 103.1L245.3 102.6L245.3 102.1L245.3 101.6L245.4 101.2L245.4 100.8L245.4 100.4L245.4 100L245.5 98.2L245.6 97.8L245.8 98.5L245.9 100L246.1 102L246.3 104L246.6 105.8L247 107L247.4 107.7L247.8 108.4L248.3 109L248.8 109.7L249.4 110.3L250 110.9L250.6 111.3L251.3 111.9L252 112.4L252.7 112.9L253.4 113.1L254.2 113.8L255 114L255.8 114.1L256.7 114.6L257.5 115L258.4 115.5L259.2 115.8L260 115.9L260.8 116.4L261.6 116.8L262.5 117.6L263.3 117.5L264.2 118.1L265 118.6L265.7 118.5L266.4 118.9L267 118.9L267.5 118.7L268 118.4L268.3 117.6L268.4 116.6L268.5 115.1L268.6 114L268.6 113.4L268.7 112L268.8 112L268.9 112.4L268.9 112.9L268.9 113.8L268.9 114.7L268.9 116L269 117.2L269.1 117.9L269.5 118.9L270 119.4L270.5 119.6L271.2 119.9L271.9 119.8L272.7 120.2L273.5 120.4L274.4 120.4L275.4 120.3L276.3 119.8L277.3 120.2L278.2 119.6L279.1 119.7L280 120L280.8 119.3L281.7 119.6L282.5 119.4L283.3 119.3L284.2 119L285 119.2L285.8 118.9L286.7 119L287.5 118.8L288.3 118.1L289.2 118L290 117.7L290.7 117.3L291.5 116.9L292.2 116.7L293 116.2L293.8 115.5L294.5 115.2L295.3 114.9L296.1 114L296.8 113.6L297.5 113.6L298.2 113.1L298.8 112.1L299.4 111.7L300 111.8L301 110.9L301.8 110.7L302.5 110.3L303.1 110.2L303.7 109.3L304.3 109L305 108.8L305.6 108.8L306.3 108.1L306.9 107.3L307.6 107.2L308.2 106.7L308.8 106L309.4 105.5L310 105.1L310.6 104.6L311.2 103.8L311.8 103.2L312.4 102.4L313 101.7L313.5 101L314 100.7L314.9 99.8L315.6 99.2L316.4 98.9L317.1 98.6L317.9 98.7L318.7 98.5L319.5 99.7L319.9 100L320.3 100.5L320.7 101.2L321.2 102.4L321.6 103.2L322 103.8L322.3 104.4L322.6 105.3L322.9 105.8L323.2 107L323.6 107.2L323.9 108L324.2 109.3L324.5 110.6L324.6 111.3L324.8 112.1L324.9 113.1L325.1 113.4L325.3 114.2L325.4 114.9L325.6 116.2L325.7 117.2L325.9 117.9L326 119.1L326.2 119.8L326.3 121L326.4 121.6L326.6 122.1L326.7 123L326.9 123.5L327 124.2L327.2 125.7L327.5 126.9L327.7 128.1L327.9 128.5L328.1 129.3L328.4 129.9L328.6 131L328.8 131.5L329 131.9L329.2 133.3L329.2 134.1L329.7 134.1L331 135.1L331.5 134.7L332.2 134.8L332.9 136.3L333.7 136.2L334.5 136.5L335.4 134.4L336.4 134.8L337.3 135.9L338.3 134.4L339.3 134.7L340.2 133.9L341.2 136.4L342.1 135.9L342.9 135.4L343.7 135.2L344.4 134.7L345 134.6L346.3 135.1L347.3 133.9L347.9 134.9L348.5 133.3L349.2 132.6L350 133.5L350.6 132.1L351.3 132.2L352.1 131L352.8 129.2L353.6 130.6L354.4 128.7L355.1 129.8L355.8 127.5L356.5 126.8L357 127.9L358.1 127.6L358.9 127.4L359.5 126.1L360 126.1L360.1 123.9L360.2 123.9L360.3 122.9L360.4 122.3L360.4 122.3L360.5 120.2L360.6 120L360.6 119L360.7 116.2L360.7 115.5L360.8 114.9L360.8 113.8L360.9 113.4L360.9 110.9L360.9 112L361 111.3L361 110.1L361.1 108.8L361.1 109.4L361.2 108.9L361.3 109.8L361.3 109.6L361.4 110.6L361.4 110.4L361.5 112.5L361.5 110.7L361.5 112.6L361.6 114.7L361.6 114.4L361.7 117L361.7 116.8L361.8 118.8L361.8 119.2L361.9 120.6L362 121.9L362 122.7L362.1 123.4L362.2 124L362.3 124.5L363.1 125.8L364.2 125.3L365 123.6L365.1 123L365.2 122.3L365.3 121.4L365.4 120.4L365.5 119.3L365.5 118.2L365.6 117L365.7 115.9L365.7 114.9L365.8 114L365.8 113.2L365.9 112.6L365.9 112.2L366 112L366.1 112.1L366.1 112.3L366.2 112.7L366.3 113.2L366.4 113.8L366.5 114.6L366.5 115.4L366.6 116.4L366.7 117.4L366.8 118.5L366.8 119.7L366.9 120.9L366.9 122.2L367 123.6L367 124.1L367 124.6L367.1 125.1L367.1 125.6L367.1 126L367.1 126.5L367.1 126.9L367.1 127.3L367.1 127.7L367.1 128.1L367.2 128.5L367.2 129L367.2 129.4L367.2 129.9L367.2 130.4L367.2 131L367.2 131.5L367.2 132.2L367.2 132.8L367.2 133.6L367.2 134.3L367.3 135.2L367.3 136.1L367.3 137.1L367.3 138.1L367.3 139.3L367.3 140.5L367.3 141.8L367.3 143.3L367.3 144.8L367.4 146.4L367.4 148.1L367.4 150L367.4 150.5L367.4 151L367.4 151.6L367.4 152.2L367.4 152.7L367.4 153.3L367.4 153.9L367.4 154.6L367.4 155.2L367.5 155.9L367.5 156.5L367.5 157.2L367.5 157.9L367.5 158.6L367.5 159.4L367.5 160.1L367.5 160.9L367.5 161.6L367.5 162.4L367.5 163.2L367.5 164L367.5 164.8L367.5 165.6L367.5 166.5L367.5 167.3L367.6 168.1L367.6 169L367.6 169.9L367.6 170.8L367.6 171.6L367.6 172.5L367.6 173.4L367.6 174.3L367.6 175.3L367.6 176.2L367.6 177.1L367.6 178.1L367.6 179L367.6 180L367.6 180.9L367.7 181.9L367.7 182.8L367.7 183.8L367.7 184.8L367.7 185.8L367.7 186.7L367.7 187.7L367.7 188.7L367.7 189.7L367.7 190.7L367.7 191.7L367.7 192.7L367.7 193.7L367.7 194.7L367.8 195.7L367.8 196.7L367.8 197.7L367.8 198.7L367.8 199.7L367.8 200.7L367.8 201.7L367.8 202.7L367.8 203.7L367.8 204.7L367.8 205.7L367.8 206.7L367.8 207.7L367.9 208.7L367.9 209.7L367.9 210.6L367.9 211.6L367.9 212.6L367.9 213.6L367.9 214.5L367.9 215.5L367.9 216.4L367.9 217.4L367.9 218.3L367.9 219.2L367.9 220.2L368 221.1L368 222L368 222.9L368 223.8L368 224.7L368 225.6L368 226.4L368 227.3L368 228.2L368 229L368 229.8L368 230.7L368.1 231.5L368.1 232.3L368.1 233.1L368.1 233.8L368.1 234.6L368.1 235.4L368.1 236.1L368.1 236.8L368.1 237.5L368.1 238.2L368.1 238.9L368.1 239.6L368.1 240.3L368.2 240.9L368.2 241.5L368.2 242.2L368.2 242.8L368.2 243.3L368.2 243.9L368.2 244.5L368.2 245L368.2 245.5L368.2 246L368.2 246.5L368.2 247L368.2 247.4L368.3 247.8L368.3 248.2L368.3 248.6L368.3 249L368.3 249.4L368.3 249.7L368.3 250L368.3 251.1L368.4 251.9L368.4 252.5L368.4 252.9L368.5 253.1L368.5 253L368.5 252.8L368.5 252.4L368.6 251.9L368.6 251.2L368.6 250.4L368.7 249.4L368.7 248.4L368.7 247.2L368.8 246L368.8 244.6L368.8 243.3L368.9 241.9L368.9 240.4L368.9 238.9L369 237.5L369 236L369 234.5L369.1 233.1L369.1 231.7L369.1 230.4L369.2 229.1L369.2 227.9L369.2 226.9L369.3 225.9L369.3 225L369.3 224.2L369.4 223.4L369.4 222.7L369.4 221.9L369.5 221.2L369.5 220.5L369.6 219.7L369.6 219L369.6 218.3L369.7 217.6L369.7 216.9L369.7 216.2L369.8 215.5L369.8 214.8L369.9 214.1L369.9 213.4L369.9 212.6L370 211.9L370 211.1L370.1 210.3L370.1 209.5L370.1 208.7L370.2 207.9L370.2 207L370.3 206.1L370.3 205.2L370.3 204.2L370.4 203.2L370.4 202.2L370.5 201.1L370.5 200L370.5 199.4L370.5 198.7L370.6 198L370.6 197.4L370.6 196.7L370.6 195.9L370.7 195.2L370.7 194.5L370.7 193.7L370.7 192.9L370.8 192.2L370.8 191.4L370.8 190.5L370.8 189.7L370.8 188.9L370.9 188.1L370.9 187.2L370.9 186.4L370.9 185.5L371 184.7L371 183.8L371 182.9L371 182L371.1 181.2L371.1 180.3L371.1 179.4L371.1 178.5L371.2 177.6L371.2 176.7L371.2 175.8L371.2 175L371.2 174.1L371.3 173.2L371.3 172.3L371.3 171.4L371.3 170.6L371.4 169.7L371.4 168.8L371.4 168L371.4 167.1L371.5 166.3L371.5 165.5L371.5 164.6L371.5 163.8L371.5 163L371.6 162.2L371.6 161.4L371.6 160.7L371.6 159.9L371.7 159.2L371.7 158.4L371.7 157.7L371.7 157L371.8 156.3L371.8 155.7L371.8 155L371.8 153.9L371.9 152.8L371.9 151.8L371.9 150.8L372 149.7L372 148.7L372.1 147.7L372.1 146.8L372.1 145.8L372.2 144.9L372.2 143.9L372.2 143L372.3 142.1L372.3 141.2L372.3 140.4L372.4 139.5L372.4 138.7L372.4 137.9L372.5 137.1L372.5 136.3L372.5 135.6L372.6 134.9L372.6 134.1L372.7 133.4L372.7 132.8L372.7 132.1L372.8 131.4L372.8 130.8L372.8 130.2L372.9 129.6L372.9 129.1L373 128.5L373 128L373.2 126.2L373.3 124.9L373.5 124L373.7 123.3L373.8 122.8L374 122.4L374.3 121.8L374.5 121L374.7 120.3L374.9 119.7L375.1 119.1L375.3 118.5L375.6 117.9L375.8 117.2L376.1 116.4L376.4 115.4L376.8 114.3L377.2 112.9L377.4 112.4L377.6 111.8L377.8 111.1L378 110.4L378.2 109.6L378.4 108.8L378.6 108L378.9 107.1L379.1 106.3L379.4 105.4L379.6 104.5L379.9 103.6L380.2 102.6L380.4 101.7L380.7 100.8L380.9 99.9L381.2 99L381.4 98.1L381.7 97.3L381.9 96.5L382.2 95.7L382.4 94.9L382.6 94.2L382.8 93.5L383 92.9L383.2 92.3L383.4 91.8L384 90.3L384.5 89.4L384.9 88.9L385.3 88.6L385.7 88.2L386 87.7L386.4 86.7L386.6 86L386.7 85.3L386.9 84.4L387.1 83.4L387.3 82.4L387.4 81.4L387.6 80.3L387.8 79.3L387.9 78.2L388.1 77.3L388.2 76.4L388.4 75.6L388.5 74.9L388.7 74.4L388.8 74L388.9 73.8L389 73.8L389.1 73.8L389.2 73.8L389.3 74L389.4 74.3L389.5 74.7L389.5 75.4L389.6 76.2L389.7 77.3L389.7 78.7L389.8 80.4L389.8 82.4L389.9 84.7L389.9 85.2L389.9 85.8L389.9 86.4L390 87L390 87.7L390 88.4L390 89.2L390 89.9L390 90.8L390 91.6L390 92.5L390 93.4L390.1 94.3L390.1 95.3L390.1 96.3L390.1 97.3L390.1 98.3L390.1 99.4L390.1 100.4L390.1 101.5L390.2 102.6L390.2 103.7L390.2 104.8L390.2 106L390.2 107.1L390.2 108.3L390.2 109.4L390.2 110.6L390.2 111.7L390.3 112.9L390.3 114L390.3 115.2L390.3 116.3L390.3 117.4L390.3 118.6L390.3 119.7L390.3 120.8L390.3 121.9L390.4 122.9L390.4 124L390.4 125L390.4 126L390.4 127L390.4 128L390.4 129L390.4 129.9L390.4 130.8L390.5 131.6L390.5 132.5L390.5 133.3L390.5 134L390.5 134.8L390.5 135.5L390.5 136.1L390.5 136.7L390.5 137.3L390.6 137.8L390.6 138.3L390.6 138.7L390.6 139.1L390.6 139.4L390.6 139.7L390.6 139.9L390.6 140.1L390.7 140.2L390.7 140.2L390.7 140.2L390.7 140.1L390.7 140L390.7 139.9L390.7 139.7L390.7 139.5L390.7 139.2L390.7 139L390.8 138.6L390.8 138.3L390.8 137.9L390.8 137.5L390.8 137.1L390.8 136.6L390.8 136.1L390.8 135.6L390.8 135.1L390.8 134.5L390.8 133.9L390.8 133.2L390.8 132.6L390.8 131.9L390.9 131.2L390.9 130.5L390.9 129.7L390.9 129L390.9 128.2L390.9 127.4L390.9 126.6L390.9 125.7L390.9 124.9L390.9 124L390.9 123.1L390.9 122.2L390.9 121.2L390.9 120.3L391 119.3L391 118.4L391 117.4L391 116.4L391 115.4L391 114.4L391 113.4L391 112.3L391 111.3L391 110.2L391 109.2L391 108.1L391 107.1L391 106L391.1 104.9L391.1 103.8L391.1 102.7L391.1 101.7L391.1 100.6L391.1 99.5L391.1 98.4L391.1 97.3L391.1 96.2L391.1 95.2L391.1 94.1L391.1 93L391.2 91.9L391.2 90.9L391.2 89.8L391.2 88.7L391.2 87.7L391.2 86.7L391.2 85.6L391.2 84.6L391.2 83.6L391.2 82.6L391.2 81.6L391.3 80.6L391.3 79.6L391.3 78.7L391.3 77.7L391.3 76.8L391.3 75.9L391.3 75L391.3 74.1L391.3 73.3L391.4 72.4L391.4 71.6L391.4 70.8L391.4 70L391.4 69.2L391.4 68.5L391.4 67.8L391.4 67.1L391.5 66.4L391.5 65.7L391.5 65.1L391.5 64.5L391.5 63.9L391.5 63.4L391.5 62.8L391.6 62.3L391.6 61.9L391.6 61.4L391.6 61L392.2 56L392.9 59.9L393.8 63.2L394.4 62.8L395.1 61.9L395.8 60.9L396.5 60.1L397.1 59.7L397.6 60.1L398 61L398.5 62L398.9 63L399.4 63.7L399.9 63.7L400.2 63.4L400.6 62.9L401 62.2L401.3 61.3L401.7 60.4L402.1 59.4L402.5 58.5L402.9 57.6L403.3 56.9L403.6 56.3L403.9 55.9L404.6 55.5L405.1 55.7L405.5 56.6L406 58.5L406.1 59L406.2 59.5L406.3 60.2L406.4 60.8L406.5 61.5L406.6 62.3L406.6 63.1L406.7 63.9L406.8 64.8L406.9 65.7L407 66.6L407.1 67.5L407.2 68.5L407.3 69.4L407.4 70.4L407.4 71.3L407.5 72.3L407.6 73.2L407.7 74.2L407.8 75.1L407.9 75.9L407.9 76.7L408 77.5L408.1 78.4L408.2 79.2L408.2 80.1L408.3 81L408.4 81.9L408.5 82.9L408.5 83.8L408.6 84.7L408.7 85.6L408.7 86.6L408.8 87.5L408.9 88.4L409 89.2L409.1 90.1L409.1 90.9L409.2 91.7L409.3 92.5L409.4 93.2L409.4 93.9L409.5 94.5L409.6 95.1L409.7 95.6L410 97.2L410.4 98.3L410.8 99L411.1 99.5L411.5 99.9L411.8 100.3L412.1 100.8L412.4 101.5L412.7 101.9L412.9 102.6L413.3 104L413.5 104.5L413.6 105.2L413.8 106L414.1 106.8L414.3 107.7L414.5 108.6L414.8 109.5L415 110.5L415.2 111.5L415.5 112.4L415.7 113.3L415.9 114.1L416.1 114.9L416.3 115.6L416.4 116.2L416.7 117.5L416.8 118.2L416.9 118.8L417.1 120L417.2 120.6L417.4 121.2L417.5 121.9L417.7 122.7L417.9 123.5L418.1 124.4L418.3 125.2L418.5 126.1L418.7 127L418.9 127.8L419.1 128.7L419.3 129.5L419.5 130.3L419.7 131.1L419.9 132L420.1 132.7L420.3 133.4L420.5 135.5L420.7 135.2L420.9 135.5L421.1 137.3L421.3 138L421.6 139L421.8 140.1L422 139.6L422.2 141.4L422.4 142.2L422.7 142.5L422.9 143.4L423.1 142.6L423.4 144.6L423.6 146.6L423.8 145.6L424.1 147.1L424.3 148.3L424.5 149.2L424.8 150.5L425 149.6L425.3 151.3L425.5 152.6L425.8 152.3L426.1 153.8L426.4 155.6L426.6 156.1L426.9 156.5L427.2 155.7L427.5 157.7L427.7 158.7L428 159.1L428.3 160.1L428.7 162.6L429 161.8L429.3 162.2L429.7 163.6L430 164.1L430.3 164.9L430.7 165.7L431 166.9L431.4 167.5L431.9 167.7L432.3 169L432.7 170.1L433.1 170.4L433.6 171.9L434 172.4L434.6 172.4L435.2 173.9L435.8 175.5L436.4 176L437 175.7L437.8 176.8L438.5 176.4L439.2 176.3L440 177.6L441 177.6L442 177.7L443 177.3L443.8 177.2L444.5 176.3L445.2 176.3L446 176L446.8 175.1L447.5 175.1L448.2 173.4L449 173.5" stroke="#2f8f2f"/>
<path d="M449 173.5L450.5 178.5L451 179.6L451.5 174.3L452 173.1L452.5 169L453 174.7L453.5 176.2L454 168.3L454.5 175.4" stroke="#2f8f2f"/>
<path d="M44 151.8L44.8 151.8L45.6 151L46.4 152L47.2 150.9L48 152.7L48.8 152L49.6 151.3L50.4 152.9L51.2 152.8L52 151.8L52.8 153.6L53.6 151.7L54.4 152.6L55.2 153.2L56 151.2L56.8 153.2L57.6 152.7L58.4 152.8L59.2 152.2L60 153.1L60.8 152.3L61.6 152.5L62.4 152.8L63.2 152.4L64 154.2L64.8 152.5L65.6 152.9L66.4 153.3L67.2 153.5L68 154.1L68.8 154.2L69.6 153.6L70.4 153.6L71.2 153.9L72 154.4L72.8 154.3L73.6 153.5L74.4 152.5L75.2 155.2L76 154.9L76.5 154.9L77 155.3L77.5 155.3L78 155.6L78.5 156.8L79 157.7L79.5 158.6L80 159.3L80.2 161L80.4 161.3L80.6 162.1L80.8 162.3L81 163.6L81.2 164.4L81.4 164.9L81.6 165.7L81.8 167.1L82 167.7L82.2 168.9L82.4 169.6L82.5 170.8L82.7 171.4L82.9 172L83.1 173.3L83.3 174.1L83.5 175.1L83.7 175.7L83.8 176.4L84 177.5L84.2 178.5L84.4 179.3L84.6 180.3L84.8 181.1L85 182L85.2 182.9L85.4 183.7L85.6 184.4L85.8 185.3L86 186.6L86.2 186.8L86.3 187.4L86.5 188.1L86.7 188.8L86.8 189.5L87 189.7L87.5 191L87.9 192.8L88.2 193.3L88.6 194.1L89 193.9L89.2 193.9L89.4 193.6L89.5 192.7L89.7 191.8L89.9 190.9L90 190.2L90.2 189.4L90.4 187.9L90.6 187.3L90.8 186.2L91 185.2L91.1 184.3L91.2 183.8L91.4 182.8L91.5 182.2L91.6 181.1L91.8 180.7L91.9 180.3L92 179.1L92.2 178.3L92.3 177.1L92.5 176.8L92.6 175.4L92.8 174.9L92.9 173.9L93 172.7L93.2 172.4L93.3 171.3L93.5 170.6L93.6 169.9L93.7 169L93.9 168.2L94 167.8L94.2 166.5L94.4 165.5L94.6 164.4L94.8 163.2L95 162.5L95.2 161.6L95.4 160.9L95.6 160.4L95.8 158.9L96 158.6L96.1 157.4L96.3 157L96.5 156.6L97 154.6L97.6 153.6L98.1 153.5L98.6 153.5L98.9 153.8L99.2 154.1L99.5 155.5L99.8 155.8L100.1 156.6L100.4 158.1L100.7 159L101 159.9L101.2 160.8L101.3 161.2L101.5 161.9L101.6 162.4L101.8 162.8L101.9 163.8L102.1 164.3L102.2 164.8L102.4 165.6L102.6 166.8L102.7 167.4L102.9 168.5L103.1 169.7L103.3 170.7L103.5 171.7L103.6 172.7L103.7 173.4L103.8 174L103.9 174.8L104 175.2L104.1 175.9L104.1 176.8L104.2 177.1L104.3 178.2L104.4 179L104.5 179.5L104.6 180.5L104.7 181.1L104.8 181.5L104.9 182.7L105 183.3L105.2 184.2L105.3 185L105.4 186L105.5 186.7L105.6 187.3L105.7 188.4L105.8 189.3L105.9 189.9L106 190.9L106.1 191.8L106.3 192.6L106.4 193.7L106.5 194.7L106.6 195.8L106.7 196.6L106.8 197.5L107 198.4L107.1 199.4L107.2 199.9L107.3 200.9L107.4 201.5L107.5 202.2L107.6 202.9L107.7 203.6L107.8 204.4L107.9 205L108 206.2L108.1 206.9L108.2 207.7L108.3 208.6L108.4 209.5L108.6 210.1L108.7 211L108.8 211.6L108.9 212.3L109 213.2L109.1 214.8L109.2 215L109.4 216.3L109.5 217.4L109.6 217.8L109.7 219.1L109.8 220L109.9 220.7L110 221.8L110.2 222.3L110.3 222.9L110.4 224L110.5 224.6L110.6 225.3L110.7 226.1L110.8 227.6L110.9 227.8L111 228.7L111.1 229.4L111.2 230.3L111.3 231L111.4 231.7L111.5 232.3L111.6 232.9L111.7 233.8L111.8 234.7L111.9 235.7L112 236.1L112.1 237.3L112.3 238.1L112.4 238.9L112.5 239.6L112.6 240.8L112.7 241.3L112.8 242.5L112.9 243.7L113 244.3L113.1 245.2L113.2 245.7L113.3 246.3L113.4 247.2L113.5 248L113.6 249L113.7 249.9L113.8 250.1L113.9 250.9L114 251.6L114.1 252.3L114.2 252.8L114.3 253.8L114.4 254.6L114.6 255.3L114.7 255.7L114.9 256.6L115 257.1L115.2 258.4L115.4 258.9L115.6 259.9L115.8 260.8L116 261.6L116.2 262.4L116.4 263.1L116.7 264.6L116.9 265.2L117.1 266.1L117.4 267.3L117.6 267.7L117.8 268.6L118.1 269.4L118.3 270.4L118.6 271L118.8 271.8L119 272.4L119.3 273.3L119.5 274.2L119.7 274.2L119.9 275.3L120.1 275.9L120.3 276.5L120.6 277.3L121 278.9L121.3 279.5L121.6 280.5L121.8 281.3L122.1 281.9L122.4 282.8L122.7 283.3L122.9 284.2L123.2 285L123.5 285.7L123.7 286.4L124 287L124.4 288.4L124.8 289L125.2 289.6L125.6 290.7L126 291.5L126.4 292.4L126.8 292.9L127.2 293.4L127.5 294.3L128.4 294.6L129.2 294.2L130 293L130.2 292.5L130.4 292.2L130.6 291.4L130.8 290.8L131 289.2L131.2 289L131.4 288.3L131.6 287.5L131.8 286.1L132 284.8L132.3 284.2L132.5 282.9L132.6 282L132.8 281.5L133 281.2L133.1 280.5L133.3 279.6L133.4 278.5L133.6 278.5L133.8 277L134 276.4L134.1 275.3L134.3 275L134.5 274L134.7 273.3L134.8 272.2L135 271.4L135.2 270.5L135.4 269.3L135.5 269L135.7 268.1L135.9 266.9L136 266.3L136.2 265.6L136.3 265.1L136.5 264.2L136.6 263.4L136.8 262.6L137 261.7L137.1 261.1L137.3 260.5L137.4 259.7L137.6 259L137.7 258.4L137.9 257.6L138 256.8L138.2 256.1L138.3 255.2L138.5 254.3L138.6 253.5L138.8 252.2L138.9 251.9L139.1 250.5L139.2 250L139.4 248.8L139.5 248L139.6 247.1L139.7 246.2L139.8 245.9L139.9 245L139.9 244.2L140 243.5L140.1 242.8L140.2 242L140.3 241.1L140.4 239.9L140.5 239.3L140.6 238.5L140.7 238L140.8 236.8L140.8 235.9L140.9 235.2L141 234.1L141.1 233.2L141.2 232.4L141.3 231.2L141.4 230.8L141.4 229.8L141.5 228.8L141.6 227.7L141.7 227.1L141.8 226.5L141.8 225.3L141.9 224.4L142 223.9L142.1 222.7L142.1 221.8L142.2 221.3L142.3 220.5L142.3 219.9L142.4 219.1L142.4 218.6L142.5 217.9L142.6 216.7L142.7 215.8L142.8 215.1L142.8 214.3L142.9 213.4L142.9 212.6L143 211L143 210.7L143.1 210.2L143.1 209.6L143.2 208.5L143.2 208.4L143.3 207.5L143.3 206.6L143.3 206.1L143.4 205.2L143.4 204.4L143.5 203.8L143.5 202.8L143.6 201.7L143.6 200.9L143.7 200L143.7 199.1L143.8 198.9L143.8 197.8L143.9 197.7L143.9 196.8L144 195.7L144 195.2L144.1 194.7L144.1 193.7L144.2 192.8L144.2 192.3L144.3 191.9L144.3 190.4L144.4 190.1L144.4 189.2L144.5 188.4L144.5 187.5L144.6 186.7L144.6 186.2L144.7 185.3L144.7 184.1L144.8 183.8L144.8 182.4L144.9 182L145 181L145 180.3L145.1 179.3L145.1 178.6L145.2 177.5L145.2 176.8L145.3 175.7L145.3 175.2L145.4 173.7L145.4 173.2L145.5 172.1L145.5 171.3L145.6 170.5L145.6 169.9L145.7 168.8L145.7 168L145.8 167.7L145.8 166.4L145.8 166.3L145.9 165.1L145.9 164.4L146 163.5L146 162.8L146.1 161.8L146.1 161L146.1 160.2L146.2 159.5L146.2 158.7L146.3 157.9L146.3 156.8L146.4 155.9L146.4 154.7L146.4 154.3L146.5 153.5L146.5 152.4L146.6 151.8L146.6 151L146.7 149.9L146.7 149.3L146.8 148.3L146.8 147L146.8 146.4L146.9 145.6L146.9 145L147 143.9L147 143.1L147.1 142.2L147.1 141.6L147.1 140.9L147.2 140.3L147.2 139.5L147.3 138.6L147.3 137.9L147.4 137.1L147.4 136.4L147.5 136L147.5 134.5L147.6 134L147.6 133.1L147.7 132.3L147.8 130.9L147.8 130.3L147.9 129.5L148 128.4L148 127.2L148.1 126.7L148.1 125.6L148.2 125.2L148.3 124.1L148.3 123.8L148.4 122.7L148.5 121.7L148.5 121L148.6 120.1L148.7 119.6L148.7 119.1L148.8 118L148.9 117.5L148.9 116.4L149 115.9L149 115.5L149.1 114.1L149.2 113.9L149.2 113.1L149.3 111.8L149.4 111.2L149.4 110.5L149.5 110.2L149.6 109L149.7 108.2L149.7 107.5L149.8 106.5L149.9 105.7L150 104.7L150 104.2L150.1 103L150.2 102.6L150.3 101.4L150.4 100.5L150.4 100L150.5 99.1L150.6 97.9L150.7 97.5L150.7 96.4L150.8 95.8L150.9 95.3L151 94.3L151.1 93.7L151.2 92.9L151.2 92.6L151.3 91.4L151.4 90.5L151.5 89.8L151.6 88.9L151.7 88.2L151.8 87.3L152 86.6L152.1 85.6L152.2 84.7L152.3 83.9L152.5 82.9L152.6 82.2L152.7 81.5L152.8 80.6L153 79.6L153.1 78.5L153.2 78L153.4 77.4L153.5 76.2L153.6 75.9L153.7 75.4L153.9 74.5L154 73.8L154.2 73.3L154.5 72.2L154.7 70.9L154.9 70.4L155.2 69.5L155.4 68.3L155.6 68.4L155.9 67L156.1 66.5L156.3 65.8L156.5 65.5L157.1 63.9L157.7 63.4L158.3 63.5L158.9 63.6L159.5 64.1L160.2 65.3L161 65.8L161.4 66.7L161.8 67.1L162.2 67.9L162.6 68.6L163.1 69.4L163.5 70.2L164 70.8L164.5 71.6L165 72.5L165.5 73.1L166 73.6L166.5 74.3L167 75L167.5 75.8L168.1 76.5L168.7 77.1L169.3 77.5L170 78.2L170.6 78.4L171.3 78.4L172 79.3L172.8 79.3L173.5 79.7L174.3 79.9L175.1 80.6L175.9 80.6L176.8 81.3L177.6 81.6L178.2 81.9L178.8 82.2L179.3 83.1L179.8 83.5L180.4 84.1L181 84.8L181.5 85.1L182.1 85.6L182.8 86.1L183.5 86.7L184.2 87.2L185 87.6L185.9 88.8L186.8 88.6L187.4 89.4L188 89.8L188.6 90.1L189.2 90.2L189.9 90.7L190.6 91L191.3 91.3L192 91.9L192.7 92.2L193.5 92.5L194.2 93.2L195 93.2L195.8 93.9L196.5 94.1L197.3 94.6L198.1 95L198.9 95.4L199.7 95.5L200.5 95.9L201.3 96.3L202.1 96.8L202.8 97.3L203.6 97.7L204.4 97.8L205.1 98.2L205.9 98.2L206.7 98.5L207.5 99.1L208.3 99.5L209.2 99.6L210 100L210.9 100.8L211.8 100.9L212.6 101L213.5 102.2L214.3 102.1L215.2 102.3L216 102.8L216.8 102.9L217.7 103.6L218.4 103.3L219.2 103.7L219.9 104.2L220.6 104.3L221.3 105L221.9 104.6L222.5 105L223 105.4L223.5 105.7L225.3 106.5L226.3 106.6L226.8 107.1L227.1 106.7L227.5 107.1L228.2 108.2L228.6 109L229 109.5L229.3 108.9L229.6 107.8L230.5 107.4L231 107.7L231.7 107.8L232.5 108.6L233.3 108.7L234.2 110L235.1 110.4L236 110.9L236.8 111.1L237.4 111.5L238 112.1L239.4 113.4L240 113L240.1 112.4L240.2 111.6L240.3 110.7L240.4 109.6L240.5 108.4L240.6 107.2L240.6 106L240.7 104.9L240.8 103.8L240.9 103L240.9 102.3L241 101.9L241.1 101.8L241.2 101.9L241.2 102.1L241.3 102.3L241.4 102.6L241.5 103L241.5 103.5L241.6 104.1L241.7 104.8L241.8 105.7L241.8 106.6L241.9 107.6L242 108.8L242 110.1L242.1 111.6L242.1 113.2L242.2 114.9L242.2 115.4L242.2 116L242.2 116.5L242.3 117.1L242.3 117.6L242.3 118.2L242.3 118.8L242.3 119.4L242.3 120L242.3 120.7L242.3 121.3L242.4 121.9L242.4 122.6L242.4 123.3L242.4 123.9L242.4 124.6L242.4 125.3L242.4 126L242.4 126.8L242.4 127.5L242.5 128.2L242.5 129L242.5 129.7L242.5 130.5L242.5 131.3L242.5 132.1L242.5 132.9L242.5 133.7L242.5 134.5L242.5 135.3L242.5 136.2L242.6 137L242.6 137.9L242.6 138.7L242.6 139.6L242.6 140.5L242.6 141.4L242.6 142.3L242.6 143.2L242.6 144.1L242.6 145L242.6 146L242.7 146.9L242.7 147.9L242.7 148.8L242.7 149.8L242.7 150.8L242.7 151.8L242.7 152.8L242.7 153.8L242.7 154.8L242.8 155.8L242.8 156.9L242.8 157.9L242.8 158.9L242.8 160L242.8 160.7L242.8 161.3L242.8 162L242.8 162.8L242.8 163.5L242.8 164.2L242.9 165L242.9 165.8L242.9 166.6L242.9 167.4L242.9 168.2L242.9 169.1L242.9 169.9L242.9 170.8L242.9 171.7L242.9 172.5L242.9 173.4L242.9 174.4L243 175.3L243 176.2L243 177.1L243 178.1L243 179L243 180L243 181L243 181.9L243 182.9L243 183.9L243 184.9L243.1 185.9L243.1 186.9L243.1 187.9L243.1 188.9L243.1 189.9L243.1 190.9L243.1 191.9L243.1 192.9L243.1 193.9L243.1 194.9L243.1 196L243.2 197L243.2 198L243.2 199L243.2 200L243.2 200.9L243.2 201.9L243.2 202.9L243.2 203.9L243.2 204.9L243.2 205.8L243.2 206.8L243.3 207.8L243.3 208.7L243.3 209.6L243.3 210.6L243.3 211.5L243.3 212.4L243.3 213.3L243.3 214.2L243.3 215L243.3 215.9L243.3 216.7L243.4 217.6L243.4 218.4L243.4 219.2L243.4 220L243.4 220.8L243.4 221.5L243.4 222.3L243.4 223L243.4 223.7L243.4 224.4L243.4 225.1L243.5 225.8L243.5 226.4L243.5 227L243.5 227.6L243.5 228.2L243.5 228.7L243.5 229.3L243.5 229.8L243.5 230.3L243.5 230.7L243.5 231.2L243.5 231.6L243.6 232L243.6 232.3L243.6 232.7L243.6 233L243.6 233.2L243.6 233.5L243.6 234L243.6 234.4L243.7 234.7L243.7 234.8L243.7 234.9L243.7 234.8L243.7 234.6L243.8 234.3L243.8 233.9L243.8 233.5L243.8 232.9L243.8 232.3L243.9 231.6L243.9 230.8L243.9 229.9L243.9 229L243.9 228L244 227L244 225.9L244 224.8L244 223.6L244 222.4L244 221.2L244.1 219.9L244.1 218.6L244.1 217.4L244.1 216.1L244.1 214.8L244.2 213.4L244.2 212.1L244.2 210.8L244.2 209.6L244.2 208.3L244.2 207L244.3 205.8L244.3 204.6L244.3 203.5L244.3 202.9L244.3 202.2L244.3 201.6L244.3 200.9L244.3 200.2L244.4 199.5L244.4 198.8L244.4 198.1L244.4 197.4L244.4 196.6L244.4 195.9L244.4 195.2L244.4 194.4L244.4 193.6L244.4 192.9L244.5 192.1L244.5 191.3L244.5 190.5L244.5 189.7L244.5 188.9L244.5 188.1L244.5 187.3L244.5 186.5L244.5 185.6L244.5 184.8L244.5 184L244.6 183.1L244.6 182.3L244.6 181.4L244.6 180.6L244.6 179.7L244.6 178.9L244.6 178L244.6 177.1L244.6 176.3L244.6 175.4L244.6 174.5L244.7 173.7L244.7 172.8L244.7 171.9L244.7 171.1L244.7 170.2L244.7 169.3L244.7 168.4L244.7 167.6L244.7 166.7L244.7 165.8L244.7 165L244.8 164.1L244.8 163.2L244.8 162.4L244.8 161.5L244.8 160.7L244.8 159.8L244.8 159L244.8 158.1L244.8 157.3L244.8 156.5L244.8 155.6L244.8 154.8L244.9 154L244.9 153.2L244.9 152.4L244.9 151.6L244.9 150.8L244.9 150L244.9 149.2L244.9 148.3L244.9 147.4L244.9 146.6L244.9 145.7L244.9 144.8L245 143.9L245 143L245 142.1L245 141.1L245 140.2L245 139.3L245 138.3L245 137.4L245 136.5L245 135.5L245 134.6L245 133.6L245 132.7L245 131.7L245 130.8L245 129.8L245 128.9L245.1 127.9L245.1 127L245.1 126L245.1 125.1L245.1 124.2L245.1 123.2L245.1 122.3L245.1 121.4L245.1 120.5L245.1 119.6L245.1 118.7L245.1 117.8L245.1 117L245.1 116.1L245.1 115.3L245.1 114.4L245.1 113.6L245.2 112.8L245.2 112L245.2 111.2L245.2 110.5L245.2 109.7L245.2 109L245.2 108.3L245.2 107.6L245.2 106.9L245.2 106.2L245.2 105.6L245.3 105L245.3 104.4L245.3 103.8L245.3 103.2L245.3 102.7L245.3 102.2L245.3 101.7L245.4 101.2L245.4 100.8L245.4 100.4L245.4 100L245.6 97.4L245.8 97.7L246.1 99.8L246.4 102.4L247 104L247.5 104.5L248.1 105L248.7 105.5L249.5 106L250.3 106.4L251.1 107.2L252 107.3L252.7 107.9L253.4 107.9L254.2 108.4L255 109L255.8 109.2L256.7 109.6L257.5 110.1L258.4 110.3L259.2 110.9L260 110.5L260.8 111.5L261.6 111.9L262.5 112L263.3 112.5L264.2 113.4L265 113.4L265.7 113.8L266.4 114.2L267 114L267.5 113.9L267.8 113.2L268.1 112.7L268.3 112L268.4 110.8L268.5 109.1L268.5 108.5L268.6 107.3L268.6 106L268.6 105.6L268.7 104.3L268.7 104.5L268.8 103.9L268.9 104.5L268.9 104.6L268.9 105L268.9 106.1L268.9 107L268.9 108.1L268.9 109.3L268.9 110L269 111.4L269.1 112.4L269.3 113.1L269.6 113.7L270 114.2L270.5 114.9L271.2 115.2L271.9 115L272.7 115L273.5 115.5L274.4 114.9L275.4 115.1L276.3 114.8L277.3 114.5L278.2 114.8L279.1 114.6L280 114.9L280.8 115L281.7 114.5L282.5 114.7L283.3 114.7L284.2 114.3L285 114.2L285.8 114.6L286.7 114.1L287.5 114.1L288.3 114L289.2 113.9L290 113.7L290.8 113.8L291.7 113.7L292.6 113.2L293.5 112.8L294.4 112.9L295.3 112.4L296.2 112.3L297 112.5L297.9 112.5L298.6 111.9L299.3 111.3L300 111.5L301 110.5L301.8 110.4L302.5 110.4L303.1 109.9L303.7 109L304.3 108.5L305 108.5L305.6 107.8L306.3 107.1L306.9 106.8L307.6 106L308.2 105.1L308.8 105L309.4 104.1L310 103.5L310.6 102.7L311.2 102.2L311.8 101.3L312.4 100.8L313 99.9L313.5 99.5L314 98.6L314.9 97.7L315.6 96.7L316.4 96.3L317.1 96.3L317.9 96.8L318.7 96.4L319.5 97.2L319.9 98.1L320.3 98.8L320.7 99.4L321.2 100.4L321.6 101.1L322 102.4L322.2 103.2L322.5 104L322.8 104.3L323 105L323.2 105.8L323.5 106.7L323.8 107.4L324 108L324.2 109.1L324.5 110.3L324.7 110.6L324.8 111.2L325 112.4L325.1 113.2L325.3 114.2L325.5 115L325.6 115.7L325.8 116.7L325.9 117.5L326.1 118.4L326.3 119.4L326.4 120.3L326.6 121.4L326.7 121.7L326.9 122.7L327 123.3L327.3 124.8L327.5 125.6L327.8 126.4L328 127.5L328.3 128.1L328.5 128.6L328.8 129.7L329 130.1L329.2 131.5L329.4 132.1L331 132.6L331.5 131.7L332.2 133L332.9 132.6L333.7 133L334.5 132.6L335.4 132.1L336.4 131.9L337.3 133.1L338.3 133.5L339.3 132.4L340.2 132.9L341.2 133.6L342.1 132L342.9 132.3L343.7 131.7L344.4 133.2L345 132.6L346.3 131.9L347.3 130.8L347.9 131.5L348.5 132L349.2 130.7L350 130.1L350.6 130.5L351.3 128.8L352.1 129.3L352.8 129.2L353.6 127.7L354.4 127.2L355.1 127.5L355.8 126.8L356.5 126.3L357 126.3L358.1 125.9L358.9 125.1L359.5 125L360 124.5L360.1 124.4L360.2 123.9L360.3 121.5L360.4 121.9L360.5 120.6L360.6 119L360.6 118.3L360.7 117.4L360.7 116.9L360.8 113.9L360.9 114L360.9 112.6L361 111.7L361 112L361.1 111.2L361.1 109.6L361.2 110L361.3 110.4L361.3 109.6L361.4 111.8L361.4 111.8L361.5 112.9L361.5 114L361.6 116.1L361.7 116L361.7 116.8L361.8 119.5L361.8 119L361.9 120L362 120.4L362.1 122.2L362.2 122.9L362.3 123.4L363.1 124.5L364.2 124L365 122.6L365.1 122L365.3 121.2L365.4 120.2L365.5 119.2L365.5 118L365.6 116.9L365.7 115.8L365.7 114.8L365.8 113.9L365.9 113.2L365.9 112.7L366 112.6L366.1 112.6L366.2 112.9L366.3 113.2L366.4 113.8L366.4 114.4L366.5 115.2L366.6 116.1L366.7 117.2L366.8 118.4L366.9 119.7L366.9 121.1L367 122.6L367 123.1L367 123.6L367.1 124.1L367.1 124.5L367.1 124.9L367.1 125.3L367.1 125.7L367.1 126.1L367.1 126.5L367.1 126.9L367.2 127.3L367.2 127.7L367.2 128.2L367.2 128.6L367.2 129.1L367.2 129.6L367.2 130.2L367.2 130.8L367.2 131.4L367.2 132.1L367.2 132.9L367.2 133.7L367.3 134.6L367.3 135.5L367.3 136.6L367.3 137.7L367.3 138.9L367.3 140.1L367.3 141.5L367.3 143L367.3 144.6L367.4 146.3L367.4 148.1L367.4 150L367.4 150.5L367.4 151L367.4 151.6L367.4 152.1L367.4 152.7L367.4 153.3L367.4 153.9L367.4 154.5L367.4 155.2L367.5 155.8L367.5 156.5L367.5 157.1L367.5 157.8L367.5 158.5L367.5 159.2L367.5 160L367.5 160.7L367.5 161.4L367.5 162.2L367.5 163L367.5 163.7L367.5 164.5L367.5 165.3L367.5 166.2L367.5 167L367.5 167.8L367.5 168.7L367.6 169.5L367.6 170.4L367.6 171.2L367.6 172.1L367.6 173L367.6 173.9L367.6 174.8L367.6 175.7L367.6 176.6L367.6 177.5L367.6 178.5L367.6 179.4L367.6 180.3L367.6 181.3L367.6 182.2L367.6 183.2L367.7 184.1L367.7 185.1L367.7 186.1L367.7 187L367.7 188L367.7 189L367.7 190L367.7 191L367.7 192L367.7 193L367.7 194L367.7 195L367.7 196L367.7 197L367.7 198L367.8 199L367.8 200L367.8 201L367.8 202L367.8 203L367.8 204L367.8 205L367.8 206L367.8 207L367.8 208L367.8 209L367.8 210L367.8 211L367.8 212L367.9 212.9L367.9 213.9L367.9 214.9L367.9 215.9L367.9 216.9L367.9 217.8L367.9 218.8L367.9 219.8L367.9 220.7L367.9 221.7L367.9 222.6L367.9 223.5L367.9 224.5L367.9 225.4L368 226.3L368 227.2L368 228.1L368 229L368 229.9L368 230.8L368 231.7L368 232.6L368 233.4L368 234.3L368 235.1L368 235.9L368 236.8L368.1 237.6L368.1 238.4L368.1 239.2L368.1 240L368.1 240.7L368.1 241.5L368.1 242.2L368.1 243L368.1 243.7L368.1 244.4L368.1 245.1L368.1 245.8L368.1 246.5L368.1 247.1L368.2 247.8L368.2 248.4L368.2 249L368.2 249.6L368.2 250.2L368.2 250.8L368.2 251.3L368.2 251.9L368.2 252.4L368.2 252.9L368.2 253.4L368.2 253.9L368.2 254.3L368.2 254.8L368.3 255.2L368.3 255.6L368.3 256L368.3 256.4L368.3 256.7L368.3 257.1L368.3 257.4L368.3 258.6L368.4 259.5L368.4 260.2L368.4 260.7L368.5 261L368.5 261L368.5 260.9L368.5 260.5L368.6 260L368.6 259.4L368.6 258.6L368.7 257.7L368.7 256.7L368.7 255.5L368.8 254.3L368.8 253L368.8 251.6L368.9 250.2L368.9 248.7L368.9 247.2L369 245.7L369 244.2L369 242.6L369.1 241.2L369.1 239.7L369.1 238.3L369.2 236.9L369.2 235.7L369.2 234.5L369.3 233.4L369.3 232.4L369.3 231.7L369.4 231L369.4 230.2L369.4 229.5L369.4 228.8L369.5 228.1L369.5 227.3L369.5 226.6L369.6 225.9L369.6 225.1L369.6 224.4L369.6 223.6L369.7 222.9L369.7 222.1L369.7 221.3L369.8 220.6L369.8 219.8L369.8 219L369.9 218.2L369.9 217.4L369.9 216.7L369.9 215.8L370 215L370 214.2L370 213.4L370.1 212.6L370.1 211.7L370.1 210.9L370.2 210L370.2 209.2L370.2 208.3L370.3 207.4L370.3 206.5L370.3 205.6L370.3 204.7L370.4 203.8L370.4 202.9L370.4 201.9L370.5 201L370.5 200L370.5 199.3L370.5 198.6L370.6 197.9L370.6 197.1L370.6 196.4L370.6 195.6L370.7 194.9L370.7 194.1L370.7 193.3L370.7 192.5L370.8 191.7L370.8 190.9L370.8 190L370.8 189.2L370.8 188.4L370.9 187.5L370.9 186.7L370.9 185.8L370.9 185L371 184.1L371 183.3L371 182.4L371 181.5L371.1 180.7L371.1 179.8L371.1 178.9L371.1 178L371.2 177.2L371.2 176.3L371.2 175.4L371.2 174.6L371.2 173.7L371.3 172.8L371.3 172L371.3 171.1L371.3 170.3L371.4 169.4L371.4 168.6L371.4 167.7L371.4 166.9L371.5 166.1L371.5 165.3L371.5 164.5L371.5 163.7L371.5 162.9L371.6 162.1L371.6 161.3L371.6 160.6L371.6 159.8L371.7 159.1L371.7 158.4L371.7 157.7L371.7 157L371.8 156.3L371.8 155.7L371.8 155L371.8 153.9L371.9 152.8L371.9 151.8L371.9 150.8L372 149.7L372 148.7L372.1 147.7L372.1 146.8L372.1 145.8L372.2 144.9L372.2 143.9L372.2 143L372.3 142.1L372.3 141.2L372.3 140.4L372.4 139.5L372.4 138.7L372.4 137.9L372.5 137.1L372.5 136.3L372.5 135.6L372.6 134.9L372.6 134.1L372.7 133.4L372.7 132.8L372.7 132.1L372.8 131.4L372.8 130.8L372.8 130.2L372.9 129.6L372.9 129.1L373 128.5L373 128L373.2 126.2L373.3 124.9L373.5 124L373.7 123.4L373.8 122.9L374 122.4L374.3 121.8L374.5 121L374.7 120.3L374.9 119.7L375.1 119.1L375.2 118.5L375.4 117.9L375.7 117.3L375.9 116.6L376.2 115.7L376.5 114.7L376.8 113.6L377.2 112.2L377.4 111.7L377.5 111L377.7 110.4L377.9 109.7L378.1 109L378.3 108.2L378.5 107.4L378.7 106.6L378.9 105.7L379.1 104.8L379.4 104L379.6 103.1L379.8 102.2L380 101.2L380.3 100.3L380.5 99.4L380.7 98.5L381 97.6L381.2 96.7L381.4 95.9L381.7 95L381.9 94.2L382.1 93.4L382.3 92.6L382.5 91.9L382.7 91.2L382.9 90.5L383.1 89.9L383.2 89.4L383.4 88.8L383.9 87.4L384.4 86.4L384.8 85.8L385.1 85.4L385.5 85.2L385.8 84.8L386.1 84.2L386.4 83.2L386.6 82.5L386.7 81.7L386.9 80.9L387.1 79.9L387.2 78.8L387.4 77.8L387.5 76.7L387.7 75.5L387.9 74.5L388 73.4L388.1 72.4L388.3 71.5L388.4 70.7L388.6 70.1L388.7 69.5L388.8 69.2L388.9 69L389 69L389.1 69L389.2 69L389.3 69.1L389.4 69.4L389.4 69.7L389.5 70.2L389.5 70.8L389.6 71.6L389.6 72.6L389.7 73.8L389.7 75.2L389.8 76.9L389.8 78.8L389.9 81.1L389.9 81.6L389.9 82.1L389.9 82.7L389.9 83.3L390 84L390 84.7L390 85.5L390 86.3L390 87.1L390 87.9L390 88.8L390 89.7L390.1 90.6L390.1 91.6L390.1 92.5L390.1 93.5L390.1 94.6L390.1 95.6L390.1 96.7L390.1 97.7L390.1 98.8L390.2 99.9L390.2 101.1L390.2 102.2L390.2 103.3L390.2 104.5L390.2 105.6L390.2 106.8L390.2 107.9L390.2 109.1L390.2 110.3L390.3 111.4L390.3 112.6L390.3 113.7L390.3 114.9L390.3 116L390.3 117.2L390.3 118.3L390.3 119.4L390.3 120.5L390.4 121.6L390.4 122.7L390.4 123.7L390.4 124.8L390.4 125.8L390.4 126.8L390.4 127.7L390.4 128.7L390.4 129.6L390.4 130.5L390.5 131.3L390.5 132.2L390.5 133L390.5 133.7L390.5 134.5L390.5 135.2L390.5 135.8L390.5 136.4L390.5 137L390.6 137.6L390.6 138.1L390.6 138.5L390.6 138.9L390.6 139.2L390.6 139.5L390.6 139.8L390.6 140L390.6 140.1L390.7 140.2L390.7 140.3L390.7 140.2L390.7 140.1L390.7 140L390.7 139.9L390.7 139.7L390.7 139.5L390.7 139.2L390.7 139L390.7 138.7L390.8 138.4L390.8 138L390.8 137.6L390.8 137.2L390.8 136.8L390.8 136.3L390.8 135.8L390.8 135.3L390.8 134.7L390.8 134.2L390.8 133.6L390.8 132.9L390.8 132.3L390.8 131.6L390.9 130.9L390.9 130.2L390.9 129.5L390.9 128.8L390.9 128L390.9 127.2L390.9 126.4L390.9 125.6L390.9 124.8L390.9 123.9L390.9 123L390.9 122.1L390.9 121.2L390.9 120.3L390.9 119.4L390.9 118.5L391 117.5L391 116.5L391 115.6L391 114.6L391 113.6L391 112.6L391 111.6L391 110.5L391 109.5L391 108.5L391 107.4L391 106.4L391 105.3L391 104.2L391 103.2L391.1 102.1L391.1 101L391.1 100L391.1 98.9L391.1 97.8L391.1 96.7L391.1 95.6L391.1 94.6L391.1 93.5L391.1 92.4L391.1 91.3L391.1 90.2L391.1 89.2L391.2 88.1L391.2 87L391.2 86L391.2 84.9L391.2 83.9L391.2 82.9L391.2 81.8L391.2 80.8L391.2 79.8L391.2 78.8L391.2 77.8L391.2 76.8L391.3 75.8L391.3 74.9L391.3 73.9L391.3 73L391.3 72L391.3 71.1L391.3 70.2L391.3 69.4L391.3 68.5L391.3 67.6L391.4 66.8L391.4 66L391.4 65.2L391.4 64.4L391.4 63.6L391.4 62.9L391.4 62.2L391.4 61.5L391.5 60.8L391.5 60.1L391.5 59.5L391.5 58.9L391.5 58.3L391.5 57.7L391.5 57.2L391.5 56.7L391.6 56.2L391.6 55.7L391.6 55.3L391.6 54.9L392.2 49.1L392.9 52.9L393.8 56.3L394.4 55.9L395.1 55.1L395.8 54.3L396.5 53.7L397.1 53.4L397.7 53.9L398.2 54.9L398.7 56.1L399.3 56.9L399.9 57L400.3 56.6L400.7 56L401.1 55.1L401.5 54.2L401.9 53.1L402.4 52.1L402.8 51.1L403.2 50.3L403.6 49.6L403.9 49.2L404.6 48.8L405.1 49L405.5 50L406 52L406.1 52.5L406.2 53.1L406.2 53.7L406.3 54.3L406.4 55L406.5 55.7L406.6 56.5L406.6 57.3L406.7 58.1L406.8 59L406.9 59.8L407 60.7L407 61.6L407.1 62.5L407.2 63.4L407.3 64.3L407.3 65.2L407.4 66.2L407.5 67L407.6 67.9L407.6 68.8L407.7 69.6L407.8 70.4L407.9 71.3L408 72.1L408 73L408.1 73.9L408.2 74.8L408.3 75.7L408.4 76.6L408.4 77.5L408.5 78.5L408.6 79.4L408.7 80.3L408.8 81.2L408.8 82.1L408.9 82.9L409 83.8L409.1 84.5L409.2 85.3L409.3 86L409.3 86.7L409.4 87.3L409.5 87.9L409.6 88.4L409.7 88.8L410.5 90.3L411.4 89.8L412.1 89.6L412.4 89.8L412.7 90L412.9 90.8L413.3 93.1L413.4 93.6L413.5 94.2L413.6 94.8L413.7 95.5L413.8 96.2L413.9 97L414 97.8L414.1 98.7L414.2 99.6L414.4 100.5L414.5 101.5L414.6 102.4L414.8 103.4L414.9 104.4L415 105.4L415.1 106.3L415.3 107.3L415.4 108.2L415.5 109.2L415.6 110.1L415.7 110.9L415.9 111.8L416 112.6L416.1 113.3L416.2 114L416.2 114.7L416.3 115.2L416.4 115.8L416.7 117.7L416.8 118.5L416.8 118.8L416.9 119.1L417.1 120L417.2 120.6L417.4 121.3L417.6 122L417.8 122.8L418 123.6L418.2 124.5L418.4 125.3L418.6 126.2L418.9 127.1L419.1 127.9L419.3 128.7L419.5 129.5L419.7 130.4L419.9 131.2L420.2 132.5L420.4 133L420.6 133.9L420.8 134.5L421 135.2L421.3 135.7L421.5 136.5L421.8 137.9L422 138.6L422.2 140.1L422.5 139.8L422.7 140.7L423 141.3L423.2 143.3L423.5 142.8L423.7 144.6L424 145.7L424.2 145.8L424.5 147L424.7 146.3L425 147.9L425.3 148.2L425.6 150L425.9 150.7L426.2 151.2L426.5 152.9L426.8 153.4L427.1 153.8L427.4 154.5L427.7 154.8L428 156.2L428.3 158.2L428.7 157.6L429 158.9L429.3 159.2L429.7 160.6L430 161.2L430.3 161.5L430.7 161.5L431 162.7L431.4 164.4L431.9 164.5L432.3 165.7L432.7 165.9L433.1 165.9L433.6 167.7L434 168.3L434.6 168.7L435.2 169.5L435.8 170.5L436.4 170.7L437 171.7L437.8 172L438.5 171.3L439.2 172.7L440 172.7L441 172.7L442 173.4L443 172.7L443.8 173L444.5 172.8L445.2 171.9L446 170.6L446.8 170.6L447.5 171.1L448.2 170.1L449 169.4" stroke="#ff3c3c"/>
<path d="M449 169.4L450.5 169L451 171.1L451.5 170.2L452 171.6L452.5 166.5L453 168.4L453.5 168.5L454 169.3L454.5 162.1" stroke="#ff3c3c"/>
</g>
<line x1="44" y1="32" x2="44" y2="304" stroke="#cfcfcf" stroke-width="1"/>
<path d="M44 296.5 V304 H455.5 V32 H44 V33.5" fill="none" stroke="#505050" stroke-width="1.1"/>
<line x1="42.5" y1="292.1" x2="44.5" y2="292.1" stroke="#555" stroke-width="1"/>
<line x1="42.5" y1="277.6" x2="44.5" y2="277.6" stroke="#555" stroke-width="1"/>
<line x1="42.5" y1="263.2" x2="44.5" y2="263.2" stroke="#555" stroke-width="1"/>
<line x1="42.5" y1="248.8" x2="44.5" y2="248.8" stroke="#555" stroke-width="1"/>
<line x1="42.5" y1="234.3" x2="44.5" y2="234.3" stroke="#555" stroke-width="1"/>
<line x1="42.5" y1="219.8" x2="44.5" y2="219.8" stroke="#555" stroke-width="1"/>
<line x1="42.5" y1="205.4" x2="44.5" y2="205.4" stroke="#555" stroke-width="1"/>
<line x1="42.5" y1="190.9" x2="44.5" y2="190.9" stroke="#555" stroke-width="1"/>
<line x1="42.5" y1="176.5" x2="44.5" y2="176.5" stroke="#555" stroke-width="1"/>
<line x1="42.5" y1="162.1" x2="44.5" y2="162.1" stroke="#555" stroke-width="1"/>
<line x1="42.5" y1="147.6" x2="44.5" y2="147.6" stroke="#555" stroke-width="1"/>
<line x1="42.5" y1="133.2" x2="44.5" y2="133.2" stroke="#555" stroke-width="1"/>
<line x1="42.5" y1="118.7" x2="44.5" y2="118.7" stroke="#555" stroke-width="1"/>
<line x1="42.5" y1="104.2" x2="44.5" y2="104.2" stroke="#555" stroke-width="1"/>
<line x1="42.5" y1="89.8" x2="44.5" y2="89.8" stroke="#555" stroke-width="1"/>
<line x1="42.5" y1="75.3" x2="44.5" y2="75.3" stroke="#555" stroke-width="1"/>
<line x1="42.5" y1="60.9" x2="44.5" y2="60.9" stroke="#555" stroke-width="1"/>
<line x1="42.5" y1="46.5" x2="44.5" y2="46.5" stroke="#555" stroke-width="1"/>
<text x="42" y="63.2" font-size="9" fill="#2a2a2a" stroke="#2a2a2a" stroke-width="0.15" text-anchor="end" font-family='"Liberation Sans", sans-serif' textLength="12.5" lengthAdjust="spacingAndGlyphs">0.16</text>
<text x="42" y="92.1" font-size="9" fill="#2a2a2a" stroke="#2a2a2a" stroke-width="0.15" text-anchor="end" font-family='"Liberation Sans", sans-serif' textLength="12.5" lengthAdjust="spacingAndGlyphs">0.12</text>
<text x="42" y="121" font-size="9" fill="#2a2a2a" stroke="#2a2a2a" stroke-width="0.15" text-anchor="end" font-family='"Liberation Sans", sans-serif' textLength="12.5" lengthAdjust="spacingAndGlyphs">0.08</text>
<text x="42" y="149.9" font-size="9" fill="#2a2a2a" stroke="#2a2a2a" stroke-width="0.15" text-anchor="end" font-family='"Liberation Sans", sans-serif' textLength="12.5" lengthAdjust="spacingAndGlyphs">0.04</text>
<text x="42" y="178.8" font-size="9" fill="#2a2a2a" stroke="#2a2a2a" stroke-width="0.15" text-anchor="end" font-family='"Liberation Sans", sans-serif' textLength="12.5" lengthAdjust="spacingAndGlyphs">0.00</text>
<text x="42" y="207.7" font-size="9" fill="#2a2a2a" stroke="#2a2a2a" stroke-width="0.15" text-anchor="end" font-family='"Liberation Sans", sans-serif' textLength="16.9" lengthAdjust="spacingAndGlyphs">-0.04</text>
<text x="42" y="236.6" font-size="9" fill="#2a2a2a" stroke="#2a2a2a" stroke-width="0.15" text-anchor="end" font-family='"Liberation Sans", sans-serif' textLength="16.9" lengthAdjust="spacingAndGlyphs">-0.08</text>
<text x="42" y="265.5" font-size="9" fill="#2a2a2a" stroke="#2a2a2a" stroke-width="0.15" text-anchor="end" font-family='"Liberation Sans", sans-serif' textLength="16.9" lengthAdjust="spacingAndGlyphs">-0.12</text>
<text x="42" y="294.4" font-size="9" fill="#2a2a2a" stroke="#2a2a2a" stroke-width="0.15" text-anchor="end" font-family='"Liberation Sans", sans-serif' textLength="16.9" lengthAdjust="spacingAndGlyphs">-0.16</text>
<line x1="444.6" y1="304" x2="444.6" y2="306.5" stroke="#444" stroke-width="1"/>
<line x1="432.3" y1="304" x2="432.3" y2="306.5" stroke="#444" stroke-width="1"/>
<line x1="419.9" y1="304" x2="419.9" y2="306.5" stroke="#444" stroke-width="1"/>
<line x1="407.6" y1="304" x2="407.6" y2="308" stroke="#444" stroke-width="1"/>
<line x1="395.3" y1="304" x2="395.3" y2="306.5" stroke="#444" stroke-width="1"/>
<line x1="382.9" y1="304" x2="382.9" y2="306.5" stroke="#444" stroke-width="1"/>
<line x1="370.6" y1="304" x2="370.6" y2="306.5" stroke="#444" stroke-width="1"/>
<line x1="358.3" y1="304" x2="358.3" y2="306.5" stroke="#444" stroke-width="1"/>
<line x1="345.9" y1="304" x2="345.9" y2="308" stroke="#444" stroke-width="1"/>
<line x1="333.6" y1="304" x2="333.6" y2="306.5" stroke="#444" stroke-width="1"/>
<line x1="321.2" y1="304" x2="321.2" y2="306.5" stroke="#444" stroke-width="1"/>
<line x1="308.9" y1="304" x2="308.9" y2="306.5" stroke="#444" stroke-width="1"/>
<line x1="296.6" y1="304" x2="296.6" y2="306.5" stroke="#444" stroke-width="1"/>
<line x1="284.2" y1="304" x2="284.2" y2="308" stroke="#444" stroke-width="1"/>
<line x1="271.9" y1="304" x2="271.9" y2="306.5" stroke="#444" stroke-width="1"/>
<line x1="259.6" y1="304" x2="259.6" y2="306.5" stroke="#444" stroke-width="1"/>
<line x1="247.2" y1="304" x2="247.2" y2="306.5" stroke="#444" stroke-width="1"/>
<line x1="234.9" y1="304" x2="234.9" y2="306.5" stroke="#444" stroke-width="1"/>
<line x1="222.6" y1="304" x2="222.6" y2="308" stroke="#444" stroke-width="1"/>
<line x1="210.2" y1="304" x2="210.2" y2="306.5" stroke="#444" stroke-width="1"/>
<line x1="197.9" y1="304" x2="197.9" y2="306.5" stroke="#444" stroke-width="1"/>
<line x1="185.6" y1="304" x2="185.6" y2="306.5" stroke="#444" stroke-width="1"/>
<line x1="173.2" y1="304" x2="173.2" y2="306.5" stroke="#444" stroke-width="1"/>
<line x1="160.9" y1="304" x2="160.9" y2="308" stroke="#444" stroke-width="1"/>
<line x1="148.5" y1="304" x2="148.5" y2="306.5" stroke="#444" stroke-width="1"/>
<line x1="136.2" y1="304" x2="136.2" y2="306.5" stroke="#444" stroke-width="1"/>
<line x1="123.9" y1="304" x2="123.9" y2="306.5" stroke="#444" stroke-width="1"/>
<line x1="111.5" y1="304" x2="111.5" y2="306.5" stroke="#444" stroke-width="1"/>
<line x1="99.2" y1="304" x2="99.2" y2="308" stroke="#444" stroke-width="1"/>
<line x1="86.9" y1="304" x2="86.9" y2="306.5" stroke="#444" stroke-width="1"/>
<line x1="74.5" y1="304" x2="74.5" y2="306.5" stroke="#444" stroke-width="1"/>
<line x1="62.2" y1="304" x2="62.2" y2="306.5" stroke="#444" stroke-width="1"/>
<line x1="49.9" y1="304" x2="49.9" y2="306.5" stroke="#444" stroke-width="1"/>
<text x="99.2" y="317.6" font-size="8.4" fill="#222" text-anchor="middle" font-family='"Liberation Sans", sans-serif' textLength="18.3" lengthAdjust="spacingAndGlyphs" stroke="#222" stroke-width="0.15">3500</text>
<text x="160.9" y="317.6" font-size="8.4" fill="#222" text-anchor="middle" font-family='"Liberation Sans", sans-serif' textLength="18.3" lengthAdjust="spacingAndGlyphs" stroke="#222" stroke-width="0.15">3000</text>
<text x="222.6" y="317.6" font-size="8.4" fill="#222" text-anchor="middle" font-family='"Liberation Sans", sans-serif' textLength="18.3" lengthAdjust="spacingAndGlyphs" stroke="#222" stroke-width="0.15">2500</text>
<text x="284.2" y="317.6" font-size="8.4" fill="#222" text-anchor="middle" font-family='"Liberation Sans", sans-serif' textLength="18.3" lengthAdjust="spacingAndGlyphs" stroke="#222" stroke-width="0.15">2000</text>
<text x="345.9" y="317.6" font-size="8.4" fill="#222" text-anchor="middle" font-family='"Liberation Sans", sans-serif' textLength="18.3" lengthAdjust="spacingAndGlyphs" stroke="#222" stroke-width="0.15">1500</text>
<text x="407.6" y="317.6" font-size="8.4" fill="#222" text-anchor="middle" font-family='"Liberation Sans", sans-serif' textLength="18.3" lengthAdjust="spacingAndGlyphs" stroke="#222" stroke-width="0.15">1000</text>
<text x="200.6" y="333.3" font-size="11.2" fill="#222" text-anchor="start" font-family='"Liberation Sans", sans-serif' textLength="106" lengthAdjust="spacingAndGlyphs" >Wavenumber (cm<tspan font-size="7" dy="-4.5">-1</tspan><tspan dy="4.5">)</tspan></text>
<line x1="120.8" y1="32" x2="120.8" y2="36.5" stroke="#444" stroke-width="1"/>
<line x1="179.5" y1="32" x2="179.5" y2="34.5" stroke="#444" stroke-width="1"/>
<line x1="223.6" y1="32" x2="223.6" y2="36.5" stroke="#444" stroke-width="1"/>
<line x1="257.8" y1="32" x2="257.8" y2="34.5" stroke="#444" stroke-width="1"/>
<line x1="285.2" y1="32" x2="285.2" y2="36.5" stroke="#444" stroke-width="1"/>
<line x1="307.7" y1="32" x2="307.7" y2="34.5" stroke="#444" stroke-width="1"/>
<line x1="326.4" y1="32" x2="326.4" y2="36.5" stroke="#444" stroke-width="1"/>
<line x1="342.2" y1="32" x2="342.2" y2="34.5" stroke="#444" stroke-width="1"/>
<line x1="355.7" y1="32" x2="355.7" y2="36.5" stroke="#444" stroke-width="1"/>
<line x1="367.5" y1="32" x2="367.5" y2="34.5" stroke="#444" stroke-width="1"/>
<line x1="377.8" y1="32" x2="377.8" y2="36.5" stroke="#444" stroke-width="1"/>
<line x1="386.8" y1="32" x2="386.8" y2="34.5" stroke="#444" stroke-width="1"/>
<line x1="394.9" y1="32" x2="394.9" y2="36.5" stroke="#444" stroke-width="1"/>
<line x1="402.1" y1="32" x2="402.1" y2="34.5" stroke="#444" stroke-width="1"/>
<line x1="408.6" y1="32" x2="408.6" y2="34.5" stroke="#444" stroke-width="1"/>
<line x1="414.5" y1="32" x2="414.5" y2="34.5" stroke="#444" stroke-width="1"/>
<line x1="419.8" y1="32" x2="419.8" y2="36.5" stroke="#444" stroke-width="1"/>
<line x1="424.7" y1="32" x2="424.7" y2="34.5" stroke="#444" stroke-width="1"/>
<line x1="429.2" y1="32" x2="429.2" y2="34.5" stroke="#444" stroke-width="1"/>
<line x1="433.3" y1="32" x2="433.3" y2="34.5" stroke="#444" stroke-width="1"/>
<line x1="437.1" y1="32" x2="437.1" y2="36.5" stroke="#444" stroke-width="1"/>
<line x1="440.6" y1="32" x2="440.6" y2="34.5" stroke="#444" stroke-width="1"/>
<line x1="443.8" y1="32" x2="443.8" y2="34.5" stroke="#444" stroke-width="1"/>
<line x1="446.9" y1="32" x2="446.9" y2="34.5" stroke="#444" stroke-width="1"/>
<line x1="449.7" y1="32" x2="449.7" y2="36.5" stroke="#444" stroke-width="1"/>
<text x="120.8" y="25.2" font-size="8.4" fill="#222" text-anchor="middle" font-family='"Liberation Sans", sans-serif' stroke="#222" stroke-width="0.15">3</text>
<text x="223.6" y="25.2" font-size="8.4" fill="#222" text-anchor="middle" font-family='"Liberation Sans", sans-serif' stroke="#222" stroke-width="0.15">4</text>
<text x="285.2" y="25.2" font-size="8.4" fill="#222" text-anchor="middle" font-family='"Liberation Sans", sans-serif' stroke="#222" stroke-width="0.15">5</text>
<text x="326.4" y="25.2" font-size="8.4" fill="#222" text-anchor="middle" font-family='"Liberation Sans", sans-serif' stroke="#222" stroke-width="0.15">6</text>
<text x="355.7" y="25.2" font-size="8.4" fill="#222" text-anchor="middle" font-family='"Liberation Sans", sans-serif' stroke="#222" stroke-width="0.15">7</text>
<text x="377.8" y="25.2" font-size="8.4" fill="#222" text-anchor="middle" font-family='"Liberation Sans", sans-serif' stroke="#222" stroke-width="0.15">8</text>
<text x="394.9" y="25.2" font-size="8.4" fill="#222" text-anchor="middle" font-family='"Liberation Sans", sans-serif' stroke="#222" stroke-width="0.15">9</text>
<text x="419.8" y="25.2" font-size="8.4" fill="#222" text-anchor="middle" font-family='"Liberation Sans", sans-serif' stroke="#222" stroke-width="0.15">11</text>
<text x="437.1" y="25.2" font-size="8.4" fill="#222" text-anchor="middle" font-family='"Liberation Sans", sans-serif' stroke="#222" stroke-width="0.15">13</text>
<text x="449.7" y="25.2" font-size="8.4" fill="#222" text-anchor="middle" font-family='"Liberation Sans", sans-serif' stroke="#222" stroke-width="0.15">15</text>
<text x="201.9" y="9.8" font-size="11" fill="#222" text-anchor="start" font-family='"Liberation Sans", sans-serif' textLength="98.2" lengthAdjust="spacingAndGlyphs" >Wavelength (µm)</text>
<text transform="translate(12.4,169.2) rotate(-90)" x="0" y="0" font-size="13.2" fill="#111" text-anchor="middle" font-family='"Liberation Sans", sans-serif'>Difference spectra</text>
<text transform="translate(474.4,98.3) rotate(-90) scale(1,1.2)" x="0" y="0" font-size="11.8" fill="#111" text-anchor="middle" font-family='"Liberation Sans", sans-serif'>Production</text>
<text transform="translate(474.4,185) rotate(-90) scale(1,1.2)" x="0" y="0" font-size="11.8" fill="#111" text-anchor="middle" font-family='"Liberation Sans", sans-serif'>Destruction</text>
<line x1="483.5" y1="70" x2="483.5" y2="125" stroke="#111" stroke-width="1"/>
<path d="M480.8 71.5 L483.5 65.5 L486.2 71.5 Z" fill="#111"/>
<line x1="483.5" y1="155" x2="483.5" y2="210" stroke="#111" stroke-width="1"/>
<path d="M480.8 209.5 L483.5 215.5 L486.2 209.5 Z" fill="#111"/>
<line x1="461" y1="139.2" x2="488.5" y2="139.2" stroke="#bdbdbd" stroke-width="1.2"/>
<text x="121.5" y="118.7" font-size="8.2" fill="#3346f2" text-anchor="start" font-family='"Liberation Sans", sans-serif' textLength="12.3" lengthAdjust="spacingAndGlyphs" stroke="#3346f2" stroke-width="0.3">1min</text>
<text x="121" y="152" font-size="8.2" fill="#8e2a8e" text-anchor="start" font-family='"Liberation Sans", sans-serif' textLength="16" lengthAdjust="spacingAndGlyphs" stroke="#8e2a8e" stroke-width="0.3">10min</text>
<text x="117.6" y="204.8" font-size="8.2" fill="#3ee03e" text-anchor="start" font-family='"Liberation Sans", sans-serif' textLength="16.7" lengthAdjust="spacingAndGlyphs" stroke="#3ee03e" stroke-width="0.3">30min</text>
<text x="118.8" y="237.5" font-size="8.2" fill="#3be8f2" text-anchor="start" font-family='"Liberation Sans", sans-serif' textLength="16.2" lengthAdjust="spacingAndGlyphs" stroke="#3be8f2" stroke-width="0.3">75min</text>
<text x="140.1" y="261.8" font-size="8.2" fill="#ff3cff" text-anchor="start" font-family='"Liberation Sans", sans-serif' textLength="19.2" lengthAdjust="spacingAndGlyphs" stroke="#ff3cff" stroke-width="0.3">135min</text>
<text x="140.1" y="272" font-size="8.2" fill="#3c3c9c" text-anchor="start" font-family='"Liberation Sans", sans-serif' textLength="19.2" lengthAdjust="spacingAndGlyphs" stroke="#3c3c9c" stroke-width="0.3">248min</text>
<text x="140.1" y="282.6" font-size="8.2" fill="#2f8f2f" text-anchor="start" font-family='"Liberation Sans", sans-serif' textLength="19.2" lengthAdjust="spacingAndGlyphs" stroke="#2f8f2f" stroke-width="0.3">488min</text>
<text x="140.1" y="293.2" font-size="8.2" fill="#ff3c3c" text-anchor="start" font-family='"Liberation Sans", sans-serif' textLength="19.2" lengthAdjust="spacingAndGlyphs" stroke="#ff3c3c" stroke-width="0.3">648min</text>
<text x="175.3" y="58.5" font-size="12.8" fill="#111" text-anchor="start" font-family='"Liberation Serif", serif' textLength="24.3" lengthAdjust="spacingAndGlyphs"  stroke="#111" stroke-width="0.2">H<tspan font-size="64%" dy="1.5">2</tspan><tspan dy="-1.5">O</tspan><tspan font-size="64%" dy="1.5">2</tspan></text>
<line x1="178.6" y1="63" x2="178.6" y2="72" stroke="#111" stroke-width="1.3"/><path d="M175.6 70.5 L178.6 77 L181.6 70.5 Z" fill="#111"/>
<text x="261.2" y="75.2" font-size="12.8" fill="#111" text-anchor="start" font-family='"Liberation Serif", serif' textLength="16.8" lengthAdjust="spacingAndGlyphs"  stroke="#111" stroke-width="0.2">CO</text>
<line x1="268.8" y1="84" x2="268.8" y2="93" stroke="#111" stroke-width="1.3"/><path d="M265.8 91.5 L268.8 98 L271.8 91.5 Z" fill="#111"/>
<text x="301.6" y="92.6" font-size="12.8" fill="#111" text-anchor="start" font-family='"Liberation Serif", serif' textLength="24.6" lengthAdjust="spacingAndGlyphs"  stroke="#111" stroke-width="0.2">H<tspan font-size="64%" dy="1.5">3</tspan><tspan dy="-1.5">O</tspan><tspan font-size="60%" dy="-5">+</tspan></text>
<text x="332.6" y="115.2" font-size="12.8" fill="#111" text-anchor="start" font-family='"Liberation Serif", serif' textLength="19" lengthAdjust="spacingAndGlyphs"  stroke="#111" stroke-width="0.2">SO<tspan font-size="64%" dy="1.5">3</tspan></text>
<text x="360.4" y="52.5" font-size="12.2" fill="#111" text-anchor="start" font-family='"Liberation Serif", serif' textLength="34.2" lengthAdjust="spacingAndGlyphs"  stroke="#111" stroke-width="0.2">Sulfate</text>
<text x="423.1" y="50" font-size="12.6" fill="#111" text-anchor="start" font-family='"Liberation Serif", serif' textLength="28.3" lengthAdjust="spacingAndGlyphs"  stroke="#111" stroke-width="0.2">E50K</text>
<text x="63.2" y="211.8" font-size="11.9" fill="#111" text-anchor="start" font-family='"Liberation Serif", serif' textLength="29" lengthAdjust="spacingAndGlyphs"  stroke="#111" stroke-width="0.2">OHdb</text>
<text x="146.5" y="233.8" font-size="13" fill="#111" text-anchor="start" font-family='"Liberation Serif", serif' textLength="20.5" lengthAdjust="spacingAndGlyphs"  stroke="#111" stroke-width="0.2">H<tspan font-size="64%" dy="1.5">2</tspan><tspan dy="-1.5">O</tspan></text>
<text x="85.2" y="284" font-size="12.8" fill="#111" text-anchor="start" font-family='"Liberation Serif", serif' textLength="20.4" lengthAdjust="spacingAndGlyphs"  stroke="#111" stroke-width="0.2">NH<tspan font-size="64%" dy="1.5">3</tspan></text>
<line x1="103.2" y1="274.2" x2="110.5" y2="263.5" stroke="#111" stroke-width="1.3"/><path d="M107.4 262.8 L113.2 259.5 L112.6 266 Z" fill="#111"/>
<text x="252.6" y="237" font-size="13" fill="#111" text-anchor="start" font-family='"Liberation Serif", serif' textLength="20.5" lengthAdjust="spacingAndGlyphs"  stroke="#111" stroke-width="0.2">CO<tspan font-size="64%" dy="1.5">2</tspan></text>
<text x="374" y="238.5" font-size="12" fill="#111" text-anchor="start" font-family='"Liberation Serif", serif' textLength="18.9" lengthAdjust="spacingAndGlyphs"  stroke="#111" stroke-width="0.2">SO<tspan font-size="64%" dy="1.5">2</tspan></text>
<text x="404.2" y="274" font-size="23" fill="#111" text-anchor="start" font-family='"Liberation Serif", serif' textLength="21.6" lengthAdjust="spacingAndGlyphs"  stroke="#111" stroke-width="0.2">a)</text>
<g stroke="#4a4a4a" stroke-width="1.2" fill="none">
<path d="M42.8 575.1 V353.0 H453.8 V575.1"/>
<path d="M42.8 583.4 V805.8 H453.8 V583.4"/>
<line x1="42.8" y1="583.4" x2="453.8" y2="583.4"/>
</g>
<g stroke="#222" stroke-width="1.2">
<line x1="37" y1="580" x2="48.6" y2="571.8"/>
<line x1="37" y1="587.5" x2="48.6" y2="579.7"/>
<line x1="448" y1="580" x2="459.6" y2="571.8"/>
<line x1="448" y1="587.5" x2="459.6" y2="579.7"/>
</g>
<g stroke="#4a4a4a" stroke-width="1">
<line x1="57.2" y1="805.8" x2="57.2" y2="800.8"/>
<line x1="57.2" y1="353.0" x2="57.2" y2="358.0"/>
<line x1="75.2" y1="805.8" x2="75.2" y2="802.8"/>
<line x1="75.2" y1="353.0" x2="75.2" y2="356.0"/>
<line x1="93.3" y1="805.8" x2="93.3" y2="802.8"/>
<line x1="93.3" y1="353.0" x2="93.3" y2="356.0"/>
<line x1="111.4" y1="805.8" x2="111.4" y2="802.8"/>
<line x1="111.4" y1="353.0" x2="111.4" y2="356.0"/>
<line x1="129.4" y1="805.8" x2="129.4" y2="800.8"/>
<line x1="129.4" y1="353.0" x2="129.4" y2="358.0"/>
<line x1="147.4" y1="805.8" x2="147.4" y2="802.8"/>
<line x1="147.4" y1="353.0" x2="147.4" y2="356.0"/>
<line x1="165.5" y1="805.8" x2="165.5" y2="802.8"/>
<line x1="165.5" y1="353.0" x2="165.5" y2="356.0"/>
<line x1="183.6" y1="805.8" x2="183.6" y2="802.8"/>
<line x1="183.6" y1="353.0" x2="183.6" y2="356.0"/>
<line x1="201.6" y1="805.8" x2="201.6" y2="800.8"/>
<line x1="201.6" y1="353.0" x2="201.6" y2="358.0"/>
<line x1="219.7" y1="805.8" x2="219.7" y2="802.8"/>
<line x1="219.7" y1="353.0" x2="219.7" y2="356.0"/>
<line x1="237.7" y1="805.8" x2="237.7" y2="802.8"/>
<line x1="237.7" y1="353.0" x2="237.7" y2="356.0"/>
<line x1="255.8" y1="805.8" x2="255.8" y2="802.8"/>
<line x1="255.8" y1="353.0" x2="255.8" y2="356.0"/>
<line x1="273.8" y1="805.8" x2="273.8" y2="800.8"/>
<line x1="273.8" y1="353.0" x2="273.8" y2="358.0"/>
<line x1="291.9" y1="805.8" x2="291.9" y2="802.8"/>
<line x1="291.9" y1="353.0" x2="291.9" y2="356.0"/>
<line x1="309.9" y1="805.8" x2="309.9" y2="802.8"/>
<line x1="309.9" y1="353.0" x2="309.9" y2="356.0"/>
<line x1="327.9" y1="805.8" x2="327.9" y2="802.8"/>
<line x1="327.9" y1="353.0" x2="327.9" y2="356.0"/>
<line x1="346" y1="805.8" x2="346" y2="800.8"/>
<line x1="346" y1="353.0" x2="346" y2="358.0"/>
<line x1="364.1" y1="805.8" x2="364.1" y2="802.8"/>
<line x1="364.1" y1="353.0" x2="364.1" y2="356.0"/>
<line x1="382.1" y1="805.8" x2="382.1" y2="802.8"/>
<line x1="382.1" y1="353.0" x2="382.1" y2="356.0"/>
<line x1="400.1" y1="805.8" x2="400.1" y2="802.8"/>
<line x1="400.1" y1="353.0" x2="400.1" y2="356.0"/>
<line x1="418.2" y1="805.8" x2="418.2" y2="800.8"/>
<line x1="418.2" y1="353.0" x2="418.2" y2="358.0"/>
<line x1="436.2" y1="805.8" x2="436.2" y2="802.8"/>
<line x1="436.2" y1="353.0" x2="436.2" y2="356.0"/>
<line x1="42.8" y1="557.4" x2="46.3" y2="557.4"/>
<line x1="453.8" y1="557.4" x2="450.3" y2="557.4"/>
<line x1="42.8" y1="538.8" x2="48.8" y2="538.8"/>
<line x1="453.8" y1="538.8" x2="447.8" y2="538.8"/>
<line x1="42.8" y1="520.1" x2="46.3" y2="520.1"/>
<line x1="453.8" y1="520.1" x2="450.3" y2="520.1"/>
<line x1="42.8" y1="501.5" x2="48.8" y2="501.5"/>
<line x1="453.8" y1="501.5" x2="447.8" y2="501.5"/>
<line x1="42.8" y1="482.9" x2="46.3" y2="482.9"/>
<line x1="453.8" y1="482.9" x2="450.3" y2="482.9"/>
<line x1="42.8" y1="464.2" x2="48.8" y2="464.2"/>
<line x1="453.8" y1="464.2" x2="447.8" y2="464.2"/>
<line x1="42.8" y1="445.6" x2="46.3" y2="445.6"/>
<line x1="453.8" y1="445.6" x2="450.3" y2="445.6"/>
<line x1="42.8" y1="427" x2="48.8" y2="427"/>
<line x1="453.8" y1="427" x2="447.8" y2="427"/>
<line x1="42.8" y1="408.4" x2="46.3" y2="408.4"/>
<line x1="453.8" y1="408.4" x2="450.3" y2="408.4"/>
<line x1="42.8" y1="389.8" x2="48.8" y2="389.8"/>
<line x1="453.8" y1="389.8" x2="447.8" y2="389.8"/>
<line x1="42.8" y1="371.1" x2="46.3" y2="371.1"/>
<line x1="453.8" y1="371.1" x2="450.3" y2="371.1"/>
<line x1="42.8" y1="602.4" x2="46.3" y2="602.4"/>
<line x1="453.8" y1="602.4" x2="450.3" y2="602.4"/>
<line x1="42.8" y1="620.9" x2="48.8" y2="620.9"/>
<line x1="453.8" y1="620.9" x2="447.8" y2="620.9"/>
<line x1="42.8" y1="639.4" x2="46.3" y2="639.4"/>
<line x1="453.8" y1="639.4" x2="450.3" y2="639.4"/>
<line x1="42.8" y1="657.9" x2="48.8" y2="657.9"/>
<line x1="453.8" y1="657.9" x2="447.8" y2="657.9"/>
<line x1="42.8" y1="676.4" x2="46.3" y2="676.4"/>
<line x1="453.8" y1="676.4" x2="450.3" y2="676.4"/>
<line x1="42.8" y1="694.9" x2="48.8" y2="694.9"/>
<line x1="453.8" y1="694.9" x2="447.8" y2="694.9"/>
<line x1="42.8" y1="713.4" x2="46.3" y2="713.4"/>
<line x1="453.8" y1="713.4" x2="450.3" y2="713.4"/>
<line x1="42.8" y1="731.9" x2="48.8" y2="731.9"/>
<line x1="453.8" y1="731.9" x2="447.8" y2="731.9"/>
<line x1="42.8" y1="750.4" x2="46.3" y2="750.4"/>
<line x1="453.8" y1="750.4" x2="450.3" y2="750.4"/>
<line x1="42.8" y1="768.8" x2="48.8" y2="768.8"/>
<line x1="453.8" y1="768.8" x2="447.8" y2="768.8"/>
<line x1="42.8" y1="787.3" x2="46.3" y2="787.3"/>
<line x1="453.8" y1="787.3" x2="450.3" y2="787.3"/>
</g>
<text transform="translate(36.2,542.1) scale(1.2,1)" font-size="9.8" fill="#1a1a1a" stroke="#1a1a1a" stroke-width="0.25" font-family='"Liberation Sans", sans-serif' text-anchor="end">1</text>
<text transform="translate(36.2,504.9) scale(1.2,1)" font-size="9.8" fill="#1a1a1a" stroke="#1a1a1a" stroke-width="0.25" font-family='"Liberation Sans", sans-serif' text-anchor="end">2</text>
<text transform="translate(36.2,467.6) scale(1.2,1)" font-size="9.8" fill="#1a1a1a" stroke="#1a1a1a" stroke-width="0.25" font-family='"Liberation Sans", sans-serif' text-anchor="end">3</text>
<text transform="translate(36.2,430.4) scale(1.2,1)" font-size="9.8" fill="#1a1a1a" stroke="#1a1a1a" stroke-width="0.25" font-family='"Liberation Sans", sans-serif' text-anchor="end">4</text>
<text transform="translate(36.2,393.1) scale(1.2,1)" font-size="9.8" fill="#1a1a1a" stroke="#1a1a1a" stroke-width="0.25" font-family='"Liberation Sans", sans-serif' text-anchor="end">5</text>
<text transform="translate(36.2,355.9) scale(1.2,1)" font-size="9.8" fill="#1a1a1a" stroke="#1a1a1a" stroke-width="0.25" font-family='"Liberation Sans", sans-serif' text-anchor="end">6</text>
<text transform="translate(36.2,586.2) scale(1.2,1)" font-size="9.8" fill="#1a1a1a" stroke="#1a1a1a" stroke-width="0.25" font-family='"Liberation Sans", sans-serif' text-anchor="end">0</text>
<text transform="translate(36.2,624.3) scale(1.2,1)" font-size="9.8" fill="#1a1a1a" stroke="#1a1a1a" stroke-width="0.25" font-family='"Liberation Sans", sans-serif' text-anchor="end">-3</text>
<text transform="translate(36.2,661.3) scale(1.2,1)" font-size="9.8" fill="#1a1a1a" stroke="#1a1a1a" stroke-width="0.25" font-family='"Liberation Sans", sans-serif' text-anchor="end">-6</text>
<text transform="translate(36.2,698.3) scale(1.2,1)" font-size="9.8" fill="#1a1a1a" stroke="#1a1a1a" stroke-width="0.25" font-family='"Liberation Sans", sans-serif' text-anchor="end">-9</text>
<text transform="translate(36.2,735.3) scale(1.2,1)" font-size="9.8" fill="#1a1a1a" stroke="#1a1a1a" stroke-width="0.25" font-family='"Liberation Sans", sans-serif' text-anchor="end">-12</text>
<text transform="translate(36.2,772.2) scale(1.2,1)" font-size="9.8" fill="#1a1a1a" stroke="#1a1a1a" stroke-width="0.25" font-family='"Liberation Sans", sans-serif' text-anchor="end">-15</text>
<text transform="translate(36.2,809.2) scale(1.2,1)" font-size="9.8" fill="#1a1a1a" stroke="#1a1a1a" stroke-width="0.25" font-family='"Liberation Sans", sans-serif' text-anchor="end">-18</text>
<text transform="translate(57.2,818.1) scale(1.2,1)" font-size="9.8" fill="#1a1a1a" stroke="#1a1a1a" stroke-width="0.25" font-family='"Liberation Sans", sans-serif' text-anchor="middle">0</text>
<text transform="translate(129.4,818.1) scale(1.2,1)" font-size="9.8" fill="#1a1a1a" stroke="#1a1a1a" stroke-width="0.25" font-family='"Liberation Sans", sans-serif' text-anchor="middle">1</text>
<text transform="translate(201.6,818.1) scale(1.2,1)" font-size="9.8" fill="#1a1a1a" stroke="#1a1a1a" stroke-width="0.25" font-family='"Liberation Sans", sans-serif' text-anchor="middle">2</text>
<text transform="translate(273.8,818.1) scale(1.2,1)" font-size="9.8" fill="#1a1a1a" stroke="#1a1a1a" stroke-width="0.25" font-family='"Liberation Sans", sans-serif' text-anchor="middle">3</text>
<text transform="translate(346,818.1) scale(1.2,1)" font-size="9.8" fill="#1a1a1a" stroke="#1a1a1a" stroke-width="0.25" font-family='"Liberation Sans", sans-serif' text-anchor="middle">4</text>
<text transform="translate(418.2,818.1) scale(1.2,1)" font-size="9.8" fill="#1a1a1a" stroke="#1a1a1a" stroke-width="0.25" font-family='"Liberation Sans", sans-serif' text-anchor="middle">5</text>
<text x="169.2" y="834" font-size="10.9" fill="#222" text-anchor="start" font-family='"Liberation Sans", sans-serif' textLength="159" lengthAdjust="spacingAndGlyphs" >Fluence (10<tspan font-size="7.5" dy="-5">18</tspan><tspan dy="5"> photons cm</tspan><tspan font-size="7.5" dy="-5">-2</tspan><tspan dy="5">)</tspan></text>
<text transform="translate(12.5,642) rotate(-90)" font-size="14" fill="#111" text-anchor="middle" font-family='"Liberation Sans", sans-serif'>Difference band area</text>
<text transform="translate(12.3,564.3) rotate(-90) scale(1,1.08)" font-size="13.5" fill="#111" text-anchor="start" font-family='"Liberation Sans", sans-serif'>A-A<tspan font-size="9.7" dy="3">o</tspan><tspan dy="-3" dx="9.6">(cm</tspan><tspan font-size="9" dy="-5.5">-1</tspan><tspan dy="5.5">)</tspan></text>
<text transform="translate(468.3,466.3) rotate(-90) scale(1,1.2)" font-size="11.8" fill="#111" text-anchor="middle" font-family='"Liberation Sans", sans-serif'>Production</text>
<text transform="translate(468.3,695) rotate(-90) scale(1,1.2)" font-size="11.8" fill="#111" text-anchor="middle" font-family='"Liberation Sans", sans-serif'>Destruction</text>
<text x="405" y="463" font-size="23" fill="#111" text-anchor="start" font-family='"Liberation Serif", serif' textLength="21" lengthAdjust="spacingAndGlyphs"  stroke="#111" stroke-width="0.2">b)</text>
<text transform="translate(56.1,373.1) scale(1.18,1)" font-size="10.2" fill="#111" font-family='"Liberation Sans", sans-serif' text-anchor="start">A-A</text>
<text transform="translate(77.3,377.4) scale(1.18,1)" font-size="6.4" fill="#111" font-family='"Liberation Sans", sans-serif' text-anchor="start">o</text>
<text transform="translate(82,373.1) scale(1.18,1)" font-size="10.2" fill="#111" font-family='"Liberation Sans", sans-serif' text-anchor="start">=</text>
<text transform="translate(89.2,373.1) scale(1.18,1)" font-size="10.2" fill="#111" font-family='"Liberation Sans", sans-serif' text-anchor="start">A</text>
<text transform="translate(97.5,377.6) scale(1.18,1)" font-size="7.6" fill="#111" font-family='"Liberation Sans", sans-serif' text-anchor="start">∞</text>
<text transform="translate(106.3,373.1) scale(1.18,1)" font-size="10.2" fill="#111" font-family='"Liberation Sans", sans-serif' text-anchor="start">(1 - e</text>
<text transform="translate(136.5,367.3) scale(1.18,1)" font-size="9" fill="#111" font-family='"Liberation Sans", sans-serif' text-anchor="start">(-σ</text>
<text transform="translate(151.3,370.2) scale(1.18,1)" font-size="6" fill="#111" font-family='"Liberation Sans", sans-serif' text-anchor="start">f</text>
<text transform="translate(156.8,367.3) scale(1.18,1)" font-size="8.8" fill="#111" font-family='"Liberation Sans", sans-serif' text-anchor="start">F</text>
<text transform="translate(164.4,367.3) scale(1.18,1)" font-size="9" fill="#111" font-family='"Liberation Sans", sans-serif' text-anchor="start">)</text>
<text transform="translate(169.3,374) scale(1.18,1)" font-size="9.6" fill="#111" font-family='"Liberation Sans", sans-serif' text-anchor="start">)</text>
<text transform="translate(60,796.8) scale(1.18,1)" font-size="10.2" fill="#111" font-family='"Liberation Sans", sans-serif' text-anchor="start">A-A</text>
<text transform="translate(81.2,801.1) scale(1.18,1)" font-size="6.4" fill="#111" font-family='"Liberation Sans", sans-serif' text-anchor="start">o</text>
<text transform="translate(85.9,796.8) scale(1.18,1)" font-size="10.2" fill="#111" font-family='"Liberation Sans", sans-serif' text-anchor="start">=</text>
<text transform="translate(93.1,796.8) scale(1.18,1)" font-size="10.2" fill="#111" font-family='"Liberation Sans", sans-serif' text-anchor="start">A</text>
<text transform="translate(101.4,801.3) scale(1.18,1)" font-size="7.6" fill="#111" font-family='"Liberation Sans", sans-serif' text-anchor="start">∞</text>
<text transform="translate(110.2,796.8) scale(1.18,1)" font-size="10.2" fill="#111" font-family='"Liberation Sans", sans-serif' text-anchor="start">(1 - e</text>
<text transform="translate(140.4,791) scale(1.18,1)" font-size="9" fill="#111" font-family='"Liberation Sans", sans-serif' text-anchor="start">(-σ</text>
<text transform="translate(155.2,793.9) scale(1.18,1)" font-size="6" fill="#111" font-family='"Liberation Sans", sans-serif' text-anchor="start">d</text>
<text transform="translate(160.7,791) scale(1.18,1)" font-size="8.8" fill="#111" font-family='"Liberation Sans", sans-serif' text-anchor="start">F</text>
<text transform="translate(168.3,791) scale(1.18,1)" font-size="9" fill="#111" font-family='"Liberation Sans", sans-serif' text-anchor="start">)</text>
<text transform="translate(173.2,797.7) scale(1.18,1)" font-size="9.6" fill="#111" font-family='"Liberation Sans", sans-serif' text-anchor="start">)</text>
<g fill="none" stroke="#ff5050" stroke-width="1">
<path d="M57.2 576L59.6 548.5L61.9 524.9L64.3 504.8L66.6 487.6L69 472.9L71.3 460.3L73.7 449.5L76 440.3L78.4 432.5L80.7 425.7L83.1 420L85.4 415.1L87.8 410.9L90.2 407.3L92.5 404.2L94.9 401.6L97.2 399.3L99.6 397.4L101.9 395.7L104.3 394.3L106.6 393.1L109 392.1L111.3 391.2L113.7 390.5L116.1 389.8L118.4 389.3L120.8 388.8L123.1 388.4L125.5 388.1L127.8 387.8L130.2 387.5L132.5 387.3L134.9 387.1L137.2 387L139.6 386.8L141.9 386.7L144.3 386.6L146.7 386.5L149 386.4L151.4 386.4L153.7 386.3L156.1 386.3L158.4 386.3L160.8 386.2L163.1 386.2L165.5 386.2L167.8 386.1L170.2 386.1L172.6 386.1L174.9 386.1L177.3 386.1L179.6 386.1L182 386.1L184.3 386.1L186.7 386.1L189 386.1L191.4 386.1L193.7 386L196.1 386L198.4 386L200.8 386L203.2 386L205.5 386L207.9 386L210.2 386L212.6 386L214.9 386L217.3 386L219.6 386L222 386L224.3 386L226.7 386L229 386L231.4 386L233.8 386L236.1 386L238.5 386L240.8 386L243.2 386L245.5 386L247.9 386L250.2 386L252.6 386L254.9 386L257.3 386L259.7 386L262 386L264.4 386L266.7 386L269.1 386L271.4 386L273.8 386L276.1 386L278.5 386L280.8 386L283.2 386L285.5 386L287.9 386L290.3 386L292.6 386L295 386L297.3 386L299.7 386L302 386L304.4 386L306.7 386L309.1 386L311.4 386L313.8 386L316.1 386L318.5 386L320.9 386L323.2 386L325.6 386L327.9 386L330.3 386L332.6 386L335 386L337.3 386"/>
<path d="M57.2 576L59.6 573.1L61.9 570.4L64.3 567.9L66.6 565.5L69 563.2L71.3 561.1L73.7 559.1L76 557.2L78.4 555.4L80.7 553.7L83.1 552.1L85.4 550.6L87.8 549.2L90.2 547.8L92.5 546.6L94.9 545.4L97.2 544.3L99.6 543.2L101.9 542.2L104.3 541.3L106.6 540.4L109 539.5L111.3 538.8L113.7 538L116.1 537.3L118.4 536.6L120.8 536L123.1 535.4L125.5 534.9L127.8 534.4L130.2 533.9L132.5 533.4L134.9 533L137.2 532.5L139.6 532.2L141.9 531.8L144.3 531.4L146.7 531.1L149 530.8L151.4 530.5L153.7 530.2L156.1 530L158.4 529.7L160.8 529.5L163.1 529.3L165.5 529.1L167.8 528.9L170.2 528.7L172.6 528.5L174.9 528.4L177.3 528.2L179.6 528.1L182 528L184.3 527.8L186.7 527.7L189 527.6L191.4 527.5L193.7 527.4L196.1 527.3L198.4 527.2L200.8 527.1L203.2 527L205.5 527L207.9 526.9L210.2 526.8L212.6 526.8L214.9 526.7L217.3 526.6L219.6 526.6L222 526.5L224.3 526.5L226.7 526.4L229 526.4L231.4 526.4L233.8 526.3L236.1 526.3L238.5 526.3L240.8 526.2L243.2 526.2L245.5 526.2L247.9 526.1L250.2 526.1L252.6 526.1L254.9 526.1L257.3 526.1L259.7 526L262 526L264.4 526L266.7 526L269.1 526L271.4 526L273.8 525.9L276.1 525.9L278.5 525.9L280.8 525.9L283.2 525.9L285.5 525.9L287.9 525.9L290.3 525.9L292.6 525.9L295 525.8L297.3 525.8L299.7 525.8L302 525.8L304.4 525.8L306.7 525.8L309.1 525.8L311.4 525.8L313.8 525.8L316.1 525.8L318.5 525.8L320.9 525.8L323.2 525.8L325.6 525.8L327.9 525.8L330.3 525.8L332.6 525.8L335 525.8L337.3 525.8"/>
<path d="M57.2 576L59.6 575.5L61.9 575.1L64.3 574.7L66.6 574.3L69 573.9L71.3 573.5L73.7 573.1L76 572.7L78.4 572.4L80.7 572L83.1 571.7L85.4 571.4L87.8 571L90.2 570.7L92.5 570.4L94.9 570.1L97.2 569.9L99.6 569.6L101.9 569.3L104.3 569.1L106.6 568.8L109 568.6L111.3 568.3L113.7 568.1L116.1 567.9L118.4 567.7L120.8 567.4L123.1 567.2L125.5 567L127.8 566.8L130.2 566.7L132.5 566.5L134.9 566.3L137.2 566.1L139.6 566L141.9 565.8L144.3 565.6L146.7 565.5L149 565.3L151.4 565.2L153.7 565.1L156.1 564.9L158.4 564.8L160.8 564.7L163.1 564.5L165.5 564.4L167.8 564.3L170.2 564.2L172.6 564.1L174.9 564L177.3 563.9L179.6 563.8L182 563.7L184.3 563.6L186.7 563.5L189 563.4L191.4 563.3L193.7 563.2L196.1 563.1L198.4 563L200.8 563L203.2 562.9L205.5 562.8L207.9 562.7L210.2 562.7L212.6 562.6L214.9 562.5L217.3 562.5L219.6 562.4L222 562.4L224.3 562.3L226.7 562.2L229 562.2L231.4 562.1L233.8 562.1L236.1 562L238.5 562L240.8 561.9L243.2 561.9L245.5 561.9L247.9 561.8L250.2 561.8L252.6 561.7L254.9 561.7L257.3 561.6L259.7 561.6L262 561.6L264.4 561.5L266.7 561.5L269.1 561.5L271.4 561.4L273.8 561.4L276.1 561.4L278.5 561.3L280.8 561.3L283.2 561.3L285.5 561.3L287.9 561.2L290.3 561.2L292.6 561.2L295 561.2L297.3 561.1L299.7 561.1L302 561.1L304.4 561.1L306.7 561.1L309.1 561L311.4 561L313.8 561L316.1 561L318.5 561L320.9 560.9L323.2 560.9L325.6 560.9L327.9 560.9L330.3 560.9L332.6 560.9L335 560.8L337.3 560.8"/>
<path d="M57.2 576L59.6 575.7L61.9 575.4L64.3 575.1L66.6 574.8L69 574.5L71.3 574.2L73.7 573.9L76 573.7L78.4 573.4L80.7 573.2L83.1 572.9L85.4 572.7L87.8 572.5L90.2 572.2L92.5 572L94.9 571.8L97.2 571.6L99.6 571.4L101.9 571.2L104.3 571L106.6 570.9L109 570.7L111.3 570.5L113.7 570.4L116.1 570.2L118.4 570L120.8 569.9L123.1 569.7L125.5 569.6L127.8 569.5L130.2 569.3L132.5 569.2L134.9 569.1L137.2 568.9L139.6 568.8L141.9 568.7L144.3 568.6L146.7 568.5L149 568.4L151.4 568.3L153.7 568.2L156.1 568.1L158.4 568L160.8 567.9L163.1 567.8L165.5 567.7L167.8 567.6L170.2 567.6L172.6 567.5L174.9 567.4L177.3 567.3L179.6 567.3L182 567.2L184.3 567.1L186.7 567L189 567L191.4 566.9L193.7 566.9L196.1 566.8L198.4 566.7L200.8 566.7L203.2 566.6L205.5 566.6L207.9 566.5L210.2 566.5L212.6 566.4L214.9 566.4L217.3 566.3L219.6 566.3L222 566.3L224.3 566.2L226.7 566.2L229 566.1L231.4 566.1L233.8 566.1L236.1 566L238.5 566L240.8 566L243.2 565.9L245.5 565.9L247.9 565.9L250.2 565.8L252.6 565.8L254.9 565.8L257.3 565.7L259.7 565.7L262 565.7L264.4 565.7L266.7 565.6L269.1 565.6L271.4 565.6L273.8 565.6L276.1 565.6L278.5 565.5L280.8 565.5L283.2 565.5L285.5 565.5L287.9 565.5L290.3 565.4L292.6 565.4L295 565.4L297.3 565.4L299.7 565.4L302 565.4L304.4 565.3L306.7 565.3L309.1 565.3L311.4 565.3L313.8 565.3L316.1 565.3L318.5 565.3L320.9 565.2L323.2 565.2L325.6 565.2L327.9 565.2L330.3 565.2L332.6 565.2L335 565.2L337.3 565.2"/>
<path d="M57.2 576L59.6 575.8L61.9 575.6L64.3 575.4L66.6 575.3L69 575.1L71.3 574.9L73.7 574.8L76 574.6L78.4 574.4L80.7 574.3L83.1 574.1L85.4 574L87.8 573.9L90.2 573.7L92.5 573.6L94.9 573.5L97.2 573.3L99.6 573.2L101.9 573.1L104.3 573L106.6 572.9L109 572.7L111.3 572.6L113.7 572.5L116.1 572.4L118.4 572.3L120.8 572.2L123.1 572.1L125.5 572L127.8 572L130.2 571.9L132.5 571.8L134.9 571.7L137.2 571.6L139.6 571.5L141.9 571.5L144.3 571.4L146.7 571.3L149 571.2L151.4 571.2L153.7 571.1L156.1 571L158.4 571L160.8 570.9L163.1 570.9L165.5 570.8L167.8 570.7L170.2 570.7L172.6 570.6L174.9 570.6L177.3 570.5L179.6 570.5L182 570.4L184.3 570.4L186.7 570.3L189 570.3L191.4 570.2L193.7 570.2L196.1 570.1L198.4 570.1L200.8 570.1L203.2 570L205.5 570L207.9 570L210.2 569.9L212.6 569.9L214.9 569.8L217.3 569.8L219.6 569.8L222 569.8L224.3 569.7L226.7 569.7L229 569.7L231.4 569.6L233.8 569.6L236.1 569.6L238.5 569.5L240.8 569.5L243.2 569.5L245.5 569.5L247.9 569.5L250.2 569.4L252.6 569.4L254.9 569.4L257.3 569.4L259.7 569.3L262 569.3L264.4 569.3L266.7 569.3L269.1 569.3L271.4 569.2L273.8 569.2L276.1 569.2L278.5 569.2L280.8 569.2L283.2 569.2L285.5 569.1L287.9 569.1L290.3 569.1L292.6 569.1L295 569.1L297.3 569.1L299.7 569.1L302 569L304.4 569L306.7 569L309.1 569L311.4 569L313.8 569L316.1 569L318.5 569L320.9 569L323.2 568.9L325.6 568.9L327.9 568.9L330.3 568.9L332.6 568.9L335 568.9L337.3 568.9"/>
<path d="M57.2 583.9L59.6 584.8L61.9 585.6L64.3 586.2L66.6 586.8L69 587.3L71.3 587.7L73.7 588L76 588.3L78.4 588.5L80.7 588.8L83.1 588.9L85.4 589.1L87.8 589.2L90.2 589.3L92.5 589.4L94.9 589.5L97.2 589.6L99.6 589.6L101.9 589.7L104.3 589.7L106.6 589.7L109 589.8L111.3 589.8L113.7 589.8L116.1 589.8L118.4 589.9L120.8 589.9L123.1 589.9L125.5 589.9L127.8 589.9L130.2 589.9L132.5 589.9L134.9 589.9L137.2 589.9L139.6 589.9L141.9 589.9L144.3 589.9L146.7 589.9L149 589.9L151.4 589.9L153.7 589.9L156.1 589.9L158.4 589.9L160.8 589.9L163.1 589.9L165.5 589.9L167.8 589.9L170.2 589.9L172.6 589.9L174.9 589.9L177.3 589.9L179.6 589.9L182 589.9L184.3 589.9L186.7 589.9L189 589.9L191.4 589.9L193.7 589.9L196.1 589.9L198.4 589.9L200.8 589.9L203.2 589.9L205.5 589.9L207.9 589.9L210.2 589.9L212.6 589.9L214.9 589.9L217.3 589.9L219.6 589.9L222 589.9L224.3 589.9L226.7 589.9L229 589.9L231.4 589.9L233.8 589.9L236.1 589.9L238.5 589.9L240.8 589.9L243.2 589.9L245.5 589.9L247.9 589.9L250.2 589.9L252.6 589.9L254.9 589.9L257.3 589.9L259.7 589.9L262 589.9L264.4 589.9L266.7 589.9L269.1 589.9L271.4 589.9L273.8 589.9L276.1 589.9L278.5 589.9L280.8 589.9L283.2 589.9L285.5 589.9L287.9 589.9L290.3 589.9L292.6 589.9L295 589.9L297.3 589.9L299.7 589.9L302 589.9L304.4 589.9L306.7 589.9L309.1 589.9L311.4 589.9L313.8 589.9L316.1 589.9L318.5 589.9L320.9 589.9L323.2 589.9L325.6 589.9L327.9 589.9L330.3 589.9L332.6 589.9L335 589.9L337.3 589.9"/>
<path d="M57.2 583.9L59.6 587.2L61.9 590.1L64.3 592.9L66.6 595.4L69 597.7L71.3 599.9L73.7 601.8L76 603.6L78.4 605.3L80.7 606.8L83.1 608.2L85.4 609.5L87.8 610.7L90.2 611.7L92.5 612.7L94.9 613.7L97.2 614.5L99.6 615.3L101.9 616L104.3 616.6L106.6 617.2L109 617.8L111.3 618.3L113.7 618.7L116.1 619.2L118.4 619.6L120.8 619.9L123.1 620.2L125.5 620.5L127.8 620.8L130.2 621.1L132.5 621.3L134.9 621.5L137.2 621.7L139.6 621.9L141.9 622.1L144.3 622.2L146.7 622.4L149 622.5L151.4 622.6L153.7 622.7L156.1 622.8L158.4 622.9L160.8 623L163.1 623.1L165.5 623.2L167.8 623.2L170.2 623.3L172.6 623.3L174.9 623.4L177.3 623.4L179.6 623.5L182 623.5L184.3 623.6L186.7 623.6L189 623.6L191.4 623.7L193.7 623.7L196.1 623.7L198.4 623.7L200.8 623.7L203.2 623.8L205.5 623.8L207.9 623.8L210.2 623.8L212.6 623.8L214.9 623.8L217.3 623.8L219.6 623.9L222 623.9L224.3 623.9L226.7 623.9L229 623.9L231.4 623.9L233.8 623.9L236.1 623.9L238.5 623.9L240.8 623.9L243.2 623.9L245.5 623.9L247.9 623.9L250.2 623.9L252.6 623.9L254.9 623.9L257.3 623.9L259.7 623.9L262 623.9L264.4 623.9L266.7 624L269.1 624L271.4 624L273.8 624L276.1 624L278.5 624L280.8 624L283.2 624L285.5 624L287.9 624L290.3 624L292.6 624L295 624L297.3 624L299.7 624L302 624L304.4 624L306.7 624L309.1 624L311.4 624L313.8 624L316.1 624L318.5 624L320.9 624L323.2 624L325.6 624L327.9 624L330.3 624L332.6 624L335 624L337.3 624"/>
<path d="M57.2 583.9L59.6 589.5L61.9 594.4L64.3 598.9L66.6 602.9L69 606.5L71.3 609.7L73.7 612.5L76 615.1L78.4 617.4L80.7 619.4L83.1 621.3L85.4 622.9L87.8 624.4L90.2 625.7L92.5 626.9L94.9 627.9L97.2 628.9L99.6 629.7L101.9 630.5L104.3 631.1L106.6 631.8L109 632.3L111.3 632.8L113.7 633.2L116.1 633.6L118.4 633.9L120.8 634.3L123.1 634.5L125.5 634.8L127.8 635L130.2 635.2L132.5 635.4L134.9 635.6L137.2 635.7L139.6 635.8L141.9 635.9L144.3 636L146.7 636.1L149 636.2L151.4 636.3L153.7 636.4L156.1 636.4L158.4 636.5L160.8 636.5L163.1 636.6L165.5 636.6L167.8 636.6L170.2 636.7L172.6 636.7L174.9 636.7L177.3 636.7L179.6 636.8L182 636.8L184.3 636.8L186.7 636.8L189 636.8L191.4 636.8L193.7 636.8L196.1 636.8L198.4 636.9L200.8 636.9L203.2 636.9L205.5 636.9L207.9 636.9L210.2 636.9L212.6 636.9L214.9 636.9L217.3 636.9L219.6 636.9L222 636.9L224.3 636.9L226.7 636.9L229 636.9L231.4 636.9L233.8 636.9L236.1 636.9L238.5 636.9L240.8 636.9L243.2 636.9L245.5 636.9L247.9 636.9L250.2 636.9L252.6 636.9L254.9 636.9L257.3 636.9L259.7 636.9L262 636.9L264.4 636.9L266.7 636.9L269.1 636.9L271.4 636.9L273.8 636.9L276.1 636.9L278.5 636.9L280.8 636.9L283.2 636.9L285.5 636.9L287.9 636.9L290.3 636.9L292.6 636.9L295 636.9L297.3 636.9L299.7 636.9L302 636.9L304.4 636.9L306.7 636.9L309.1 636.9L311.4 636.9L313.8 636.9L316.1 636.9L318.5 636.9L320.9 636.9L323.2 636.9L325.6 636.9L327.9 636.9L330.3 636.9L332.6 636.9L335 636.9L337.3 636.9"/>
<path d="M57.2 583.9L59.6 590.4L61.9 596.2L64.3 601.4L66.6 606L69 610.2L71.3 613.9L73.7 617.1L76 620.1L78.4 622.7L80.7 625L83.1 627.1L85.4 629L87.8 630.6L90.2 632.1L92.5 633.4L94.9 634.6L97.2 635.6L99.6 636.6L101.9 637.4L104.3 638.2L106.6 638.8L109 639.4L111.3 639.9L113.7 640.4L116.1 640.8L118.4 641.2L120.8 641.5L123.1 641.8L125.5 642.1L127.8 642.3L130.2 642.6L132.5 642.7L134.9 642.9L137.2 643.1L139.6 643.2L141.9 643.3L144.3 643.4L146.7 643.5L149 643.6L151.4 643.7L153.7 643.8L156.1 643.8L158.4 643.9L160.8 643.9L163.1 644L165.5 644L167.8 644L170.2 644.1L172.6 644.1L174.9 644.1L177.3 644.1L179.6 644.2L182 644.2L184.3 644.2L186.7 644.2L189 644.2L191.4 644.2L193.7 644.2L196.1 644.2L198.4 644.3L200.8 644.3L203.2 644.3L205.5 644.3L207.9 644.3L210.2 644.3L212.6 644.3L214.9 644.3L217.3 644.3L219.6 644.3L222 644.3L224.3 644.3L226.7 644.3L229 644.3L231.4 644.3L233.8 644.3L236.1 644.3L238.5 644.3L240.8 644.3L243.2 644.3L245.5 644.3L247.9 644.3L250.2 644.3L252.6 644.3L254.9 644.3L257.3 644.3L259.7 644.3L262 644.3L264.4 644.3L266.7 644.3L269.1 644.3L271.4 644.3L273.8 644.3L276.1 644.3L278.5 644.3L280.8 644.3L283.2 644.3L285.5 644.3L287.9 644.3L290.3 644.3L292.6 644.3L295 644.3L297.3 644.3L299.7 644.3L302 644.3L304.4 644.3L306.7 644.3L309.1 644.3L311.4 644.3L313.8 644.3L316.1 644.3L318.5 644.3L320.9 644.3L323.2 644.3L325.6 644.3L327.9 644.3L330.3 644.3L332.6 644.3L335 644.3L337.3 644.3"/>
<path d="M57.2 583.9L59.6 596.6L61.9 608.5L64.3 619.4L66.6 629.6L69 639L71.3 647.8L73.7 655.9L76 663.4L78.4 670.4L80.7 676.9L83.1 682.9L85.4 688.5L87.8 693.7L90.2 698.5L92.5 703L94.9 707.1L97.2 710.9L99.6 714.5L101.9 717.8L104.3 720.9L106.6 723.7L109 726.4L111.3 728.8L113.7 731.1L116.1 733.2L118.4 735.1L120.8 736.9L123.1 738.6L125.5 740.2L127.8 741.6L130.2 743L132.5 744.2L134.9 745.4L137.2 746.4L139.6 747.4L141.9 748.4L144.3 749.2L146.7 750L149 750.8L151.4 751.4L153.7 752.1L156.1 752.7L158.4 753.2L160.8 753.7L163.1 754.2L165.5 754.6L167.8 755L170.2 755.4L172.6 755.7L174.9 756.1L177.3 756.4L179.6 756.6L182 756.9L184.3 757.1L186.7 757.4L189 757.6L191.4 757.8L193.7 757.9L196.1 758.1L198.4 758.3L200.8 758.4L203.2 758.5L205.5 758.7L207.9 758.8L210.2 758.9L212.6 759L214.9 759.1L217.3 759.1L219.6 759.2L222 759.3L224.3 759.4L226.7 759.4L229 759.5L231.4 759.5L233.8 759.6L236.1 759.6L238.5 759.7L240.8 759.7L243.2 759.7L245.5 759.8L247.9 759.8L250.2 759.8L252.6 759.9L254.9 759.9L257.3 759.9L259.7 759.9L262 760L264.4 760L266.7 760L269.1 760L271.4 760L273.8 760L276.1 760.1L278.5 760.1L280.8 760.1L283.2 760.1L285.5 760.1L287.9 760.1L290.3 760.1L292.6 760.1L295 760.1L297.3 760.1L299.7 760.1L302 760.1L304.4 760.2L306.7 760.2L309.1 760.2L311.4 760.2L313.8 760.2L316.1 760.2L318.5 760.2L320.9 760.2L323.2 760.2L325.6 760.2L327.9 760.2L330.3 760.2L332.6 760.2L335 760.2L337.3 760.2"/>
</g>
<g stroke="#333" stroke-width="1" fill="none" opacity="0.7">

<path d="M61.4 505.9V518.2M58.9 505.9H63.9M58.9 518.2H63.9"/>
<path d="M70.2 450V472.5M67.7 450H72.7M67.7 472.5H72.7"/>
<path d="M83.8 427.1H96.6M83.8 424.6V429.6M96.6 424.6V429.6"/><path d="M89.8 412.5V441.8M87.3 412.5H92.3M87.3 441.8H92.3"/>
<path d="M103.4 413.2H127.6M103.4 410.7V415.7M127.6 410.7V415.7"/><path d="M115.5 397V429.1M113 397H118M113 429.1H118"/>
<path d="M142.6 391.8H185.8M142.6 389.3V394.3M185.8 389.3V394.3"/><path d="M164.5 376.1V410.4M162 376.1H167M162 410.4H167"/>
<path d="M225.9 382H310M225.9 379.5V384.5M310 379.5V384.5"/><path d="M268.3 363V401.3M265.8 363H270.8M265.8 401.3H270.8"/>
<path d="M281 375H393.5M281 372.5V377.5M393.5 372.5V377.5"/><path d="M337.5 355V395M335 355H340M335 395H340"/>
</g>
<rect x="54.9" y="553.5" width="4.8" height="4.8" fill="#000"/>
<rect x="59" y="509.6" width="4.8" height="4.8" fill="#000"/>
<rect x="67.8" y="459" width="4.8" height="4.8" fill="#000"/>
<rect x="87.4" y="424.7" width="4.8" height="4.8" fill="#000"/>
<rect x="113.1" y="410.8" width="4.8" height="4.8" fill="#000"/>
<rect x="162.1" y="389.4" width="4.8" height="4.8" fill="#000"/>
<rect x="265.9" y="379.6" width="4.8" height="4.8" fill="#000"/>
<rect x="335.1" y="372.6" width="4.8" height="4.8" fill="#000"/>
<g stroke="#e8357f" stroke-width="1" fill="none" opacity="0.75">
<rect x="55.6" y="569.5" width="4.6" height="4.6" fill="#fff"/>
<rect x="59.1" y="557.7" width="4.6" height="4.6" fill="#fff"/>
<rect x="66.8" y="551.6" width="4.6" height="4.6" fill="#fff"/>
<path d="M83.8 546.7H96.6M83.8 544.2V549.2M96.6 544.2V549.2"/>
<rect x="87" y="544.4" width="4.6" height="4.6" fill="#fff"/>
<path d="M103.4 540.6H127.6M103.4 538.1V543.1M127.6 538.1V543.1"/>
<rect x="113.2" y="538.3" width="4.6" height="4.6" fill="#fff"/>
<path d="M142.6 534H185.8M142.6 531.5V536.5M185.8 531.5V536.5"/>
<path d="M165 528.5V539.5M162.5 528.5H167.5M162.5 539.5H167.5"/>
<rect x="162.7" y="531.7" width="4.6" height="4.6" fill="#fff"/>
<path d="M225.9 525H310M225.9 522.5V527.5M310 522.5V527.5"/>
<path d="M268.5 519.5V530.5M266 519.5H271M266 530.5H271"/>
<rect x="266.2" y="522.7" width="4.6" height="4.6" fill="#fff"/>
<path d="M281 521.5H393.5M281 519V524M393.5 519V524"/>
<path d="M337.5 516V527M335 516H340M335 527H340"/>
<rect x="335.2" y="519.2" width="4.6" height="4.6" fill="#fff"/>
</g>
<g stroke="#3a8a3a" stroke-width="1" fill="none" opacity="0.6">
<path d="M83.8 573.5H96.6M83.8 571V576M96.6 571V576"/>
<path d="M103.4 573H127.6M103.4 570.5V575.5M127.6 570.5V575.5"/>
<path d="M142.6 571H185.8M142.6 568.5V573.5M185.8 568.5V573.5"/>
<path d="M225.9 569H310M225.9 566.5V571.5M310 566.5V571.5"/>
<path d="M281 569H393.5M281 566.5V571.5M393.5 566.5V571.5"/>
</g>
<g stroke="#2233ee" stroke-width="1" fill="none" opacity="0.6">
<path d="M83.8 570H96.6M83.8 567.5V572.5M96.6 567.5V572.5"/>
<path d="M103.4 569.5H127.6M103.4 567V572M127.6 567V572"/>
<path d="M142.6 568H185.8M142.6 565.5V570.5M185.8 565.5V570.5"/>
<path d="M225.9 565H310M225.9 562.5V567.5M310 562.5V567.5"/>
<path d="M281 565H393.5M281 562.5V567.5M393.5 562.5V567.5"/>
</g>
<g stroke="#ee2222" stroke-width="1" fill="none" opacity="0.6">
<path d="M83.8 568.2H96.6M83.8 565.7V570.7M96.6 565.7V570.7"/>
<path d="M103.4 567.1H127.6M103.4 564.6V569.6M127.6 564.6V569.6"/>
<path d="M142.6 566H185.8M142.6 563.5V568.5M185.8 563.5V568.5"/>
<path d="M225.9 562.5H310M225.9 560V565M310 560V565"/>
<path d="M281 561H393.5M281 558.5V563.5M393.5 558.5V563.5"/>
</g>
<circle cx="61.4" cy="574.5" r="2.6" fill="none" stroke="#3a8a3a" stroke-width="1"/>
<circle cx="70.6" cy="574.3" r="2.6" fill="none" stroke="#3a8a3a" stroke-width="1"/>
<circle cx="89.3" cy="573.5" r="2.6" fill="none" stroke="#3a8a3a" stroke-width="1"/>
<circle cx="115.5" cy="573" r="2.6" fill="none" stroke="#3a8a3a" stroke-width="1"/>
<circle cx="165" cy="571" r="2.6" fill="none" stroke="#3a8a3a" stroke-width="1"/>
<circle cx="268.5" cy="569" r="2.6" fill="none" stroke="#3a8a3a" stroke-width="1"/>
<circle cx="337.5" cy="569" r="2.6" fill="none" stroke="#3a8a3a" stroke-width="1"/>
<rect x="55.1" y="571.8" width="4.4" height="4.4" fill="#2233ee"/>
<rect x="59.2" y="571.3" width="4.4" height="4.4" fill="#2233ee"/>
<rect x="68.4" y="570.8" width="4.4" height="4.4" fill="#2233ee"/>
<rect x="87.1" y="567.8" width="4.4" height="4.4" fill="#2233ee"/>
<rect x="113.3" y="567.3" width="4.4" height="4.4" fill="#2233ee"/>
<rect x="162.8" y="565.8" width="4.4" height="4.4" fill="#2233ee"/>
<rect x="266.3" y="562.8" width="4.4" height="4.4" fill="#2233ee"/>
<rect x="335.3" y="562.8" width="4.4" height="4.4" fill="#2233ee"/>
<path d="M58.4 574.7L61.4 569.2L64.4 574.7Z" fill="#ee2222"/>
<path d="M67.6 573.7L70.6 568.2L73.6 573.7Z" fill="#ee2222"/>
<path d="M86.3 570.7L89.3 565.2L92.3 570.7Z" fill="#ee2222"/>
<path d="M112.5 569.6L115.5 564.1L118.5 569.6Z" fill="#ee2222"/>
<path d="M162 568.5L165 563L168 568.5Z" fill="#ee2222"/>
<path d="M265.5 565L268.5 559.5L271.5 565Z" fill="#ee2222"/>
<path d="M334.5 563.5L337.5 558L340.5 563.5Z" fill="#ee2222"/>
<g stroke="#2e7a1e" stroke-width="1" fill="none" opacity="0.6">
<path d="M83.8 589.8H96.6M83.8 587.3V592.3M96.6 587.3V592.3"/>
<path d="M103.4 589.2H127.6M103.4 586.7V591.7M127.6 586.7V591.7"/>
<path d="M142.6 589.3H185.8M142.6 586.8V591.8M185.8 586.8V591.8"/>
<path d="M225.9 589H310M225.9 586.5V591.5M310 586.5V591.5"/>
<path d="M281 589H393.5M281 586.5V591.5M393.5 586.5V591.5"/>
</g>
<g stroke="#ee2222" stroke-width="1" fill="none" opacity="0.6">
<path d="M83.8 609.6H96.6M83.8 607.1V612.1M96.6 607.1V612.1"/>
<path d="M89.3 605.6V613.6M86.8 605.6H91.8M86.8 613.6H91.8"/>
<path d="M103.4 613.1H127.6M103.4 610.6V615.6M127.6 610.6V615.6"/>
<path d="M115.5 609.1V617.1M113 609.1H118M113 617.1H118"/>
<path d="M142.6 617.5H185.8M142.6 615V620M185.8 615V620"/>
<path d="M165 613.5V621.5M162.5 613.5H167.5M162.5 621.5H167.5"/>
<path d="M225.9 626H310M225.9 623.5V628.5M310 623.5V628.5"/>
<path d="M268.5 622V630M266 622H271M266 630H271"/>
<path d="M281 628.5H393.5M281 626V631M393.5 626V631"/>
<path d="M337.5 624.5V632.5M335 624.5H340M335 632.5H340"/>
</g>
<g stroke="#333" stroke-width="1" fill="none" opacity="0.6">
<path d="M83.8 622.3H96.6M83.8 619.8V624.8M96.6 619.8V624.8"/>
<path d="M89.3 617.8V626.8M86.8 617.8H91.8M86.8 626.8H91.8"/>
<path d="M103.4 627.4H127.6M103.4 624.9V629.9M127.6 624.9V629.9"/>
<path d="M115.5 622.9V631.9M113 622.9H118M113 631.9H118"/>
<path d="M142.6 632.5H185.8M142.6 630V635M185.8 630V635"/>
<path d="M165 628V637M162.5 628H167.5M162.5 637H167.5"/>
<path d="M225.9 640H310M225.9 637.5V642.5M310 637.5V642.5"/>
<path d="M268.5 635.5V644.5M266 635.5H271M266 644.5H271"/>
<path d="M281 641.5H393.5M281 639V644M393.5 639V644"/>
<path d="M337.5 637V646M335 637H340M335 646H340"/>
</g>
<g stroke="#2233ee" stroke-width="1" fill="none" opacity="0.6">
<path d="M83.8 632.7H96.6M83.8 630.2V635.2M96.6 630.2V635.2"/>
<path d="M89.3 627.2V638.2M86.8 627.2H91.8M86.8 638.2H91.8"/>
<path d="M103.4 637.6H127.6M103.4 635.1V640.1M127.6 635.1V640.1"/>
<path d="M115.5 632.1V643.1M113 632.1H118M113 643.1H118"/>
<path d="M142.6 642.5H185.8M142.6 640V645M185.8 640V645"/>
<path d="M165 637V648M162.5 637H167.5M162.5 648H167.5"/>
<path d="M225.9 644H310M225.9 641.5V646.5M310 641.5V646.5"/>
<path d="M268.5 638.5V649.5M266 638.5H271M266 649.5H271"/>
<path d="M281 645H393.5M281 642.5V647.5M393.5 642.5V647.5"/>
<path d="M337.5 639.5V650.5M335 639.5H340M335 650.5H340"/>
</g>
<g stroke="#2233ee" stroke-width="1" fill="none" opacity="0.6">


<path d="M70.6 650.4V665.5M68.1 650.4H73.1M68.1 665.5H73.1"/>
<path d="M83.8 696.5H96.6M83.8 694V699M96.6 694V699"/><path d="M89.3 685.7V707.9M86.8 685.7H91.8M86.8 707.9H91.8"/>
<path d="M103.4 718.4H127.6M103.4 715.9V720.9M127.6 715.9V720.9"/><path d="M115.5 704.7V732.4M113 704.7H118M113 732.4H118"/>
<path d="M142.6 739.6H185.8M142.6 737.1V742.1M185.8 737.1V742.1"/><path d="M164.4 724.2V755M161.9 724.2H166.9M161.9 755H166.9"/>
<path d="M225.9 766.5H310M225.9 764V769M310 764V769"/><path d="M268.5 747.5V785M266 747.5H271M266 785H271"/>
<path d="M281 773.5H393.5M281 771V776M393.5 771V776"/><path d="M337.5 754V792.5M335 754H340M335 792.5H340"/>
</g>
<path d="M54 583L60.6 583L57.3 589Z" fill="#2e7a1e"/>
<path d="M58.1 584.2L64.7 584.2L61.4 590.2Z" fill="#2e7a1e"/>
<path d="M67.3 585.8L73.9 585.8L70.6 591.8Z" fill="#2e7a1e"/>
<path d="M86 587L92.6 587L89.3 593Z" fill="#2e7a1e"/>
<path d="M112.2 586.4L118.8 586.4L115.5 592.4Z" fill="#2e7a1e"/>
<path d="M161.7 586.5L168.3 586.5L165 592.5Z" fill="#2e7a1e"/>
<path d="M265.2 586.2L271.8 586.2L268.5 592.2Z" fill="#2e7a1e"/>
<path d="M334.2 586.2L340.8 586.2L337.5 592.2Z" fill="#2e7a1e"/>
<rect x="54.8" y="585" width="5" height="5" fill="#ee2020"/>
<rect x="58.9" y="591.8" width="5" height="5" fill="#ee2020"/>
<rect x="68.1" y="599.5" width="5" height="5" fill="#ee2020"/>
<rect x="86.8" y="607.1" width="5" height="5" fill="#ee2020"/>
<rect x="113" y="610.6" width="5" height="5" fill="#ee2020"/>
<rect x="162.5" y="615" width="5" height="5" fill="#ee2020"/>
<rect x="266" y="623.5" width="5" height="5" fill="#ee2020"/>
<rect x="335" y="626" width="5" height="5" fill="#ee2020"/>
<rect x="58.9" y="600" width="5" height="5" fill="#000"/>
<rect x="68.1" y="610.6" width="5" height="5" fill="#000"/>
<rect x="86.8" y="619.8" width="5" height="5" fill="#000"/>
<rect x="113" y="624.9" width="5" height="5" fill="#000"/>
<rect x="162.5" y="630" width="5" height="5" fill="#000"/>
<rect x="266" y="637.5" width="5" height="5" fill="#000"/>
<rect x="335" y="639" width="5" height="5" fill="#000"/>
<circle cx="61.4" cy="609.6" r="2.8" fill="#fff" stroke="#2233ee" stroke-width="1"/>
<circle cx="70.6" cy="623.3" r="2.8" fill="#fff" stroke="#2233ee" stroke-width="1"/>
<circle cx="89.3" cy="632.7" r="2.8" fill="#fff" stroke="#2233ee" stroke-width="1"/>
<circle cx="115.5" cy="637.6" r="2.8" fill="#fff" stroke="#2233ee" stroke-width="1"/>
<circle cx="165" cy="642.5" r="2.8" fill="#fff" stroke="#2233ee" stroke-width="1"/>
<circle cx="268.5" cy="644" r="2.8" fill="#fff" stroke="#2233ee" stroke-width="1"/>
<circle cx="337.5" cy="645" r="2.8" fill="#fff" stroke="#2233ee" stroke-width="1"/>
<rect x="54.8" y="586.7" width="5" height="5" fill="#1020ee"/>
<rect x="58.9" y="619.4" width="5" height="5" fill="#1020ee"/>
<rect x="68.1" y="655.3" width="5" height="5" fill="#1020ee"/>
<rect x="86.8" y="694" width="5" height="5" fill="#1020ee"/>
<rect x="113" y="715.9" width="5" height="5" fill="#1020ee"/>
<rect x="161.9" y="737.1" width="5" height="5" fill="#1020ee"/>
<rect x="266" y="764" width="5" height="5" fill="#1020ee"/>
<rect x="335" y="771" width="5" height="5" fill="#1020ee"/>
<text x="404" y="380" font-size="11" fill="#111" text-anchor="start" font-family='"Liberation Sans", sans-serif' textLength="30" lengthAdjust="spacingAndGlyphs" >H<tspan font-size="7" dy="3.5">3</tspan><tspan dy="-3.5">O</tspan><tspan font-size="7" dy="-5">+</tspan></text>
<text x="401" y="524" font-size="11" fill="#e8357f" text-anchor="start" font-family='"Liberation Sans", sans-serif' textLength="35" lengthAdjust="spacingAndGlyphs" >HSO<tspan font-size="7" dy="3.5">3</tspan><tspan font-size="7" dy="-9">-</tspan></text>
<text x="419.6" y="554.6" font-size="11" fill="#ee2222" text-anchor="start" font-family='"Liberation Sans", sans-serif' textLength="29.4" lengthAdjust="spacingAndGlyphs" >SO<tspan font-size="7" dy="3.5">4</tspan><tspan font-size="7" dy="-9.5">-2</tspan></text>
<text x="408.2" y="565.2" font-size="11" fill="#2233ee" text-anchor="start" font-family='"Liberation Sans", sans-serif' textLength="22" lengthAdjust="spacingAndGlyphs" >SO<tspan font-size="7" dy="3.5">3</tspan></text>
<text x="399.3" y="581.6" font-size="11" fill="#3a8a3a" text-anchor="start" font-family='"Liberation Sans", sans-serif' textLength="18.6" lengthAdjust="spacingAndGlyphs" >CO</text>
<text x="402.4" y="597.9" font-size="11" fill="#111" text-anchor="start" font-family='"Liberation Sans", sans-serif' textLength="22.1" lengthAdjust="spacingAndGlyphs" >NH<tspan font-size="7" dy="3.5">3</tspan></text>
<text x="410" y="630" font-size="11" fill="#ee2222" text-anchor="start" font-family='"Liberation Sans", sans-serif' textLength="24" lengthAdjust="spacingAndGlyphs" >CO<tspan font-size="7" dy="3.5">2</tspan></text>
<text x="404" y="647.5" font-size="11" fill="#111" text-anchor="start" font-family='"Liberation Sans", sans-serif' textLength="22" lengthAdjust="spacingAndGlyphs" >SO<tspan font-size="7" dy="3.5">2</tspan></text>
<text x="391" y="663" font-size="11" fill="#2233ee" text-anchor="start" font-family='"Liberation Sans", sans-serif' textLength="35.5" lengthAdjust="spacingAndGlyphs" >OH db</text>
<text x="404" y="781.5" font-size="11" fill="#2233ee" text-anchor="start" font-family='"Liberation Sans", sans-serif' textLength="22" lengthAdjust="spacingAndGlyphs" >H<tspan font-size="7" dy="3.5">2</tspan><tspan dy="-3.5">O</tspan></text>
</svg>
</body></html>
